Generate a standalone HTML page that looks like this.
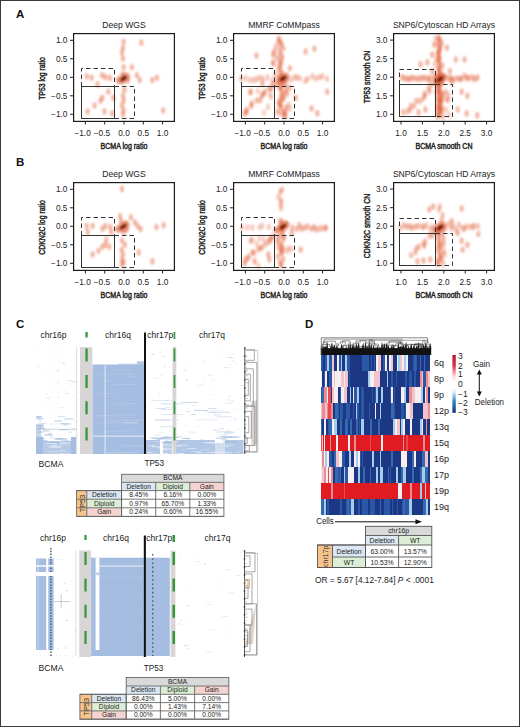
<!DOCTYPE html>
<html><head><meta charset="utf-8"><style>
html,body{margin:0;padding:0;background:#fff;width:520px;height:727px;overflow:hidden}
svg{display:block}
text{font-family:"Liberation Sans",sans-serif}
</style></head><body>
<svg width="520" height="727" viewBox="0 0 520 727">
<defs>
<filter id="blur" x="-50%" y="-50%" width="200%" height="200%"><feGaussianBlur stdDeviation="1.25"/></filter>
<filter id="blur2" x="-50%" y="-50%" width="200%" height="200%"><feGaussianBlur stdDeviation="0.9"/></filter>
</defs>
<rect x="0" y="0" width="520" height="727" fill="#fff"/>
<g filter="url(#blur)">
<ellipse cx="123.6" cy="41.8" rx="2.1" ry="3.3" fill="#e3643f" fill-opacity="0.47"/>
<ellipse cx="123.0" cy="47.7" rx="2.1" ry="3.3" fill="#e3643f" fill-opacity="0.47"/>
<ellipse cx="122.0" cy="52.6" rx="2.1" ry="3.3" fill="#e3643f" fill-opacity="0.47"/>
<ellipse cx="123.0" cy="58.5" rx="2.1" ry="3.3" fill="#e3643f" fill-opacity="0.47"/>
<ellipse cx="123.6" cy="67.3" rx="2.1" ry="3.3" fill="#e3643f" fill-opacity="0.47"/>
<ellipse cx="123.0" cy="74.2" rx="2.1" ry="3.3" fill="#e3643f" fill-opacity="0.47"/>
<ellipse cx="124.4" cy="89.9" rx="2.1" ry="3.3" fill="#e3643f" fill-opacity="0.47"/>
<ellipse cx="123.0" cy="95.8" rx="2.1" ry="3.3" fill="#e3643f" fill-opacity="0.47"/>
<ellipse cx="123.6" cy="100.7" rx="2.1" ry="3.3" fill="#e3643f" fill-opacity="0.47"/>
<ellipse cx="122.0" cy="105.6" rx="2.1" ry="3.3" fill="#e3643f" fill-opacity="0.47"/>
<ellipse cx="123.6" cy="110.5" rx="2.1" ry="3.3" fill="#e3643f" fill-opacity="0.47"/>
<ellipse cx="123.0" cy="114.4" rx="2.1" ry="3.3" fill="#e3643f" fill-opacity="0.47"/>
<ellipse cx="141.3" cy="42.8" rx="2.1" ry="3.3" fill="#e3643f" fill-opacity="0.47"/>
<ellipse cx="131.8" cy="67.3" rx="2.1" ry="3.3" fill="#e3643f" fill-opacity="0.47"/>
<ellipse cx="136.8" cy="75.2" rx="2.1" ry="3.3" fill="#e3643f" fill-opacity="0.47"/>
<ellipse cx="139.7" cy="80.1" rx="2.1" ry="3.3" fill="#e3643f" fill-opacity="0.47"/>
<ellipse cx="152.4" cy="80.1" rx="2.1" ry="3.3" fill="#e3643f" fill-opacity="0.47"/>
<ellipse cx="157.0" cy="77.7" rx="2.1" ry="3.3" fill="#e3643f" fill-opacity="0.47"/>
<ellipse cx="163.2" cy="110.5" rx="2.1" ry="3.3" fill="#e3643f" fill-opacity="0.47"/>
<ellipse cx="86.7" cy="76.5" rx="2.1" ry="3.3" fill="#e3643f" fill-opacity="0.47"/>
<ellipse cx="91.6" cy="77.7" rx="2.1" ry="3.3" fill="#e3643f" fill-opacity="0.47"/>
<ellipse cx="102.0" cy="75.2" rx="2.1" ry="3.3" fill="#e3643f" fill-opacity="0.47"/>
<ellipse cx="105.4" cy="77.1" rx="2.1" ry="3.3" fill="#e3643f" fill-opacity="0.47"/>
<ellipse cx="109.9" cy="78.1" rx="2.1" ry="3.3" fill="#e3643f" fill-opacity="0.47"/>
<ellipse cx="97.5" cy="84.4" rx="2.1" ry="3.3" fill="#e3643f" fill-opacity="0.47"/>
<ellipse cx="108.3" cy="91.8" rx="2.1" ry="3.3" fill="#e3643f" fill-opacity="0.47"/>
<ellipse cx="102.4" cy="97.7" rx="2.1" ry="3.3" fill="#e3643f" fill-opacity="0.47"/>
<ellipse cx="100.5" cy="100.7" rx="2.1" ry="3.3" fill="#e3643f" fill-opacity="0.47"/>
<ellipse cx="94.6" cy="105.6" rx="2.1" ry="3.3" fill="#e3643f" fill-opacity="0.47"/>
<ellipse cx="87.7" cy="111.5" rx="2.1" ry="3.3" fill="#e3643f" fill-opacity="0.47"/>
<ellipse cx="104.4" cy="111.5" rx="2.1" ry="3.3" fill="#e3643f" fill-opacity="0.47"/>
<ellipse cx="112.2" cy="113.4" rx="2.1" ry="3.3" fill="#e3643f" fill-opacity="0.47"/>
<ellipse cx="113.2" cy="97.7" rx="2.1" ry="3.3" fill="#e3643f" fill-opacity="0.47"/>
<ellipse cx="118.1" cy="80.1" rx="2.1" ry="3.3" fill="#e3643f" fill-opacity="0.47"/>
<ellipse cx="127.9" cy="80.1" rx="2.1" ry="3.3" fill="#e3643f" fill-opacity="0.47"/>
</g>
<g filter="url(#blur2)"><ellipse cx="123.6" cy="78.5" rx="7.5" ry="4.8" fill="#e06038" fill-opacity="0.6" transform="rotate(-40 123.6 78.5)"/><ellipse cx="123.6" cy="78.5" rx="4" ry="1.8" fill="#5a0c02" fill-opacity="0.95" transform="rotate(-40 123.6 78.5)"/></g>
<rect x="73.6" y="33.6" width="100.8" height="87.8" fill="none" stroke="#1a1a1a" stroke-width="1.2"/>
<rect x="81.5" y="86.5" width="33.0" height="32.0" stroke="#333" stroke-width="1" fill="none"/>
<path d="M81.5 86.5V68.5H114.5V86.5" stroke="#333" stroke-width="1" fill="none" stroke-dasharray="4.5 3"/>
<path d="M114.5 86.5H134.5V118.5H114.5" stroke="#333" stroke-width="1" fill="none" stroke-dasharray="4.5 3"/>
<line x1="85.4" y1="121.5" x2="85.4" y2="124.5" stroke="#222" stroke-width="1"/>
<text x="82.6" y="135.8" font-size="8.3" text-anchor="middle" fill="#222">−1.0</text>
<line x1="104.7" y1="121.5" x2="104.7" y2="124.5" stroke="#222" stroke-width="1"/>
<text x="101.9" y="135.8" font-size="8.3" text-anchor="middle" fill="#222">−0.5</text>
<line x1="124.0" y1="121.5" x2="124.0" y2="124.5" stroke="#222" stroke-width="1"/>
<text x="124.0" y="135.8" font-size="8.3" text-anchor="middle" fill="#222">0.0</text>
<line x1="143.3" y1="121.5" x2="143.3" y2="124.5" stroke="#222" stroke-width="1"/>
<text x="143.3" y="135.8" font-size="8.3" text-anchor="middle" fill="#222">0.5</text>
<line x1="162.6" y1="121.5" x2="162.6" y2="124.5" stroke="#222" stroke-width="1"/>
<text x="162.6" y="135.8" font-size="8.3" text-anchor="middle" fill="#222">1.0</text>
<line x1="70" y1="40.3" x2="73" y2="40.3" stroke="#222" stroke-width="1"/>
<text x="67.5" y="43.3" font-size="8.3" text-anchor="end" fill="#222">1.0</text>
<line x1="70" y1="58.8" x2="73" y2="58.8" stroke="#222" stroke-width="1"/>
<text x="67.5" y="61.8" font-size="8.3" text-anchor="end" fill="#222">0.5</text>
<line x1="70" y1="77.3" x2="73" y2="77.3" stroke="#222" stroke-width="1"/>
<text x="67.5" y="80.3" font-size="8.3" text-anchor="end" fill="#222">0.0</text>
<line x1="70" y1="95.8" x2="73" y2="95.8" stroke="#222" stroke-width="1"/>
<text x="67.5" y="98.8" font-size="8.3" text-anchor="end" fill="#222">−0.5</text>
<line x1="70" y1="114.3" x2="73" y2="114.3" stroke="#222" stroke-width="1"/>
<text x="67.5" y="117.3" font-size="8.3" text-anchor="end" fill="#222">−1.0</text>
<text x="124" y="28" font-size="8.6" text-anchor="middle" fill="#222">Deep WGS</text>
<text transform="translate(124.0 148.5) scale(0.8 1)" font-size="8.8" text-anchor="middle" fill="#222" stroke="#222" stroke-width="0.45">BCMA log ratio</text>
<text transform="translate(44.6 78.5) rotate(-90) scale(0.78 1)" font-size="8.8" text-anchor="middle" fill="#222" stroke="#222" stroke-width="0.45">TP53 log ratio</text>
<g filter="url(#blur)">
<ellipse cx="278.7" cy="39.0" rx="2.1" ry="3.3" fill="#e3643f" fill-opacity="0.36"/>
<ellipse cx="278.8" cy="41.6" rx="2.1" ry="3.3" fill="#e3643f" fill-opacity="0.36"/>
<ellipse cx="280.8" cy="42.6" rx="2.1" ry="3.3" fill="#e3643f" fill-opacity="0.36"/>
<ellipse cx="276.6" cy="45.6" rx="2.1" ry="3.3" fill="#e3643f" fill-opacity="0.36"/>
<ellipse cx="283.7" cy="48.5" rx="2.1" ry="3.3" fill="#e3643f" fill-opacity="0.36"/>
<ellipse cx="280.1" cy="49.7" rx="2.1" ry="3.3" fill="#e3643f" fill-opacity="0.36"/>
<ellipse cx="279.6" cy="52.7" rx="2.1" ry="3.3" fill="#e3643f" fill-opacity="0.36"/>
<ellipse cx="281.3" cy="55.1" rx="2.1" ry="3.3" fill="#e3643f" fill-opacity="0.36"/>
<ellipse cx="282.4" cy="57.0" rx="2.1" ry="3.3" fill="#e3643f" fill-opacity="0.36"/>
<ellipse cx="281.2" cy="60.2" rx="2.1" ry="3.3" fill="#e3643f" fill-opacity="0.36"/>
<ellipse cx="281.2" cy="62.4" rx="2.1" ry="3.3" fill="#e3643f" fill-opacity="0.36"/>
<ellipse cx="279.9" cy="63.8" rx="2.1" ry="3.3" fill="#e3643f" fill-opacity="0.36"/>
<ellipse cx="280.3" cy="65.9" rx="2.1" ry="3.3" fill="#e3643f" fill-opacity="0.36"/>
<ellipse cx="280.4" cy="69.5" rx="2.1" ry="3.3" fill="#e3643f" fill-opacity="0.36"/>
<ellipse cx="281.4" cy="72.0" rx="2.1" ry="3.3" fill="#e3643f" fill-opacity="0.36"/>
<ellipse cx="282.4" cy="74.2" rx="2.1" ry="3.3" fill="#e3643f" fill-opacity="0.36"/>
<ellipse cx="279.8" cy="76.0" rx="2.1" ry="3.3" fill="#e3643f" fill-opacity="0.36"/>
<ellipse cx="285.9" cy="78.6" rx="2.1" ry="3.3" fill="#e3643f" fill-opacity="0.36"/>
<ellipse cx="282.4" cy="80.9" rx="2.1" ry="3.3" fill="#e3643f" fill-opacity="0.36"/>
<ellipse cx="285.5" cy="83.7" rx="2.1" ry="3.3" fill="#e3643f" fill-opacity="0.36"/>
<ellipse cx="282.4" cy="85.1" rx="2.1" ry="3.3" fill="#e3643f" fill-opacity="0.36"/>
<ellipse cx="280.0" cy="87.2" rx="2.1" ry="3.3" fill="#e3643f" fill-opacity="0.36"/>
<ellipse cx="281.5" cy="89.7" rx="2.1" ry="3.3" fill="#e3643f" fill-opacity="0.36"/>
<ellipse cx="281.6" cy="92.5" rx="2.1" ry="3.3" fill="#e3643f" fill-opacity="0.36"/>
<ellipse cx="284.0" cy="94.5" rx="2.1" ry="3.3" fill="#e3643f" fill-opacity="0.36"/>
<ellipse cx="281.1" cy="96.8" rx="2.1" ry="3.3" fill="#e3643f" fill-opacity="0.36"/>
<ellipse cx="282.0" cy="99.1" rx="2.1" ry="3.3" fill="#e3643f" fill-opacity="0.36"/>
<ellipse cx="279.0" cy="101.7" rx="2.1" ry="3.3" fill="#e3643f" fill-opacity="0.36"/>
<ellipse cx="280.9" cy="104.7" rx="2.1" ry="3.3" fill="#e3643f" fill-opacity="0.36"/>
<ellipse cx="280.4" cy="105.7" rx="2.1" ry="3.3" fill="#e3643f" fill-opacity="0.36"/>
<ellipse cx="281.1" cy="108.0" rx="2.1" ry="3.3" fill="#e3643f" fill-opacity="0.36"/>
<ellipse cx="277.3" cy="111.4" rx="2.1" ry="3.3" fill="#e3643f" fill-opacity="0.36"/>
<ellipse cx="279.3" cy="112.7" rx="2.1" ry="3.3" fill="#e3643f" fill-opacity="0.36"/>
<ellipse cx="283.0" cy="115.1" rx="2.1" ry="3.3" fill="#e3643f" fill-opacity="0.36"/>
<ellipse cx="279.2" cy="39.3" rx="2.1" ry="3.3" fill="#e3643f" fill-opacity="0.33"/>
<ellipse cx="281.6" cy="43.7" rx="2.1" ry="3.3" fill="#e3643f" fill-opacity="0.33"/>
<ellipse cx="281.4" cy="46.2" rx="2.1" ry="3.3" fill="#e3643f" fill-opacity="0.33"/>
<ellipse cx="275.1" cy="49.6" rx="2.1" ry="3.3" fill="#e3643f" fill-opacity="0.33"/>
<ellipse cx="273.8" cy="52.4" rx="2.1" ry="3.3" fill="#e3643f" fill-opacity="0.33"/>
<ellipse cx="276.6" cy="57.1" rx="2.1" ry="3.3" fill="#e3643f" fill-opacity="0.33"/>
<ellipse cx="278.3" cy="59.0" rx="2.1" ry="3.3" fill="#e3643f" fill-opacity="0.33"/>
<ellipse cx="273.4" cy="64.1" rx="2.1" ry="3.3" fill="#e3643f" fill-opacity="0.33"/>
<ellipse cx="278.6" cy="66.8" rx="2.1" ry="3.3" fill="#e3643f" fill-opacity="0.33"/>
<ellipse cx="278.1" cy="70.7" rx="2.1" ry="3.3" fill="#e3643f" fill-opacity="0.33"/>
<ellipse cx="284.0" cy="85.1" rx="2.1" ry="3.3" fill="#e3643f" fill-opacity="0.33"/>
<ellipse cx="290.1" cy="88.0" rx="2.1" ry="3.3" fill="#e3643f" fill-opacity="0.33"/>
<ellipse cx="285.9" cy="90.8" rx="2.1" ry="3.3" fill="#e3643f" fill-opacity="0.33"/>
<ellipse cx="287.5" cy="94.3" rx="2.1" ry="3.3" fill="#e3643f" fill-opacity="0.33"/>
<ellipse cx="283.9" cy="97.7" rx="2.1" ry="3.3" fill="#e3643f" fill-opacity="0.33"/>
<ellipse cx="280.2" cy="100.8" rx="2.1" ry="3.3" fill="#e3643f" fill-opacity="0.33"/>
<ellipse cx="288.8" cy="104.8" rx="2.1" ry="3.3" fill="#e3643f" fill-opacity="0.33"/>
<ellipse cx="286.2" cy="107.8" rx="2.1" ry="3.3" fill="#e3643f" fill-opacity="0.33"/>
<ellipse cx="283.3" cy="111.6" rx="2.1" ry="3.3" fill="#e3643f" fill-opacity="0.33"/>
<ellipse cx="284.3" cy="114.9" rx="2.1" ry="3.3" fill="#e3643f" fill-opacity="0.33"/>
<ellipse cx="241.0" cy="78.8" rx="2.1" ry="3.3" fill="#e3643f" fill-opacity="0.36"/>
<ellipse cx="245.6" cy="78.3" rx="2.1" ry="3.3" fill="#e3643f" fill-opacity="0.36"/>
<ellipse cx="250.1" cy="80.0" rx="2.1" ry="3.3" fill="#e3643f" fill-opacity="0.36"/>
<ellipse cx="254.0" cy="80.1" rx="2.1" ry="3.3" fill="#e3643f" fill-opacity="0.36"/>
<ellipse cx="256.9" cy="78.7" rx="2.1" ry="3.3" fill="#e3643f" fill-opacity="0.36"/>
<ellipse cx="260.2" cy="77.9" rx="2.1" ry="3.3" fill="#e3643f" fill-opacity="0.36"/>
<ellipse cx="263.2" cy="79.2" rx="2.1" ry="3.3" fill="#e3643f" fill-opacity="0.36"/>
<ellipse cx="267.6" cy="77.6" rx="2.1" ry="3.3" fill="#e3643f" fill-opacity="0.36"/>
<ellipse cx="272.5" cy="80.8" rx="2.1" ry="3.3" fill="#e3643f" fill-opacity="0.36"/>
<ellipse cx="274.9" cy="75.5" rx="2.1" ry="3.3" fill="#e3643f" fill-opacity="0.36"/>
<ellipse cx="278.7" cy="78.3" rx="2.1" ry="3.3" fill="#e3643f" fill-opacity="0.36"/>
<ellipse cx="281.9" cy="77.0" rx="2.1" ry="3.3" fill="#e3643f" fill-opacity="0.36"/>
<ellipse cx="285.9" cy="79.3" rx="2.1" ry="3.3" fill="#e3643f" fill-opacity="0.36"/>
<ellipse cx="290.8" cy="79.6" rx="2.1" ry="3.3" fill="#e3643f" fill-opacity="0.36"/>
<ellipse cx="294.5" cy="77.4" rx="2.1" ry="3.3" fill="#e3643f" fill-opacity="0.36"/>
<ellipse cx="296.8" cy="77.4" rx="2.1" ry="3.3" fill="#e3643f" fill-opacity="0.36"/>
<ellipse cx="299.9" cy="78.2" rx="2.1" ry="3.3" fill="#e3643f" fill-opacity="0.36"/>
<ellipse cx="305.3" cy="80.9" rx="2.1" ry="3.3" fill="#e3643f" fill-opacity="0.36"/>
<ellipse cx="307.8" cy="79.0" rx="2.1" ry="3.3" fill="#e3643f" fill-opacity="0.36"/>
<ellipse cx="312.3" cy="76.2" rx="2.1" ry="3.3" fill="#e3643f" fill-opacity="0.36"/>
<ellipse cx="315.9" cy="78.6" rx="2.1" ry="3.3" fill="#e3643f" fill-opacity="0.36"/>
<ellipse cx="319.6" cy="77.2" rx="2.1" ry="3.3" fill="#e3643f" fill-opacity="0.36"/>
<ellipse cx="322.4" cy="76.2" rx="2.1" ry="3.3" fill="#e3643f" fill-opacity="0.36"/>
<ellipse cx="327.0" cy="78.7" rx="2.1" ry="3.3" fill="#e3643f" fill-opacity="0.36"/>
<ellipse cx="246.8" cy="112.1" rx="2.1" ry="3.3" fill="#e3643f" fill-opacity="0.45"/>
<ellipse cx="246.5" cy="109.8" rx="2.1" ry="3.3" fill="#e3643f" fill-opacity="0.45"/>
<ellipse cx="251.2" cy="105.9" rx="2.1" ry="3.3" fill="#e3643f" fill-opacity="0.45"/>
<ellipse cx="251.8" cy="103.4" rx="2.1" ry="3.3" fill="#e3643f" fill-opacity="0.45"/>
<ellipse cx="256.9" cy="100.6" rx="2.1" ry="3.3" fill="#e3643f" fill-opacity="0.45"/>
<ellipse cx="260.4" cy="99.9" rx="2.1" ry="3.3" fill="#e3643f" fill-opacity="0.45"/>
<ellipse cx="262.0" cy="95.5" rx="2.1" ry="3.3" fill="#e3643f" fill-opacity="0.45"/>
<ellipse cx="263.4" cy="93.9" rx="2.1" ry="3.3" fill="#e3643f" fill-opacity="0.45"/>
<ellipse cx="265.0" cy="92.1" rx="2.1" ry="3.3" fill="#e3643f" fill-opacity="0.45"/>
<ellipse cx="269.2" cy="88.4" rx="2.1" ry="3.3" fill="#e3643f" fill-opacity="0.45"/>
<ellipse cx="271.4" cy="88.7" rx="2.1" ry="3.3" fill="#e3643f" fill-opacity="0.45"/>
<ellipse cx="272.9" cy="84.4" rx="2.1" ry="3.3" fill="#e3643f" fill-opacity="0.45"/>
<ellipse cx="276.5" cy="83.7" rx="2.1" ry="3.3" fill="#e3643f" fill-opacity="0.45"/>
<ellipse cx="279.2" cy="81.7" rx="2.1" ry="3.3" fill="#e3643f" fill-opacity="0.45"/>
<ellipse cx="256.5" cy="55.6" rx="2.1" ry="3.3" fill="#e3643f" fill-opacity="0.47"/>
<ellipse cx="273.2" cy="54.6" rx="2.1" ry="3.3" fill="#e3643f" fill-opacity="0.47"/>
<ellipse cx="305.6" cy="51.6" rx="2.1" ry="3.3" fill="#e3643f" fill-opacity="0.47"/>
<ellipse cx="314.4" cy="48.7" rx="2.1" ry="3.3" fill="#e3643f" fill-opacity="0.47"/>
<ellipse cx="327.2" cy="91.8" rx="2.1" ry="3.3" fill="#e3643f" fill-opacity="0.47"/>
<ellipse cx="311.5" cy="108.5" rx="2.1" ry="3.3" fill="#e3643f" fill-opacity="0.47"/>
<ellipse cx="317.3" cy="113.4" rx="2.1" ry="3.3" fill="#e3643f" fill-opacity="0.47"/>
<ellipse cx="244.8" cy="113.4" rx="2.1" ry="3.3" fill="#e3643f" fill-opacity="0.47"/>
<ellipse cx="289.9" cy="68.3" rx="2.1" ry="3.3" fill="#e3643f" fill-opacity="0.47"/>
<ellipse cx="273.2" cy="62.4" rx="2.1" ry="3.3" fill="#e3643f" fill-opacity="0.47"/>
<ellipse cx="295.8" cy="97.7" rx="2.1" ry="3.3" fill="#e3643f" fill-opacity="0.47"/>
<ellipse cx="262.4" cy="84.0" rx="2.1" ry="3.3" fill="#e3643f" fill-opacity="0.47"/>
<ellipse cx="250.7" cy="91.8" rx="2.1" ry="3.3" fill="#e3643f" fill-opacity="0.47"/>
<ellipse cx="280.4" cy="87.9" rx="2.1" ry="3.3" fill="#e3643f" fill-opacity="0.3"/>
<ellipse cx="285.5" cy="112.0" rx="2.1" ry="3.3" fill="#e3643f" fill-opacity="0.3"/>
<ellipse cx="290.1" cy="108.8" rx="2.1" ry="3.3" fill="#e3643f" fill-opacity="0.3"/>
<ellipse cx="283.3" cy="99.3" rx="2.1" ry="3.3" fill="#e3643f" fill-opacity="0.3"/>
<ellipse cx="284.9" cy="114.4" rx="2.1" ry="3.3" fill="#e3643f" fill-opacity="0.3"/>
<ellipse cx="281.6" cy="94.8" rx="2.1" ry="3.3" fill="#e3643f" fill-opacity="0.3"/>
<ellipse cx="286.0" cy="116.3" rx="2.1" ry="3.3" fill="#e3643f" fill-opacity="0.3"/>
<ellipse cx="279.9" cy="86.9" rx="2.1" ry="3.3" fill="#e3643f" fill-opacity="0.3"/>
<ellipse cx="278.8" cy="103.6" rx="2.1" ry="3.3" fill="#e3643f" fill-opacity="0.3"/>
<ellipse cx="286.0" cy="91.7" rx="2.1" ry="3.3" fill="#e3643f" fill-opacity="0.3"/>
<ellipse cx="279.9" cy="104.6" rx="2.1" ry="3.3" fill="#e3643f" fill-opacity="0.3"/>
<ellipse cx="286.6" cy="107.6" rx="2.1" ry="3.3" fill="#e3643f" fill-opacity="0.3"/>
<ellipse cx="287.9" cy="87.9" rx="2.1" ry="3.3" fill="#e3643f" fill-opacity="0.3"/>
<ellipse cx="284.3" cy="112.2" rx="2.1" ry="3.3" fill="#e3643f" fill-opacity="0.3"/>
<ellipse cx="271.1" cy="97.3" rx="2.1" ry="3.3" fill="#e3643f" fill-opacity="0.3"/>
<ellipse cx="268.1" cy="106.9" rx="2.1" ry="3.3" fill="#e3643f" fill-opacity="0.3"/>
<ellipse cx="270.2" cy="94.7" rx="2.1" ry="3.3" fill="#e3643f" fill-opacity="0.3"/>
<ellipse cx="263.9" cy="112.7" rx="2.1" ry="3.3" fill="#e3643f" fill-opacity="0.3"/>
<ellipse cx="257.9" cy="90.9" rx="2.1" ry="3.3" fill="#e3643f" fill-opacity="0.3"/>
<ellipse cx="250.1" cy="92.5" rx="2.1" ry="3.3" fill="#e3643f" fill-opacity="0.3"/>
</g>
<g filter="url(#blur2)"><ellipse cx="283.0" cy="78.5" rx="7.5" ry="4.8" fill="#e06038" fill-opacity="0.6" transform="rotate(-40 283.0 78.5)"/><ellipse cx="283.0" cy="78.5" rx="4" ry="1.8" fill="#5a0c02" fill-opacity="0.95" transform="rotate(-40 283.0 78.5)"/></g>
<rect x="233.6" y="33.6" width="100.8" height="87.8" fill="none" stroke="#1a1a1a" stroke-width="1.2"/>
<rect x="241.5" y="86.5" width="33.0" height="32.0" stroke="#333" stroke-width="1" fill="none"/>
<path d="M241.5 86.5V68.5H274.5V86.5" stroke="#333" stroke-width="1" fill="none" stroke-dasharray="4.5 3"/>
<path d="M274.5 86.5H294.5V118.5H274.5" stroke="#333" stroke-width="1" fill="none" stroke-dasharray="4.5 3"/>
<line x1="245.4" y1="121.5" x2="245.4" y2="124.5" stroke="#222" stroke-width="1"/>
<text x="242.6" y="135.8" font-size="8.3" text-anchor="middle" fill="#222">−1.0</text>
<line x1="264.7" y1="121.5" x2="264.7" y2="124.5" stroke="#222" stroke-width="1"/>
<text x="261.9" y="135.8" font-size="8.3" text-anchor="middle" fill="#222">−0.5</text>
<line x1="284.0" y1="121.5" x2="284.0" y2="124.5" stroke="#222" stroke-width="1"/>
<text x="284.0" y="135.8" font-size="8.3" text-anchor="middle" fill="#222">0.0</text>
<line x1="303.3" y1="121.5" x2="303.3" y2="124.5" stroke="#222" stroke-width="1"/>
<text x="303.3" y="135.8" font-size="8.3" text-anchor="middle" fill="#222">0.5</text>
<line x1="322.6" y1="121.5" x2="322.6" y2="124.5" stroke="#222" stroke-width="1"/>
<text x="322.6" y="135.8" font-size="8.3" text-anchor="middle" fill="#222">1.0</text>
<line x1="230" y1="40.3" x2="233" y2="40.3" stroke="#222" stroke-width="1"/>
<text x="227.5" y="43.3" font-size="8.3" text-anchor="end" fill="#222">1.0</text>
<line x1="230" y1="58.8" x2="233" y2="58.8" stroke="#222" stroke-width="1"/>
<text x="227.5" y="61.8" font-size="8.3" text-anchor="end" fill="#222">0.5</text>
<line x1="230" y1="77.3" x2="233" y2="77.3" stroke="#222" stroke-width="1"/>
<text x="227.5" y="80.3" font-size="8.3" text-anchor="end" fill="#222">0.0</text>
<line x1="230" y1="95.8" x2="233" y2="95.8" stroke="#222" stroke-width="1"/>
<text x="227.5" y="98.8" font-size="8.3" text-anchor="end" fill="#222">−0.5</text>
<line x1="230" y1="114.3" x2="233" y2="114.3" stroke="#222" stroke-width="1"/>
<text x="227.5" y="117.3" font-size="8.3" text-anchor="end" fill="#222">−1.0</text>
<text x="284" y="28" font-size="8.6" text-anchor="middle" fill="#222">MMRF CoMMpass</text>
<text transform="translate(284.0 148.5) scale(0.8 1)" font-size="8.8" text-anchor="middle" fill="#222" stroke="#222" stroke-width="0.45">BCMA log ratio</text>
<text transform="translate(204.6 78.5) rotate(-90) scale(0.78 1)" font-size="8.8" text-anchor="middle" fill="#222" stroke="#222" stroke-width="0.45">TP53 log ratio</text>
<g filter="url(#blur)">
<ellipse cx="438.2" cy="37.3" rx="2.1" ry="3.3" fill="#e3643f" fill-opacity="0.45"/>
<ellipse cx="439.5" cy="39.3" rx="2.1" ry="3.3" fill="#e3643f" fill-opacity="0.45"/>
<ellipse cx="439.5" cy="40.6" rx="2.1" ry="3.3" fill="#e3643f" fill-opacity="0.45"/>
<ellipse cx="441.8" cy="43.2" rx="2.1" ry="3.3" fill="#e3643f" fill-opacity="0.45"/>
<ellipse cx="439.1" cy="44.9" rx="2.1" ry="3.3" fill="#e3643f" fill-opacity="0.45"/>
<ellipse cx="440.5" cy="47.8" rx="2.1" ry="3.3" fill="#e3643f" fill-opacity="0.45"/>
<ellipse cx="439.1" cy="49.6" rx="2.1" ry="3.3" fill="#e3643f" fill-opacity="0.45"/>
<ellipse cx="439.5" cy="51.0" rx="2.1" ry="3.3" fill="#e3643f" fill-opacity="0.45"/>
<ellipse cx="438.3" cy="53.6" rx="2.1" ry="3.3" fill="#e3643f" fill-opacity="0.45"/>
<ellipse cx="439.0" cy="56.1" rx="2.1" ry="3.3" fill="#e3643f" fill-opacity="0.45"/>
<ellipse cx="439.8" cy="58.0" rx="2.1" ry="3.3" fill="#e3643f" fill-opacity="0.45"/>
<ellipse cx="438.2" cy="59.8" rx="2.1" ry="3.3" fill="#e3643f" fill-opacity="0.45"/>
<ellipse cx="438.8" cy="61.8" rx="2.1" ry="3.3" fill="#e3643f" fill-opacity="0.45"/>
<ellipse cx="439.8" cy="63.8" rx="2.1" ry="3.3" fill="#e3643f" fill-opacity="0.45"/>
<ellipse cx="442.3" cy="65.9" rx="2.1" ry="3.3" fill="#e3643f" fill-opacity="0.45"/>
<ellipse cx="438.5" cy="67.6" rx="2.1" ry="3.3" fill="#e3643f" fill-opacity="0.45"/>
<ellipse cx="439.3" cy="69.4" rx="2.1" ry="3.3" fill="#e3643f" fill-opacity="0.45"/>
<ellipse cx="439.3" cy="72.0" rx="2.1" ry="3.3" fill="#e3643f" fill-opacity="0.45"/>
<ellipse cx="438.8" cy="74.1" rx="2.1" ry="3.3" fill="#e3643f" fill-opacity="0.45"/>
<ellipse cx="438.9" cy="76.5" rx="2.1" ry="3.3" fill="#e3643f" fill-opacity="0.45"/>
<ellipse cx="438.4" cy="77.7" rx="2.1" ry="3.3" fill="#e3643f" fill-opacity="0.45"/>
<ellipse cx="440.2" cy="79.8" rx="2.1" ry="3.3" fill="#e3643f" fill-opacity="0.45"/>
<ellipse cx="440.4" cy="82.7" rx="2.1" ry="3.3" fill="#e3643f" fill-opacity="0.45"/>
<ellipse cx="439.1" cy="84.7" rx="2.1" ry="3.3" fill="#e3643f" fill-opacity="0.45"/>
<ellipse cx="438.5" cy="86.8" rx="2.1" ry="3.3" fill="#e3643f" fill-opacity="0.45"/>
<ellipse cx="438.8" cy="88.3" rx="2.1" ry="3.3" fill="#e3643f" fill-opacity="0.45"/>
<ellipse cx="438.4" cy="90.9" rx="2.1" ry="3.3" fill="#e3643f" fill-opacity="0.45"/>
<ellipse cx="439.8" cy="92.3" rx="2.1" ry="3.3" fill="#e3643f" fill-opacity="0.45"/>
<ellipse cx="439.0" cy="93.9" rx="2.1" ry="3.3" fill="#e3643f" fill-opacity="0.45"/>
<ellipse cx="440.6" cy="96.6" rx="2.1" ry="3.3" fill="#e3643f" fill-opacity="0.45"/>
<ellipse cx="438.4" cy="98.8" rx="2.1" ry="3.3" fill="#e3643f" fill-opacity="0.45"/>
<ellipse cx="439.6" cy="100.9" rx="2.1" ry="3.3" fill="#e3643f" fill-opacity="0.45"/>
<ellipse cx="440.7" cy="102.3" rx="2.1" ry="3.3" fill="#e3643f" fill-opacity="0.45"/>
<ellipse cx="439.4" cy="105.2" rx="2.1" ry="3.3" fill="#e3643f" fill-opacity="0.45"/>
<ellipse cx="439.5" cy="106.4" rx="2.1" ry="3.3" fill="#e3643f" fill-opacity="0.45"/>
<ellipse cx="438.4" cy="108.3" rx="2.1" ry="3.3" fill="#e3643f" fill-opacity="0.45"/>
<ellipse cx="440.3" cy="110.9" rx="2.1" ry="3.3" fill="#e3643f" fill-opacity="0.45"/>
<ellipse cx="439.2" cy="112.8" rx="2.1" ry="3.3" fill="#e3643f" fill-opacity="0.45"/>
<ellipse cx="438.3" cy="115.1" rx="2.1" ry="3.3" fill="#e3643f" fill-opacity="0.45"/>
<ellipse cx="438.0" cy="116.4" rx="2.1" ry="3.3" fill="#e3643f" fill-opacity="0.45"/>
<ellipse cx="441.3" cy="73.2" rx="2.1" ry="3.3" fill="#e3643f" fill-opacity="0.4"/>
<ellipse cx="440.4" cy="75.7" rx="2.1" ry="3.3" fill="#e3643f" fill-opacity="0.4"/>
<ellipse cx="440.9" cy="78.8" rx="2.1" ry="3.3" fill="#e3643f" fill-opacity="0.4"/>
<ellipse cx="442.4" cy="81.5" rx="2.1" ry="3.3" fill="#e3643f" fill-opacity="0.4"/>
<ellipse cx="441.2" cy="83.8" rx="2.1" ry="3.3" fill="#e3643f" fill-opacity="0.4"/>
<ellipse cx="439.9" cy="87.1" rx="2.1" ry="3.3" fill="#e3643f" fill-opacity="0.4"/>
<ellipse cx="439.2" cy="91.1" rx="2.1" ry="3.3" fill="#e3643f" fill-opacity="0.4"/>
<ellipse cx="441.9" cy="93.3" rx="2.1" ry="3.3" fill="#e3643f" fill-opacity="0.4"/>
<ellipse cx="442.9" cy="96.0" rx="2.1" ry="3.3" fill="#e3643f" fill-opacity="0.4"/>
<ellipse cx="441.4" cy="99.2" rx="2.1" ry="3.3" fill="#e3643f" fill-opacity="0.4"/>
<ellipse cx="440.9" cy="101.9" rx="2.1" ry="3.3" fill="#e3643f" fill-opacity="0.4"/>
<ellipse cx="439.9" cy="105.5" rx="2.1" ry="3.3" fill="#e3643f" fill-opacity="0.4"/>
<ellipse cx="440.5" cy="108.3" rx="2.1" ry="3.3" fill="#e3643f" fill-opacity="0.4"/>
<ellipse cx="441.9" cy="110.0" rx="2.1" ry="3.3" fill="#e3643f" fill-opacity="0.4"/>
<ellipse cx="440.7" cy="112.7" rx="2.1" ry="3.3" fill="#e3643f" fill-opacity="0.4"/>
<ellipse cx="443.0" cy="116.9" rx="2.1" ry="3.3" fill="#e3643f" fill-opacity="0.4"/>
<ellipse cx="401.9" cy="77.4" rx="2.1" ry="3.3" fill="#e3643f" fill-opacity="0.45"/>
<ellipse cx="404.7" cy="78.4" rx="2.1" ry="3.3" fill="#e3643f" fill-opacity="0.45"/>
<ellipse cx="407.5" cy="78.8" rx="2.1" ry="3.3" fill="#e3643f" fill-opacity="0.45"/>
<ellipse cx="409.6" cy="79.0" rx="2.1" ry="3.3" fill="#e3643f" fill-opacity="0.45"/>
<ellipse cx="412.1" cy="77.8" rx="2.1" ry="3.3" fill="#e3643f" fill-opacity="0.45"/>
<ellipse cx="414.8" cy="78.6" rx="2.1" ry="3.3" fill="#e3643f" fill-opacity="0.45"/>
<ellipse cx="417.8" cy="78.8" rx="2.1" ry="3.3" fill="#e3643f" fill-opacity="0.45"/>
<ellipse cx="420.4" cy="78.4" rx="2.1" ry="3.3" fill="#e3643f" fill-opacity="0.45"/>
<ellipse cx="423.0" cy="78.0" rx="2.1" ry="3.3" fill="#e3643f" fill-opacity="0.45"/>
<ellipse cx="425.5" cy="77.9" rx="2.1" ry="3.3" fill="#e3643f" fill-opacity="0.45"/>
<ellipse cx="428.5" cy="79.6" rx="2.1" ry="3.3" fill="#e3643f" fill-opacity="0.45"/>
<ellipse cx="429.7" cy="78.1" rx="2.1" ry="3.3" fill="#e3643f" fill-opacity="0.45"/>
<ellipse cx="433.6" cy="78.4" rx="2.1" ry="3.3" fill="#e3643f" fill-opacity="0.45"/>
<ellipse cx="436.3" cy="79.5" rx="2.1" ry="3.3" fill="#e3643f" fill-opacity="0.45"/>
<ellipse cx="438.6" cy="78.7" rx="2.1" ry="3.3" fill="#e3643f" fill-opacity="0.45"/>
<ellipse cx="441.5" cy="78.7" rx="2.1" ry="3.3" fill="#e3643f" fill-opacity="0.45"/>
<ellipse cx="442.9" cy="77.3" rx="2.1" ry="3.3" fill="#e3643f" fill-opacity="0.45"/>
<ellipse cx="445.6" cy="77.5" rx="2.1" ry="3.3" fill="#e3643f" fill-opacity="0.45"/>
<ellipse cx="448.9" cy="78.6" rx="2.1" ry="3.3" fill="#e3643f" fill-opacity="0.45"/>
<ellipse cx="451.1" cy="78.2" rx="2.1" ry="3.3" fill="#e3643f" fill-opacity="0.45"/>
<ellipse cx="453.3" cy="79.3" rx="2.1" ry="3.3" fill="#e3643f" fill-opacity="0.45"/>
<ellipse cx="456.9" cy="78.6" rx="2.1" ry="3.3" fill="#e3643f" fill-opacity="0.45"/>
<ellipse cx="459.8" cy="78.8" rx="2.1" ry="3.3" fill="#e3643f" fill-opacity="0.45"/>
<ellipse cx="461.5" cy="78.9" rx="2.1" ry="3.3" fill="#e3643f" fill-opacity="0.45"/>
<ellipse cx="464.6" cy="75.8" rx="2.1" ry="3.3" fill="#e3643f" fill-opacity="0.45"/>
<ellipse cx="466.8" cy="78.3" rx="2.1" ry="3.3" fill="#e3643f" fill-opacity="0.45"/>
<ellipse cx="468.9" cy="77.9" rx="2.1" ry="3.3" fill="#e3643f" fill-opacity="0.45"/>
<ellipse cx="472.5" cy="77.6" rx="2.1" ry="3.3" fill="#e3643f" fill-opacity="0.45"/>
<ellipse cx="474.9" cy="79.2" rx="2.1" ry="3.3" fill="#e3643f" fill-opacity="0.45"/>
<ellipse cx="477.7" cy="77.4" rx="2.1" ry="3.3" fill="#e3643f" fill-opacity="0.45"/>
<ellipse cx="403.2" cy="112.3" rx="2.1" ry="3.3" fill="#e3643f" fill-opacity="0.42"/>
<ellipse cx="407.4" cy="111.3" rx="2.1" ry="3.3" fill="#e3643f" fill-opacity="0.42"/>
<ellipse cx="410.2" cy="109.7" rx="2.1" ry="3.3" fill="#e3643f" fill-opacity="0.42"/>
<ellipse cx="410.8" cy="105.9" rx="2.1" ry="3.3" fill="#e3643f" fill-opacity="0.42"/>
<ellipse cx="414.2" cy="106.0" rx="2.1" ry="3.3" fill="#e3643f" fill-opacity="0.42"/>
<ellipse cx="416.2" cy="100.8" rx="2.1" ry="3.3" fill="#e3643f" fill-opacity="0.42"/>
<ellipse cx="419.8" cy="101.1" rx="2.1" ry="3.3" fill="#e3643f" fill-opacity="0.42"/>
<ellipse cx="423.1" cy="98.6" rx="2.1" ry="3.3" fill="#e3643f" fill-opacity="0.42"/>
<ellipse cx="424.9" cy="95.8" rx="2.1" ry="3.3" fill="#e3643f" fill-opacity="0.42"/>
<ellipse cx="424.7" cy="93.6" rx="2.1" ry="3.3" fill="#e3643f" fill-opacity="0.42"/>
<ellipse cx="429.5" cy="91.2" rx="2.1" ry="3.3" fill="#e3643f" fill-opacity="0.42"/>
<ellipse cx="428.8" cy="88.3" rx="2.1" ry="3.3" fill="#e3643f" fill-opacity="0.42"/>
<ellipse cx="431.3" cy="84.4" rx="2.1" ry="3.3" fill="#e3643f" fill-opacity="0.42"/>
<ellipse cx="435.6" cy="83.5" rx="2.1" ry="3.3" fill="#e3643f" fill-opacity="0.42"/>
<ellipse cx="420.5" cy="64.4" rx="2.1" ry="3.3" fill="#e3643f" fill-opacity="0.47"/>
<ellipse cx="427.3" cy="62.4" rx="2.1" ry="3.3" fill="#e3643f" fill-opacity="0.47"/>
<ellipse cx="432.2" cy="71.3" rx="2.1" ry="3.3" fill="#e3643f" fill-opacity="0.47"/>
<ellipse cx="455.8" cy="59.5" rx="2.1" ry="3.3" fill="#e3643f" fill-opacity="0.47"/>
<ellipse cx="464.6" cy="59.5" rx="2.1" ry="3.3" fill="#e3643f" fill-opacity="0.47"/>
<ellipse cx="449.9" cy="71.3" rx="2.1" ry="3.3" fill="#e3643f" fill-opacity="0.47"/>
<ellipse cx="461.7" cy="91.8" rx="2.1" ry="3.3" fill="#e3643f" fill-opacity="0.47"/>
<ellipse cx="467.5" cy="95.8" rx="2.1" ry="3.3" fill="#e3643f" fill-opacity="0.47"/>
<ellipse cx="457.7" cy="109.5" rx="2.1" ry="3.3" fill="#e3643f" fill-opacity="0.47"/>
<ellipse cx="466.6" cy="113.4" rx="2.1" ry="3.3" fill="#e3643f" fill-opacity="0.47"/>
<ellipse cx="477.3" cy="115.4" rx="2.1" ry="3.3" fill="#e3643f" fill-opacity="0.47"/>
<ellipse cx="446.9" cy="47.7" rx="2.1" ry="3.3" fill="#e3643f" fill-opacity="0.47"/>
<ellipse cx="434.2" cy="44.8" rx="2.1" ry="3.3" fill="#e3643f" fill-opacity="0.47"/>
<ellipse cx="432.2" cy="54.6" rx="2.1" ry="3.3" fill="#e3643f" fill-opacity="0.47"/>
<ellipse cx="451.8" cy="82.0" rx="2.1" ry="3.3" fill="#e3643f" fill-opacity="0.47"/>
<ellipse cx="447.9" cy="99.7" rx="2.1" ry="3.3" fill="#e3643f" fill-opacity="0.47"/>
<ellipse cx="418.5" cy="112.4" rx="2.1" ry="3.3" fill="#e3643f" fill-opacity="0.47"/>
<ellipse cx="425.4" cy="109.5" rx="2.1" ry="3.3" fill="#e3643f" fill-opacity="0.47"/>
<ellipse cx="435.3" cy="39.2" rx="2.1" ry="3.3" fill="#e3643f" fill-opacity="0.33"/>
<ellipse cx="437.3" cy="44.8" rx="2.1" ry="3.3" fill="#e3643f" fill-opacity="0.33"/>
<ellipse cx="437.7" cy="52.6" rx="2.1" ry="3.3" fill="#e3643f" fill-opacity="0.33"/>
<ellipse cx="436.4" cy="58.4" rx="2.1" ry="3.3" fill="#e3643f" fill-opacity="0.33"/>
<ellipse cx="434.7" cy="63.7" rx="2.1" ry="3.3" fill="#e3643f" fill-opacity="0.33"/>
<ellipse cx="438.7" cy="69.0" rx="2.1" ry="3.3" fill="#e3643f" fill-opacity="0.33"/>
<ellipse cx="435.4" cy="75.8" rx="2.1" ry="3.3" fill="#e3643f" fill-opacity="0.33"/>
<ellipse cx="436.9" cy="78.3" rx="2.1" ry="3.3" fill="#e3643f" fill-opacity="0.33"/>
<ellipse cx="436.8" cy="84.4" rx="2.1" ry="3.3" fill="#e3643f" fill-opacity="0.33"/>
<ellipse cx="435.8" cy="91.6" rx="2.1" ry="3.3" fill="#e3643f" fill-opacity="0.33"/>
<ellipse cx="437.3" cy="97.4" rx="2.1" ry="3.3" fill="#e3643f" fill-opacity="0.33"/>
<ellipse cx="437.4" cy="102.4" rx="2.1" ry="3.3" fill="#e3643f" fill-opacity="0.33"/>
<ellipse cx="437.0" cy="107.4" rx="2.1" ry="3.3" fill="#e3643f" fill-opacity="0.33"/>
<ellipse cx="437.5" cy="113.0" rx="2.1" ry="3.3" fill="#e3643f" fill-opacity="0.33"/>
<ellipse cx="446.2" cy="99.5" rx="2.1" ry="3.3" fill="#e3643f" fill-opacity="0.3"/>
<ellipse cx="449.4" cy="115.4" rx="2.1" ry="3.3" fill="#e3643f" fill-opacity="0.3"/>
<ellipse cx="439.0" cy="108.9" rx="2.1" ry="3.3" fill="#e3643f" fill-opacity="0.3"/>
<ellipse cx="446.6" cy="92.5" rx="2.1" ry="3.3" fill="#e3643f" fill-opacity="0.3"/>
<ellipse cx="439.5" cy="99.0" rx="2.1" ry="3.3" fill="#e3643f" fill-opacity="0.3"/>
<ellipse cx="442.3" cy="108.1" rx="2.1" ry="3.3" fill="#e3643f" fill-opacity="0.3"/>
<ellipse cx="448.9" cy="95.5" rx="2.1" ry="3.3" fill="#e3643f" fill-opacity="0.3"/>
<ellipse cx="441.5" cy="99.6" rx="2.1" ry="3.3" fill="#e3643f" fill-opacity="0.3"/>
<ellipse cx="446.3" cy="109.9" rx="2.1" ry="3.3" fill="#e3643f" fill-opacity="0.3"/>
<ellipse cx="444.9" cy="92.5" rx="2.1" ry="3.3" fill="#e3643f" fill-opacity="0.3"/>
</g>
<g filter="url(#blur2)"><ellipse cx="440.1" cy="79.1" rx="7.5" ry="4.8" fill="#e06038" fill-opacity="0.6" transform="rotate(-40 440.1 79.1)"/><ellipse cx="440.1" cy="79.1" rx="4" ry="1.8" fill="#5a0c02" fill-opacity="0.95" transform="rotate(-40 440.1 79.1)"/></g>
<rect x="393.6" y="33.6" width="100.8" height="87.8" fill="none" stroke="#1a1a1a" stroke-width="1.2"/>
<rect x="399.5" y="84.5" width="36.0" height="32.0" stroke="#333" stroke-width="1" fill="none"/>
<path d="M399.5 84.5V69.5H435.5V84.5" stroke="#333" stroke-width="1" fill="none" stroke-dasharray="4.5 3"/>
<path d="M435.5 84.5H452.5V116.5H435.5" stroke="#333" stroke-width="1" fill="none" stroke-dasharray="4.5 3"/>
<line x1="401.0" y1="121.5" x2="401.0" y2="124.5" stroke="#222" stroke-width="1"/>
<text x="401.0" y="135.8" font-size="8.3" text-anchor="middle" fill="#222">1.0</text>
<line x1="422.4" y1="121.5" x2="422.4" y2="124.5" stroke="#222" stroke-width="1"/>
<text x="422.4" y="135.8" font-size="8.3" text-anchor="middle" fill="#222">1.5</text>
<line x1="443.8" y1="121.5" x2="443.8" y2="124.5" stroke="#222" stroke-width="1"/>
<text x="443.8" y="135.8" font-size="8.3" text-anchor="middle" fill="#222">2.0</text>
<line x1="465.2" y1="121.5" x2="465.2" y2="124.5" stroke="#222" stroke-width="1"/>
<text x="465.2" y="135.8" font-size="8.3" text-anchor="middle" fill="#222">2.5</text>
<line x1="486.6" y1="121.5" x2="486.6" y2="124.5" stroke="#222" stroke-width="1"/>
<text x="486.6" y="135.8" font-size="8.3" text-anchor="middle" fill="#222">3.0</text>
<line x1="390" y1="40.1" x2="393" y2="40.1" stroke="#222" stroke-width="1"/>
<text x="387.5" y="43.1" font-size="8.3" text-anchor="end" fill="#222">3.0</text>
<line x1="390" y1="58.6" x2="393" y2="58.6" stroke="#222" stroke-width="1"/>
<text x="387.5" y="61.6" font-size="8.3" text-anchor="end" fill="#222">2.5</text>
<line x1="390" y1="77.2" x2="393" y2="77.2" stroke="#222" stroke-width="1"/>
<text x="387.5" y="80.2" font-size="8.3" text-anchor="end" fill="#222">2.0</text>
<line x1="390" y1="95.8" x2="393" y2="95.8" stroke="#222" stroke-width="1"/>
<text x="387.5" y="98.8" font-size="8.3" text-anchor="end" fill="#222">1.5</text>
<line x1="390" y1="114.3" x2="393" y2="114.3" stroke="#222" stroke-width="1"/>
<text x="387.5" y="117.3" font-size="8.3" text-anchor="end" fill="#222">1.0</text>
<text x="444" y="28" font-size="8.6" text-anchor="middle" fill="#222">SNP6/Cytoscan HD Arrays</text>
<text transform="translate(444.0 148.5) scale(0.8 1)" font-size="8.8" text-anchor="middle" fill="#222" stroke="#222" stroke-width="0.45">BCMA smooth CN</text>
<text transform="translate(370.4 77.0) rotate(-90) scale(0.78 1)" font-size="8.8" text-anchor="middle" fill="#222" stroke="#222" stroke-width="0.45">TP53 smooth CN</text>
<g filter="url(#blur)">
<ellipse cx="122.0" cy="188.9" rx="2.1" ry="3.3" fill="#e3643f" fill-opacity="0.47"/>
<ellipse cx="120.1" cy="216.3" rx="2.1" ry="3.3" fill="#e3643f" fill-opacity="0.47"/>
<ellipse cx="130.9" cy="217.3" rx="2.1" ry="3.3" fill="#e3643f" fill-opacity="0.47"/>
<ellipse cx="134.8" cy="222.2" rx="2.1" ry="3.3" fill="#e3643f" fill-opacity="0.47"/>
<ellipse cx="137.7" cy="226.1" rx="2.1" ry="3.3" fill="#e3643f" fill-opacity="0.47"/>
<ellipse cx="140.7" cy="229.1" rx="2.1" ry="3.3" fill="#e3643f" fill-opacity="0.47"/>
<ellipse cx="156.4" cy="227.1" rx="2.1" ry="3.3" fill="#e3643f" fill-opacity="0.47"/>
<ellipse cx="163.6" cy="225.2" rx="2.1" ry="3.3" fill="#e3643f" fill-opacity="0.47"/>
<ellipse cx="126.0" cy="224.2" rx="2.1" ry="3.3" fill="#e3643f" fill-opacity="0.47"/>
<ellipse cx="117.1" cy="229.1" rx="2.1" ry="3.3" fill="#e3643f" fill-opacity="0.47"/>
<ellipse cx="126.9" cy="229.1" rx="2.1" ry="3.3" fill="#e3643f" fill-opacity="0.47"/>
<ellipse cx="86.7" cy="226.1" rx="2.1" ry="3.3" fill="#e3643f" fill-opacity="0.47"/>
<ellipse cx="92.6" cy="226.1" rx="2.1" ry="3.3" fill="#e3643f" fill-opacity="0.47"/>
<ellipse cx="102.4" cy="228.7" rx="2.1" ry="3.3" fill="#e3643f" fill-opacity="0.47"/>
<ellipse cx="105.4" cy="226.1" rx="2.1" ry="3.3" fill="#e3643f" fill-opacity="0.47"/>
<ellipse cx="110.3" cy="227.1" rx="2.1" ry="3.3" fill="#e3643f" fill-opacity="0.47"/>
<ellipse cx="111.3" cy="232.0" rx="2.1" ry="3.3" fill="#e3643f" fill-opacity="0.47"/>
<ellipse cx="87.7" cy="232.0" rx="2.1" ry="3.3" fill="#e3643f" fill-opacity="0.47"/>
<ellipse cx="106.3" cy="239.9" rx="2.1" ry="3.3" fill="#e3643f" fill-opacity="0.47"/>
<ellipse cx="105.4" cy="244.8" rx="2.1" ry="3.3" fill="#e3643f" fill-opacity="0.47"/>
<ellipse cx="102.4" cy="246.7" rx="2.1" ry="3.3" fill="#e3643f" fill-opacity="0.47"/>
<ellipse cx="98.5" cy="250.7" rx="2.1" ry="3.3" fill="#e3643f" fill-opacity="0.47"/>
<ellipse cx="92.6" cy="254.6" rx="2.1" ry="3.3" fill="#e3643f" fill-opacity="0.47"/>
<ellipse cx="109.3" cy="246.7" rx="2.1" ry="3.3" fill="#e3643f" fill-opacity="0.47"/>
<ellipse cx="122.0" cy="240.8" rx="2.1" ry="3.3" fill="#e3643f" fill-opacity="0.47"/>
<ellipse cx="125.0" cy="244.8" rx="2.1" ry="3.3" fill="#e3643f" fill-opacity="0.47"/>
<ellipse cx="121.6" cy="249.7" rx="2.1" ry="3.3" fill="#e3643f" fill-opacity="0.47"/>
<ellipse cx="123.0" cy="254.6" rx="2.1" ry="3.3" fill="#e3643f" fill-opacity="0.47"/>
<ellipse cx="122.0" cy="259.5" rx="2.1" ry="3.3" fill="#e3643f" fill-opacity="0.47"/>
<ellipse cx="123.6" cy="262.4" rx="2.1" ry="3.3" fill="#e3643f" fill-opacity="0.47"/>
<ellipse cx="138.7" cy="252.6" rx="2.1" ry="3.3" fill="#e3643f" fill-opacity="0.47"/>
<ellipse cx="152.4" cy="261.4" rx="2.1" ry="3.3" fill="#e3643f" fill-opacity="0.47"/>
<ellipse cx="121.1" cy="221.2" rx="2.1" ry="3.3" fill="#e3643f" fill-opacity="0.47"/>
<ellipse cx="124.0" cy="232.0" rx="2.1" ry="3.3" fill="#e3643f" fill-opacity="0.47"/>
<ellipse cx="122.0" cy="264.4" rx="2.1" ry="3.3" fill="#e3643f" fill-opacity="0.47"/>
</g>
<g filter="url(#blur2)"><ellipse cx="123.0" cy="226.7" rx="7.5" ry="4.8" fill="#e06038" fill-opacity="0.6" transform="rotate(-40 123.0 226.7)"/><ellipse cx="123.0" cy="226.7" rx="4" ry="1.8" fill="#5a0c02" fill-opacity="0.95" transform="rotate(-40 123.0 226.7)"/></g>
<rect x="73.6" y="182.6" width="100.8" height="87.8" fill="none" stroke="#1a1a1a" stroke-width="1.2"/>
<rect x="81.5" y="235.5" width="33.0" height="32.0" stroke="#333" stroke-width="1" fill="none"/>
<path d="M81.5 235.5V217.5H114.5V235.5" stroke="#333" stroke-width="1" fill="none" stroke-dasharray="4.5 3"/>
<path d="M114.5 235.5H134.5V267.5H114.5" stroke="#333" stroke-width="1" fill="none" stroke-dasharray="4.5 3"/>
<line x1="85.4" y1="270.5" x2="85.4" y2="273.5" stroke="#222" stroke-width="1"/>
<text x="82.6" y="284.8" font-size="8.3" text-anchor="middle" fill="#222">−1.0</text>
<line x1="104.7" y1="270.5" x2="104.7" y2="273.5" stroke="#222" stroke-width="1"/>
<text x="101.9" y="284.8" font-size="8.3" text-anchor="middle" fill="#222">−0.5</text>
<line x1="124.0" y1="270.5" x2="124.0" y2="273.5" stroke="#222" stroke-width="1"/>
<text x="124.0" y="284.8" font-size="8.3" text-anchor="middle" fill="#222">0.0</text>
<line x1="143.3" y1="270.5" x2="143.3" y2="273.5" stroke="#222" stroke-width="1"/>
<text x="143.3" y="284.8" font-size="8.3" text-anchor="middle" fill="#222">0.5</text>
<line x1="162.6" y1="270.5" x2="162.6" y2="273.5" stroke="#222" stroke-width="1"/>
<text x="162.6" y="284.8" font-size="8.3" text-anchor="middle" fill="#222">1.0</text>
<line x1="70" y1="189.3" x2="73" y2="189.3" stroke="#222" stroke-width="1"/>
<text x="67.5" y="192.3" font-size="8.3" text-anchor="end" fill="#222">1.0</text>
<line x1="70" y1="207.8" x2="73" y2="207.8" stroke="#222" stroke-width="1"/>
<text x="67.5" y="210.8" font-size="8.3" text-anchor="end" fill="#222">0.5</text>
<line x1="70" y1="226.3" x2="73" y2="226.3" stroke="#222" stroke-width="1"/>
<text x="67.5" y="229.3" font-size="8.3" text-anchor="end" fill="#222">0.0</text>
<line x1="70" y1="244.8" x2="73" y2="244.8" stroke="#222" stroke-width="1"/>
<text x="67.5" y="247.8" font-size="8.3" text-anchor="end" fill="#222">−0.5</text>
<line x1="70" y1="263.3" x2="73" y2="263.3" stroke="#222" stroke-width="1"/>
<text x="67.5" y="266.3" font-size="8.3" text-anchor="end" fill="#222">−1.0</text>
<text x="124" y="177" font-size="8.6" text-anchor="middle" fill="#222">Deep WGS</text>
<text transform="translate(124.0 297.5) scale(0.8 1)" font-size="8.8" text-anchor="middle" fill="#222" stroke="#222" stroke-width="0.45">BCMA log ratio</text>
<text transform="translate(44.6 227.5) rotate(-90) scale(0.78 1)" font-size="8.8" text-anchor="middle" fill="#222" stroke="#222" stroke-width="0.45">CDKN2C log ratio</text>
<g filter="url(#blur)">
<ellipse cx="282.1" cy="189.7" rx="2.1" ry="3.3" fill="#e3643f" fill-opacity="0.4"/>
<ellipse cx="280.2" cy="191.8" rx="2.1" ry="3.3" fill="#e3643f" fill-opacity="0.4"/>
<ellipse cx="278.6" cy="197.2" rx="2.1" ry="3.3" fill="#e3643f" fill-opacity="0.4"/>
<ellipse cx="281.5" cy="200.7" rx="2.1" ry="3.3" fill="#e3643f" fill-opacity="0.4"/>
<ellipse cx="280.5" cy="203.9" rx="2.1" ry="3.3" fill="#e3643f" fill-opacity="0.4"/>
<ellipse cx="281.2" cy="207.9" rx="2.1" ry="3.3" fill="#e3643f" fill-opacity="0.4"/>
<ellipse cx="280.1" cy="220.7" rx="2.1" ry="3.3" fill="#e3643f" fill-opacity="0.45"/>
<ellipse cx="282.0" cy="222.1" rx="2.1" ry="3.3" fill="#e3643f" fill-opacity="0.45"/>
<ellipse cx="281.0" cy="224.8" rx="2.1" ry="3.3" fill="#e3643f" fill-opacity="0.45"/>
<ellipse cx="282.2" cy="227.6" rx="2.1" ry="3.3" fill="#e3643f" fill-opacity="0.45"/>
<ellipse cx="281.2" cy="229.8" rx="2.1" ry="3.3" fill="#e3643f" fill-opacity="0.45"/>
<ellipse cx="282.6" cy="233.8" rx="2.1" ry="3.3" fill="#e3643f" fill-opacity="0.45"/>
<ellipse cx="278.9" cy="236.0" rx="2.1" ry="3.3" fill="#e3643f" fill-opacity="0.45"/>
<ellipse cx="283.4" cy="238.6" rx="2.1" ry="3.3" fill="#e3643f" fill-opacity="0.45"/>
<ellipse cx="277.8" cy="240.4" rx="2.1" ry="3.3" fill="#e3643f" fill-opacity="0.45"/>
<ellipse cx="281.6" cy="243.9" rx="2.1" ry="3.3" fill="#e3643f" fill-opacity="0.45"/>
<ellipse cx="280.5" cy="246.6" rx="2.1" ry="3.3" fill="#e3643f" fill-opacity="0.45"/>
<ellipse cx="283.0" cy="248.3" rx="2.1" ry="3.3" fill="#e3643f" fill-opacity="0.45"/>
<ellipse cx="281.2" cy="251.0" rx="2.1" ry="3.3" fill="#e3643f" fill-opacity="0.45"/>
<ellipse cx="281.4" cy="253.4" rx="2.1" ry="3.3" fill="#e3643f" fill-opacity="0.45"/>
<ellipse cx="278.0" cy="256.5" rx="2.1" ry="3.3" fill="#e3643f" fill-opacity="0.45"/>
<ellipse cx="283.2" cy="259.0" rx="2.1" ry="3.3" fill="#e3643f" fill-opacity="0.45"/>
<ellipse cx="280.0" cy="262.3" rx="2.1" ry="3.3" fill="#e3643f" fill-opacity="0.45"/>
<ellipse cx="281.3" cy="264.9" rx="2.1" ry="3.3" fill="#e3643f" fill-opacity="0.45"/>
<ellipse cx="292.2" cy="227.6" rx="2.1" ry="3.3" fill="#e3643f" fill-opacity="0.45"/>
<ellipse cx="296.7" cy="229.0" rx="2.1" ry="3.3" fill="#e3643f" fill-opacity="0.45"/>
<ellipse cx="299.3" cy="225.1" rx="2.1" ry="3.3" fill="#e3643f" fill-opacity="0.45"/>
<ellipse cx="301.2" cy="228.6" rx="2.1" ry="3.3" fill="#e3643f" fill-opacity="0.45"/>
<ellipse cx="304.4" cy="227.7" rx="2.1" ry="3.3" fill="#e3643f" fill-opacity="0.45"/>
<ellipse cx="307.5" cy="226.5" rx="2.1" ry="3.3" fill="#e3643f" fill-opacity="0.45"/>
<ellipse cx="311.5" cy="228.7" rx="2.1" ry="3.3" fill="#e3643f" fill-opacity="0.45"/>
<ellipse cx="314.2" cy="227.4" rx="2.1" ry="3.3" fill="#e3643f" fill-opacity="0.45"/>
<ellipse cx="316.9" cy="229.4" rx="2.1" ry="3.3" fill="#e3643f" fill-opacity="0.45"/>
<ellipse cx="320.7" cy="228.4" rx="2.1" ry="3.3" fill="#e3643f" fill-opacity="0.45"/>
<ellipse cx="324.6" cy="228.2" rx="2.1" ry="3.3" fill="#e3643f" fill-opacity="0.45"/>
<ellipse cx="326.1" cy="227.8" rx="2.1" ry="3.3" fill="#e3643f" fill-opacity="0.45"/>
<ellipse cx="242.1" cy="228.0" rx="2.1" ry="3.3" fill="#e3643f" fill-opacity="0.32"/>
<ellipse cx="247.4" cy="227.4" rx="2.1" ry="3.3" fill="#e3643f" fill-opacity="0.32"/>
<ellipse cx="252.3" cy="227.4" rx="2.1" ry="3.3" fill="#e3643f" fill-opacity="0.32"/>
<ellipse cx="259.6" cy="227.2" rx="2.1" ry="3.3" fill="#e3643f" fill-opacity="0.32"/>
<ellipse cx="262.3" cy="225.9" rx="2.1" ry="3.3" fill="#e3643f" fill-opacity="0.32"/>
<ellipse cx="268.7" cy="227.1" rx="2.1" ry="3.3" fill="#e3643f" fill-opacity="0.32"/>
<ellipse cx="244.7" cy="263.2" rx="2.1" ry="3.3" fill="#e3643f" fill-opacity="0.45"/>
<ellipse cx="246.9" cy="259.0" rx="2.1" ry="3.3" fill="#e3643f" fill-opacity="0.45"/>
<ellipse cx="249.0" cy="256.7" rx="2.1" ry="3.3" fill="#e3643f" fill-opacity="0.45"/>
<ellipse cx="252.3" cy="252.5" rx="2.1" ry="3.3" fill="#e3643f" fill-opacity="0.45"/>
<ellipse cx="254.2" cy="252.7" rx="2.1" ry="3.3" fill="#e3643f" fill-opacity="0.45"/>
<ellipse cx="258.6" cy="248.9" rx="2.1" ry="3.3" fill="#e3643f" fill-opacity="0.45"/>
<ellipse cx="262.3" cy="247.2" rx="2.1" ry="3.3" fill="#e3643f" fill-opacity="0.45"/>
<ellipse cx="265.6" cy="243.8" rx="2.1" ry="3.3" fill="#e3643f" fill-opacity="0.45"/>
<ellipse cx="269.0" cy="241.8" rx="2.1" ry="3.3" fill="#e3643f" fill-opacity="0.45"/>
<ellipse cx="269.8" cy="239.4" rx="2.1" ry="3.3" fill="#e3643f" fill-opacity="0.45"/>
<ellipse cx="272.4" cy="236.7" rx="2.1" ry="3.3" fill="#e3643f" fill-opacity="0.45"/>
<ellipse cx="275.5" cy="230.4" rx="2.1" ry="3.3" fill="#e3643f" fill-opacity="0.45"/>
<ellipse cx="300.7" cy="249.7" rx="2.1" ry="3.3" fill="#e3643f" fill-opacity="0.47"/>
<ellipse cx="268.3" cy="254.6" rx="2.1" ry="3.3" fill="#e3643f" fill-opacity="0.47"/>
<ellipse cx="269.3" cy="259.5" rx="2.1" ry="3.3" fill="#e3643f" fill-opacity="0.47"/>
<ellipse cx="286.0" cy="224.2" rx="2.1" ry="3.3" fill="#e3643f" fill-opacity="0.47"/>
<ellipse cx="277.1" cy="230.1" rx="2.1" ry="3.3" fill="#e3643f" fill-opacity="0.47"/>
<ellipse cx="250.7" cy="240.8" rx="2.1" ry="3.3" fill="#e3643f" fill-opacity="0.47"/>
<ellipse cx="291.8" cy="233.0" rx="2.1" ry="3.3" fill="#e3643f" fill-opacity="0.47"/>
<ellipse cx="254.4" cy="261.9" rx="2.1" ry="3.3" fill="#e3643f" fill-opacity="0.3"/>
<ellipse cx="259.5" cy="238.4" rx="2.1" ry="3.3" fill="#e3643f" fill-opacity="0.3"/>
<ellipse cx="256.7" cy="243.9" rx="2.1" ry="3.3" fill="#e3643f" fill-opacity="0.3"/>
<ellipse cx="263.7" cy="239.1" rx="2.1" ry="3.3" fill="#e3643f" fill-opacity="0.3"/>
<ellipse cx="252.5" cy="239.7" rx="2.1" ry="3.3" fill="#e3643f" fill-opacity="0.3"/>
<ellipse cx="258.4" cy="265.9" rx="2.1" ry="3.3" fill="#e3643f" fill-opacity="0.3"/>
<ellipse cx="260.2" cy="248.3" rx="2.1" ry="3.3" fill="#e3643f" fill-opacity="0.3"/>
<ellipse cx="271.3" cy="239.6" rx="2.1" ry="3.3" fill="#e3643f" fill-opacity="0.3"/>
<ellipse cx="254.9" cy="260.8" rx="2.1" ry="3.3" fill="#e3643f" fill-opacity="0.3"/>
<ellipse cx="244.9" cy="259.5" rx="2.1" ry="3.3" fill="#e3643f" fill-opacity="0.3"/>
<ellipse cx="282.4" cy="235.5" rx="2.1" ry="3.3" fill="#e3643f" fill-opacity="0.3"/>
<ellipse cx="280.8" cy="249.3" rx="2.1" ry="3.3" fill="#e3643f" fill-opacity="0.3"/>
<ellipse cx="282.8" cy="251.2" rx="2.1" ry="3.3" fill="#e3643f" fill-opacity="0.3"/>
<ellipse cx="277.9" cy="241.8" rx="2.1" ry="3.3" fill="#e3643f" fill-opacity="0.3"/>
<ellipse cx="291.5" cy="248.9" rx="2.1" ry="3.3" fill="#e3643f" fill-opacity="0.3"/>
<ellipse cx="284.1" cy="237.6" rx="2.1" ry="3.3" fill="#e3643f" fill-opacity="0.3"/>
<ellipse cx="281.2" cy="264.9" rx="2.1" ry="3.3" fill="#e3643f" fill-opacity="0.3"/>
<ellipse cx="287.2" cy="250.9" rx="2.1" ry="3.3" fill="#e3643f" fill-opacity="0.3"/>
<ellipse cx="277.9" cy="247.3" rx="2.1" ry="3.3" fill="#e3643f" fill-opacity="0.3"/>
<ellipse cx="288.6" cy="248.6" rx="2.1" ry="3.3" fill="#e3643f" fill-opacity="0.3"/>
</g>
<g filter="url(#blur2)"><ellipse cx="283.0" cy="226.7" rx="7.5" ry="4.8" fill="#e06038" fill-opacity="0.6" transform="rotate(-40 283.0 226.7)"/><ellipse cx="283.0" cy="226.7" rx="4" ry="1.8" fill="#5a0c02" fill-opacity="0.95" transform="rotate(-40 283.0 226.7)"/></g>
<rect x="233.6" y="182.6" width="100.8" height="87.8" fill="none" stroke="#1a1a1a" stroke-width="1.2"/>
<rect x="241.5" y="235.5" width="33.0" height="32.0" stroke="#333" stroke-width="1" fill="none"/>
<path d="M241.5 235.5V217.5H274.5V235.5" stroke="#333" stroke-width="1" fill="none" stroke-dasharray="4.5 3"/>
<path d="M274.5 235.5H294.5V267.5H274.5" stroke="#333" stroke-width="1" fill="none" stroke-dasharray="4.5 3"/>
<line x1="245.4" y1="270.5" x2="245.4" y2="273.5" stroke="#222" stroke-width="1"/>
<text x="242.6" y="284.8" font-size="8.3" text-anchor="middle" fill="#222">−1.0</text>
<line x1="264.7" y1="270.5" x2="264.7" y2="273.5" stroke="#222" stroke-width="1"/>
<text x="261.9" y="284.8" font-size="8.3" text-anchor="middle" fill="#222">−0.5</text>
<line x1="284.0" y1="270.5" x2="284.0" y2="273.5" stroke="#222" stroke-width="1"/>
<text x="284.0" y="284.8" font-size="8.3" text-anchor="middle" fill="#222">0.0</text>
<line x1="303.3" y1="270.5" x2="303.3" y2="273.5" stroke="#222" stroke-width="1"/>
<text x="303.3" y="284.8" font-size="8.3" text-anchor="middle" fill="#222">0.5</text>
<line x1="322.6" y1="270.5" x2="322.6" y2="273.5" stroke="#222" stroke-width="1"/>
<text x="322.6" y="284.8" font-size="8.3" text-anchor="middle" fill="#222">1.0</text>
<line x1="230" y1="189.3" x2="233" y2="189.3" stroke="#222" stroke-width="1"/>
<text x="227.5" y="192.3" font-size="8.3" text-anchor="end" fill="#222">1.0</text>
<line x1="230" y1="207.8" x2="233" y2="207.8" stroke="#222" stroke-width="1"/>
<text x="227.5" y="210.8" font-size="8.3" text-anchor="end" fill="#222">0.5</text>
<line x1="230" y1="226.3" x2="233" y2="226.3" stroke="#222" stroke-width="1"/>
<text x="227.5" y="229.3" font-size="8.3" text-anchor="end" fill="#222">0.0</text>
<line x1="230" y1="244.8" x2="233" y2="244.8" stroke="#222" stroke-width="1"/>
<text x="227.5" y="247.8" font-size="8.3" text-anchor="end" fill="#222">−0.5</text>
<line x1="230" y1="263.3" x2="233" y2="263.3" stroke="#222" stroke-width="1"/>
<text x="227.5" y="266.3" font-size="8.3" text-anchor="end" fill="#222">−1.0</text>
<text x="284" y="177" font-size="8.6" text-anchor="middle" fill="#222">MMRF CoMMpass</text>
<text transform="translate(284.0 297.5) scale(0.8 1)" font-size="8.8" text-anchor="middle" fill="#222" stroke="#222" stroke-width="0.45">BCMA log ratio</text>
<text transform="translate(204.6 227.5) rotate(-90) scale(0.78 1)" font-size="8.8" text-anchor="middle" fill="#222" stroke="#222" stroke-width="0.45">CDKN2C log ratio</text>
<g filter="url(#blur)">
<ellipse cx="400.6" cy="227.9" rx="2.1" ry="3.3" fill="#e3643f" fill-opacity="0.38"/>
<ellipse cx="404.0" cy="225.3" rx="2.1" ry="3.3" fill="#e3643f" fill-opacity="0.38"/>
<ellipse cx="406.3" cy="226.8" rx="2.1" ry="3.3" fill="#e3643f" fill-opacity="0.38"/>
<ellipse cx="409.1" cy="226.1" rx="2.1" ry="3.3" fill="#e3643f" fill-opacity="0.38"/>
<ellipse cx="411.1" cy="227.5" rx="2.1" ry="3.3" fill="#e3643f" fill-opacity="0.38"/>
<ellipse cx="413.4" cy="227.5" rx="2.1" ry="3.3" fill="#e3643f" fill-opacity="0.38"/>
<ellipse cx="416.2" cy="226.6" rx="2.1" ry="3.3" fill="#e3643f" fill-opacity="0.38"/>
<ellipse cx="418.5" cy="226.1" rx="2.1" ry="3.3" fill="#e3643f" fill-opacity="0.38"/>
<ellipse cx="422.3" cy="226.8" rx="2.1" ry="3.3" fill="#e3643f" fill-opacity="0.38"/>
<ellipse cx="423.8" cy="227.0" rx="2.1" ry="3.3" fill="#e3643f" fill-opacity="0.38"/>
<ellipse cx="426.6" cy="225.4" rx="2.1" ry="3.3" fill="#e3643f" fill-opacity="0.38"/>
<ellipse cx="430.5" cy="229.2" rx="2.1" ry="3.3" fill="#e3643f" fill-opacity="0.38"/>
<ellipse cx="432.6" cy="227.3" rx="2.1" ry="3.3" fill="#e3643f" fill-opacity="0.38"/>
<ellipse cx="434.9" cy="228.6" rx="2.1" ry="3.3" fill="#e3643f" fill-opacity="0.38"/>
<ellipse cx="437.5" cy="228.9" rx="2.1" ry="3.3" fill="#e3643f" fill-opacity="0.38"/>
<ellipse cx="440.9" cy="227.3" rx="2.1" ry="3.3" fill="#e3643f" fill-opacity="0.38"/>
<ellipse cx="443.4" cy="228.5" rx="2.1" ry="3.3" fill="#e3643f" fill-opacity="0.38"/>
<ellipse cx="445.2" cy="228.1" rx="2.1" ry="3.3" fill="#e3643f" fill-opacity="0.38"/>
<ellipse cx="448.7" cy="224.1" rx="2.1" ry="3.3" fill="#e3643f" fill-opacity="0.38"/>
<ellipse cx="451.4" cy="228.2" rx="2.1" ry="3.3" fill="#e3643f" fill-opacity="0.38"/>
<ellipse cx="453.0" cy="225.9" rx="2.1" ry="3.3" fill="#e3643f" fill-opacity="0.38"/>
<ellipse cx="456.2" cy="229.9" rx="2.1" ry="3.3" fill="#e3643f" fill-opacity="0.38"/>
<ellipse cx="458.8" cy="224.9" rx="2.1" ry="3.3" fill="#e3643f" fill-opacity="0.38"/>
<ellipse cx="462.3" cy="228.0" rx="2.1" ry="3.3" fill="#e3643f" fill-opacity="0.38"/>
<ellipse cx="464.3" cy="228.9" rx="2.1" ry="3.3" fill="#e3643f" fill-opacity="0.38"/>
<ellipse cx="466.2" cy="226.8" rx="2.1" ry="3.3" fill="#e3643f" fill-opacity="0.38"/>
<ellipse cx="470.0" cy="226.7" rx="2.1" ry="3.3" fill="#e3643f" fill-opacity="0.38"/>
<ellipse cx="472.9" cy="227.3" rx="2.1" ry="3.3" fill="#e3643f" fill-opacity="0.38"/>
<ellipse cx="474.1" cy="225.7" rx="2.1" ry="3.3" fill="#e3643f" fill-opacity="0.38"/>
<ellipse cx="478.1" cy="226.4" rx="2.1" ry="3.3" fill="#e3643f" fill-opacity="0.38"/>
<ellipse cx="438.6" cy="231.4" rx="2.1" ry="3.3" fill="#e3643f" fill-opacity="0.4"/>
<ellipse cx="439.5" cy="233.5" rx="2.1" ry="3.3" fill="#e3643f" fill-opacity="0.4"/>
<ellipse cx="438.2" cy="236.4" rx="2.1" ry="3.3" fill="#e3643f" fill-opacity="0.4"/>
<ellipse cx="438.7" cy="238.0" rx="2.1" ry="3.3" fill="#e3643f" fill-opacity="0.4"/>
<ellipse cx="438.7" cy="241.2" rx="2.1" ry="3.3" fill="#e3643f" fill-opacity="0.4"/>
<ellipse cx="439.7" cy="243.2" rx="2.1" ry="3.3" fill="#e3643f" fill-opacity="0.4"/>
<ellipse cx="439.9" cy="244.8" rx="2.1" ry="3.3" fill="#e3643f" fill-opacity="0.4"/>
<ellipse cx="438.0" cy="246.7" rx="2.1" ry="3.3" fill="#e3643f" fill-opacity="0.4"/>
<ellipse cx="439.7" cy="248.7" rx="2.1" ry="3.3" fill="#e3643f" fill-opacity="0.4"/>
<ellipse cx="438.1" cy="251.1" rx="2.1" ry="3.3" fill="#e3643f" fill-opacity="0.4"/>
<ellipse cx="440.4" cy="254.3" rx="2.1" ry="3.3" fill="#e3643f" fill-opacity="0.4"/>
<ellipse cx="440.0" cy="255.6" rx="2.1" ry="3.3" fill="#e3643f" fill-opacity="0.4"/>
<ellipse cx="439.3" cy="258.4" rx="2.1" ry="3.3" fill="#e3643f" fill-opacity="0.4"/>
<ellipse cx="438.3" cy="260.9" rx="2.1" ry="3.3" fill="#e3643f" fill-opacity="0.4"/>
<ellipse cx="437.8" cy="262.4" rx="2.1" ry="3.3" fill="#e3643f" fill-opacity="0.4"/>
<ellipse cx="437.9" cy="264.2" rx="2.1" ry="3.3" fill="#e3643f" fill-opacity="0.4"/>
<ellipse cx="442.3" cy="233.4" rx="2.1" ry="3.3" fill="#e3643f" fill-opacity="0.35"/>
<ellipse cx="443.5" cy="237.1" rx="2.1" ry="3.3" fill="#e3643f" fill-opacity="0.35"/>
<ellipse cx="443.5" cy="240.3" rx="2.1" ry="3.3" fill="#e3643f" fill-opacity="0.35"/>
<ellipse cx="443.8" cy="243.8" rx="2.1" ry="3.3" fill="#e3643f" fill-opacity="0.35"/>
<ellipse cx="442.1" cy="247.1" rx="2.1" ry="3.3" fill="#e3643f" fill-opacity="0.35"/>
<ellipse cx="443.8" cy="251.6" rx="2.1" ry="3.3" fill="#e3643f" fill-opacity="0.35"/>
<ellipse cx="444.5" cy="254.4" rx="2.1" ry="3.3" fill="#e3643f" fill-opacity="0.35"/>
<ellipse cx="441.6" cy="257.7" rx="2.1" ry="3.3" fill="#e3643f" fill-opacity="0.35"/>
<ellipse cx="441.9" cy="260.4" rx="2.1" ry="3.3" fill="#e3643f" fill-opacity="0.35"/>
<ellipse cx="443.2" cy="264.2" rx="2.1" ry="3.3" fill="#e3643f" fill-opacity="0.35"/>
<ellipse cx="440.0" cy="206.2" rx="2.1" ry="3.3" fill="#e3643f" fill-opacity="0.35"/>
<ellipse cx="438.9" cy="209.6" rx="2.1" ry="3.3" fill="#e3643f" fill-opacity="0.35"/>
<ellipse cx="442.6" cy="214.8" rx="2.1" ry="3.3" fill="#e3643f" fill-opacity="0.35"/>
<ellipse cx="442.0" cy="219.1" rx="2.1" ry="3.3" fill="#e3643f" fill-opacity="0.35"/>
<ellipse cx="440.7" cy="223.4" rx="2.1" ry="3.3" fill="#e3643f" fill-opacity="0.35"/>
<ellipse cx="411.1" cy="255.2" rx="2.1" ry="3.3" fill="#e3643f" fill-opacity="0.42"/>
<ellipse cx="415.5" cy="252.3" rx="2.1" ry="3.3" fill="#e3643f" fill-opacity="0.42"/>
<ellipse cx="416.4" cy="248.5" rx="2.1" ry="3.3" fill="#e3643f" fill-opacity="0.42"/>
<ellipse cx="418.9" cy="246.6" rx="2.1" ry="3.3" fill="#e3643f" fill-opacity="0.42"/>
<ellipse cx="424.3" cy="245.7" rx="2.1" ry="3.3" fill="#e3643f" fill-opacity="0.42"/>
<ellipse cx="423.6" cy="243.8" rx="2.1" ry="3.3" fill="#e3643f" fill-opacity="0.42"/>
<ellipse cx="425.2" cy="241.2" rx="2.1" ry="3.3" fill="#e3643f" fill-opacity="0.42"/>
<ellipse cx="429.7" cy="235.8" rx="2.1" ry="3.3" fill="#e3643f" fill-opacity="0.42"/>
<ellipse cx="432.2" cy="235.2" rx="2.1" ry="3.3" fill="#e3643f" fill-opacity="0.42"/>
<ellipse cx="435.2" cy="232.1" rx="2.1" ry="3.3" fill="#e3643f" fill-opacity="0.42"/>
<ellipse cx="429.3" cy="209.5" rx="2.1" ry="3.3" fill="#e3643f" fill-opacity="0.47"/>
<ellipse cx="433.2" cy="206.5" rx="2.1" ry="3.3" fill="#e3643f" fill-opacity="0.47"/>
<ellipse cx="461.7" cy="208.5" rx="2.1" ry="3.3" fill="#e3643f" fill-opacity="0.47"/>
<ellipse cx="461.7" cy="240.8" rx="2.1" ry="3.3" fill="#e3643f" fill-opacity="0.47"/>
<ellipse cx="467.5" cy="244.8" rx="2.1" ry="3.3" fill="#e3643f" fill-opacity="0.47"/>
<ellipse cx="462.6" cy="249.7" rx="2.1" ry="3.3" fill="#e3643f" fill-opacity="0.47"/>
<ellipse cx="417.5" cy="261.4" rx="2.1" ry="3.3" fill="#e3643f" fill-opacity="0.47"/>
<ellipse cx="423.4" cy="260.5" rx="2.1" ry="3.3" fill="#e3643f" fill-opacity="0.47"/>
<ellipse cx="430.3" cy="259.5" rx="2.1" ry="3.3" fill="#e3643f" fill-opacity="0.47"/>
<ellipse cx="478.3" cy="234.0" rx="2.1" ry="3.3" fill="#e3643f" fill-opacity="0.47"/>
<ellipse cx="451.8" cy="221.2" rx="2.1" ry="3.3" fill="#e3643f" fill-opacity="0.47"/>
<ellipse cx="457.7" cy="233.0" rx="2.1" ry="3.3" fill="#e3643f" fill-opacity="0.47"/>
</g>
<g filter="url(#blur2)"><ellipse cx="440.1" cy="227.5" rx="7.5" ry="4.8" fill="#e06038" fill-opacity="0.6" transform="rotate(-40 440.1 227.5)"/><ellipse cx="440.1" cy="227.5" rx="4" ry="1.8" fill="#5a0c02" fill-opacity="0.95" transform="rotate(-40 440.1 227.5)"/></g>
<rect x="393.6" y="182.6" width="100.8" height="87.8" fill="none" stroke="#1a1a1a" stroke-width="1.2"/>
<rect x="399.5" y="233.5" width="36.0" height="32.0" stroke="#333" stroke-width="1" fill="none"/>
<path d="M399.5 233.5V218.5H435.5V233.5" stroke="#333" stroke-width="1" fill="none" stroke-dasharray="4.5 3"/>
<path d="M435.5 233.5H452.5V265.5H435.5" stroke="#333" stroke-width="1" fill="none" stroke-dasharray="4.5 3"/>
<line x1="401.0" y1="270.5" x2="401.0" y2="273.5" stroke="#222" stroke-width="1"/>
<text x="401.0" y="284.8" font-size="8.3" text-anchor="middle" fill="#222">1.0</text>
<line x1="422.4" y1="270.5" x2="422.4" y2="273.5" stroke="#222" stroke-width="1"/>
<text x="422.4" y="284.8" font-size="8.3" text-anchor="middle" fill="#222">1.5</text>
<line x1="443.8" y1="270.5" x2="443.8" y2="273.5" stroke="#222" stroke-width="1"/>
<text x="443.8" y="284.8" font-size="8.3" text-anchor="middle" fill="#222">2.0</text>
<line x1="465.2" y1="270.5" x2="465.2" y2="273.5" stroke="#222" stroke-width="1"/>
<text x="465.2" y="284.8" font-size="8.3" text-anchor="middle" fill="#222">2.5</text>
<line x1="486.6" y1="270.5" x2="486.6" y2="273.5" stroke="#222" stroke-width="1"/>
<text x="486.6" y="284.8" font-size="8.3" text-anchor="middle" fill="#222">3.0</text>
<line x1="390" y1="189.1" x2="393" y2="189.1" stroke="#222" stroke-width="1"/>
<text x="387.5" y="192.1" font-size="8.3" text-anchor="end" fill="#222">3.0</text>
<line x1="390" y1="207.7" x2="393" y2="207.7" stroke="#222" stroke-width="1"/>
<text x="387.5" y="210.7" font-size="8.3" text-anchor="end" fill="#222">2.5</text>
<line x1="390" y1="226.2" x2="393" y2="226.2" stroke="#222" stroke-width="1"/>
<text x="387.5" y="229.2" font-size="8.3" text-anchor="end" fill="#222">2.0</text>
<line x1="390" y1="244.8" x2="393" y2="244.8" stroke="#222" stroke-width="1"/>
<text x="387.5" y="247.8" font-size="8.3" text-anchor="end" fill="#222">1.5</text>
<line x1="390" y1="263.3" x2="393" y2="263.3" stroke="#222" stroke-width="1"/>
<text x="387.5" y="266.3" font-size="8.3" text-anchor="end" fill="#222">1.0</text>
<text x="444" y="177" font-size="8.6" text-anchor="middle" fill="#222">SNP6/Cytoscan HD Arrays</text>
<text transform="translate(444.0 297.5) scale(0.8 1)" font-size="8.8" text-anchor="middle" fill="#222" stroke="#222" stroke-width="0.45">BCMA smooth CN</text>
<text transform="translate(370.4 226.0) rotate(-90) scale(0.78 1)" font-size="8.8" text-anchor="middle" fill="#222" stroke="#222" stroke-width="0.45">CDKN2C smooth CN</text>
<text x="16" y="17.6" font-size="11.5" font-weight="bold" fill="#111">A</text>
<text x="16" y="166.4" font-size="11.5" font-weight="bold" fill="#111">B</text>
<text x="16" y="327.8" font-size="11.5" font-weight="bold" fill="#111">C</text>
<text x="305" y="328" font-size="11.5" font-weight="bold" fill="#111">D</text>
<text x="40.5" y="338.3" font-size="8.5" text-anchor="start" fill="#222" >chr16p</text>
<text x="105" y="338.3" font-size="8.5" text-anchor="start" fill="#222" >chr16q</text>
<text x="147.3" y="338.3" font-size="8.5" text-anchor="start" fill="#222" >chr17p</text>
<text x="199" y="338.3" font-size="8.5" text-anchor="start" fill="#222" >chr17q</text>
<line x1="51" y1="347" x2="51" y2="454" stroke="#d6deec" stroke-width="0.5" stroke-dasharray="1 2.5"/>
<line x1="58.7" y1="347" x2="58.7" y2="454" stroke="#d6deec" stroke-width="0.5" stroke-dasharray="1 2.5"/>
<line x1="76.6" y1="347" x2="76.6" y2="454" stroke="#d0d0d0" stroke-width="0.7"/>
<rect x="45.5" y="393.5" width="2" height="0.7" fill="#c0c3cc" fill-opacity="0.76"/><rect x="55.0" y="396.5" width="5" height="0.7" fill="#c0c3cc" fill-opacity="0.31"/><rect x="69.5" y="370.7" width="1.2" height="0.7" fill="#c0c3cc" fill-opacity="0.40"/><rect x="64.7" y="393.3" width="5" height="0.7" fill="#c0c3cc" fill-opacity="0.54"/><rect x="61.6" y="362.0" width="1.2" height="0.7" fill="#c0c3cc" fill-opacity="0.73"/><rect x="56.9" y="409.3" width="0.8" height="0.7" fill="#c0c3cc" fill-opacity="0.38"/><rect x="74.3" y="353.4" width="0.8" height="0.7" fill="#c0c3cc" fill-opacity="0.71"/><rect x="46.8" y="397.6" width="3" height="0.7" fill="#c0c3cc" fill-opacity="0.66"/><rect x="72.8" y="381.6" width="5" height="0.7" fill="#c0c3cc" fill-opacity="0.52"/><rect x="73.4" y="420.3" width="0.8" height="0.7" fill="#c0c3cc" fill-opacity="0.32"/><rect x="55.8" y="370.6" width="3" height="0.7" fill="#c0c3cc" fill-opacity="0.69"/><rect x="70.2" y="383.7" width="3" height="0.7" fill="#c0c3cc" fill-opacity="0.59"/><rect x="57.4" y="382.6" width="1.2" height="0.7" fill="#c0c3cc" fill-opacity="0.75"/><rect x="63.3" y="424.3" width="2" height="0.7" fill="#c0c3cc" fill-opacity="0.80"/><rect x="62.9" y="363.0" width="2" height="0.7" fill="#c0c3cc" fill-opacity="0.78"/><rect x="72.2" y="395.5" width="1.2" height="0.7" fill="#c0c3cc" fill-opacity="0.62"/><rect x="75.5" y="371.4" width="0.8" height="0.7" fill="#c0c3cc" fill-opacity="0.33"/><rect x="70.2" y="429.2" width="0.8" height="0.7" fill="#c0c3cc" fill-opacity="0.47"/><rect x="38.7" y="421.8" width="0.8" height="0.7" fill="#c0c3cc" fill-opacity="0.45"/><rect x="66.8" y="419.8" width="0.8" height="0.7" fill="#c0c3cc" fill-opacity="0.60"/><rect x="66.5" y="380.2" width="5" height="0.7" fill="#c0c3cc" fill-opacity="0.47"/><rect x="71.2" y="428.5" width="5" height="0.7" fill="#c0c3cc" fill-opacity="0.42"/><rect x="37.4" y="350.6" width="0.8" height="0.7" fill="#c0c3cc" fill-opacity="0.60"/><rect x="37.3" y="365.8" width="3" height="0.7" fill="#c0c3cc" fill-opacity="0.45"/><rect x="46.5" y="405.2" width="2" height="0.7" fill="#c0c3cc" fill-opacity="0.46"/><rect x="74.3" y="421.7" width="3" height="0.7" fill="#c0c3cc" fill-opacity="0.49"/><rect x="70.8" y="380.9" width="5" height="0.7" fill="#c0c3cc" fill-opacity="0.64"/><rect x="40.1" y="427.8" width="5" height="0.7" fill="#c0c3cc" fill-opacity="0.44"/><rect x="61.4" y="407.2" width="2" height="0.7" fill="#c0c3cc" fill-opacity="0.52"/><rect x="46.3" y="374.2" width="2" height="0.7" fill="#c0c3cc" fill-opacity="0.31"/>
<rect x="186.9" y="399.3" width="0.8" height="0.7" fill="#b8c6de" fill-opacity="0.49"/><rect x="203.6" y="361.3" width="2" height="0.7" fill="#b8c6de" fill-opacity="0.53"/><rect x="212.2" y="380.0" width="2" height="0.7" fill="#b8c6de" fill-opacity="0.67"/><rect x="149.1" y="355.1" width="0.8" height="0.7" fill="#b8c6de" fill-opacity="0.78"/><rect x="171.1" y="388.8" width="5" height="0.7" fill="#b8c6de" fill-opacity="0.60"/><rect x="164.0" y="365.7" width="2" height="0.7" fill="#b8c6de" fill-opacity="0.72"/><rect x="172.4" y="416.9" width="0.8" height="0.7" fill="#b8c6de" fill-opacity="0.69"/><rect x="149.6" y="398.4" width="1.2" height="0.7" fill="#b8c6de" fill-opacity="0.46"/><rect x="168.4" y="418.3" width="1.2" height="0.7" fill="#b8c6de" fill-opacity="0.46"/><rect x="212.1" y="405.2" width="0.8" height="0.7" fill="#b8c6de" fill-opacity="0.35"/><rect x="177.9" y="378.4" width="1.2" height="0.7" fill="#b8c6de" fill-opacity="0.52"/><rect x="229.1" y="364.4" width="2" height="0.7" fill="#b8c6de" fill-opacity="0.67"/><rect x="167.9" y="398.3" width="2" height="0.7" fill="#b8c6de" fill-opacity="0.41"/><rect x="158.6" y="395.0" width="1.2" height="0.7" fill="#b8c6de" fill-opacity="0.46"/><rect x="227.3" y="398.9" width="2" height="0.7" fill="#b8c6de" fill-opacity="0.47"/><rect x="226.5" y="357.3" width="5" height="0.7" fill="#b8c6de" fill-opacity="0.47"/><rect x="159.5" y="374.8" width="2" height="0.7" fill="#b8c6de" fill-opacity="0.53"/><rect x="207.9" y="374.7" width="5" height="0.7" fill="#b8c6de" fill-opacity="0.50"/><rect x="235.4" y="363.3" width="0.8" height="0.7" fill="#b8c6de" fill-opacity="0.54"/><rect x="226.9" y="402.9" width="5" height="0.7" fill="#b8c6de" fill-opacity="0.52"/><rect x="238.2" y="428.8" width="1.2" height="0.7" fill="#b8c6de" fill-opacity="0.32"/><rect x="190.8" y="414.0" width="5" height="0.7" fill="#b8c6de" fill-opacity="0.78"/><rect x="199.2" y="425.6" width="0.8" height="0.7" fill="#b8c6de" fill-opacity="0.73"/><rect x="240.2" y="360.2" width="1.2" height="0.7" fill="#b8c6de" fill-opacity="0.32"/><rect x="233.7" y="409.0" width="1.2" height="0.7" fill="#b8c6de" fill-opacity="0.75"/><rect x="233.4" y="399.0" width="0.8" height="0.7" fill="#b8c6de" fill-opacity="0.54"/><rect x="158.6" y="392.8" width="1.2" height="0.7" fill="#b8c6de" fill-opacity="0.63"/><rect x="197.4" y="385.2" width="5" height="0.7" fill="#b8c6de" fill-opacity="0.36"/><rect x="159.0" y="432.6" width="5" height="0.7" fill="#b8c6de" fill-opacity="0.54"/><rect x="222.1" y="379.9" width="1.2" height="0.7" fill="#b8c6de" fill-opacity="0.36"/><rect x="232.2" y="360.1" width="1.2" height="0.7" fill="#b8c6de" fill-opacity="0.70"/><rect x="235.5" y="418.5" width="0.8" height="0.7" fill="#b8c6de" fill-opacity="0.54"/><rect x="201.8" y="384.0" width="2" height="0.7" fill="#b8c6de" fill-opacity="0.42"/><rect x="206.3" y="394.2" width="0.8" height="0.7" fill="#b8c6de" fill-opacity="0.54"/><rect x="221.5" y="350.2" width="0.8" height="0.7" fill="#b8c6de" fill-opacity="0.69"/><rect x="151.4" y="354.2" width="3" height="0.7" fill="#b8c6de" fill-opacity="0.79"/><rect x="229.0" y="357.3" width="5" height="0.7" fill="#b8c6de" fill-opacity="0.54"/><rect x="162.1" y="356.1" width="3" height="0.7" fill="#b8c6de" fill-opacity="0.62"/><rect x="203.3" y="380.7" width="1.2" height="0.7" fill="#b8c6de" fill-opacity="0.79"/><rect x="188.2" y="360.8" width="0.8" height="0.7" fill="#b8c6de" fill-opacity="0.66"/><rect x="183.5" y="356.8" width="1.2" height="0.7" fill="#b8c6de" fill-opacity="0.32"/><rect x="191.2" y="405.3" width="5" height="0.7" fill="#b8c6de" fill-opacity="0.49"/><rect x="223.9" y="402.9" width="3" height="0.7" fill="#b8c6de" fill-opacity="0.33"/><rect x="207.2" y="414.6" width="2" height="0.7" fill="#b8c6de" fill-opacity="0.51"/><rect x="213.6" y="389.2" width="1.2" height="0.7" fill="#b8c6de" fill-opacity="0.41"/><rect x="172.9" y="400.1" width="3" height="0.7" fill="#b8c6de" fill-opacity="0.41"/><rect x="159.5" y="352.4" width="2" height="0.7" fill="#b8c6de" fill-opacity="0.49"/><rect x="233.2" y="417.2" width="2" height="0.7" fill="#b8c6de" fill-opacity="0.36"/><rect x="213.3" y="429.8" width="5" height="0.7" fill="#b8c6de" fill-opacity="0.70"/><rect x="211.1" y="412.4" width="5" height="0.7" fill="#b8c6de" fill-opacity="0.57"/><rect x="224.9" y="410.9" width="3" height="0.7" fill="#b8c6de" fill-opacity="0.37"/><rect x="221.3" y="353.8" width="0.8" height="0.7" fill="#b8c6de" fill-opacity="0.58"/><rect x="210.3" y="381.9" width="0.8" height="0.7" fill="#b8c6de" fill-opacity="0.47"/><rect x="228.8" y="352.2" width="0.8" height="0.7" fill="#b8c6de" fill-opacity="0.64"/><rect x="227.3" y="431.0" width="5" height="0.7" fill="#b8c6de" fill-opacity="0.45"/><rect x="155.5" y="434.7" width="5" height="0.7" fill="#b8c6de" fill-opacity="0.56"/><rect x="215.7" y="359.1" width="0.8" height="0.7" fill="#b8c6de" fill-opacity="0.77"/><rect x="152.9" y="377.6" width="5" height="0.7" fill="#b8c6de" fill-opacity="0.39"/><rect x="154.4" y="434.9" width="1.2" height="0.7" fill="#b8c6de" fill-opacity="0.53"/><rect x="214.2" y="430.1" width="2" height="0.7" fill="#b8c6de" fill-opacity="0.48"/><rect x="185.1" y="379.8" width="3" height="0.7" fill="#b8c6de" fill-opacity="0.78"/><rect x="183.0" y="370.0" width="3" height="0.7" fill="#b8c6de" fill-opacity="0.72"/><rect x="239.8" y="385.3" width="5" height="0.7" fill="#b8c6de" fill-opacity="0.68"/><rect x="211.7" y="394.0" width="3" height="0.7" fill="#b8c6de" fill-opacity="0.38"/><rect x="185.5" y="425.4" width="1.2" height="0.7" fill="#b8c6de" fill-opacity="0.35"/><rect x="218.8" y="427.9" width="5" height="0.7" fill="#b8c6de" fill-opacity="0.78"/><rect x="203.3" y="422.9" width="1.2" height="0.7" fill="#b8c6de" fill-opacity="0.43"/><rect x="166.1" y="399.8" width="2" height="0.7" fill="#b8c6de" fill-opacity="0.77"/><rect x="228.7" y="395.7" width="2" height="0.7" fill="#b8c6de" fill-opacity="0.64"/><rect x="229.1" y="400.6" width="5" height="0.7" fill="#b8c6de" fill-opacity="0.59"/><rect x="172.6" y="368.5" width="0.8" height="0.7" fill="#b8c6de" fill-opacity="0.43"/><rect x="224.2" y="367.1" width="5" height="0.7" fill="#b8c6de" fill-opacity="0.48"/><rect x="177.9" y="415.8" width="1.2" height="0.7" fill="#b8c6de" fill-opacity="0.51"/><rect x="214.0" y="409.6" width="1.2" height="0.7" fill="#b8c6de" fill-opacity="0.53"/><rect x="227.1" y="419.8" width="5" height="0.7" fill="#b8c6de" fill-opacity="0.31"/><rect x="242.3" y="356.2" width="3" height="0.7" fill="#b8c6de" fill-opacity="0.69"/><rect x="231.7" y="353.9" width="1.2" height="0.7" fill="#b8c6de" fill-opacity="0.75"/><rect x="209.2" y="416.1" width="0.8" height="0.7" fill="#b8c6de" fill-opacity="0.78"/><rect x="229.0" y="370.6" width="1.2" height="0.7" fill="#b8c6de" fill-opacity="0.69"/><rect x="160.2" y="402.9" width="0.8" height="0.7" fill="#b8c6de" fill-opacity="0.75"/>
<rect x="67.1" y="423.5" width="4.0" height="1.0" fill="#a5bde0" fill-opacity="0.74"/><rect x="39.5" y="436.0" width="2.7" height="0.9" fill="#a5bde0" fill-opacity="0.51"/><rect x="58.5" y="416.2" width="6.6" height="0.9" fill="#a5bde0" fill-opacity="0.56"/><rect x="43.2" y="430.0" width="5.9" height="1.5" fill="#a5bde0" fill-opacity="0.53"/><rect x="40.0" y="422.6" width="6.4" height="1.2" fill="#a5bde0" fill-opacity="0.37"/><rect x="64.1" y="418.3" width="9.1" height="1.4" fill="#a5bde0" fill-opacity="0.52"/><rect x="60.1" y="423.1" width="8.2" height="1.2" fill="#a5bde0" fill-opacity="0.69"/><rect x="44.4" y="434.1" width="8.4" height="1.5" fill="#a5bde0" fill-opacity="0.70"/><rect x="39.8" y="427.9" width="6.3" height="0.9" fill="#a5bde0" fill-opacity="0.73"/><rect x="54.4" y="420.4" width="7.4" height="1.2" fill="#a5bde0" fill-opacity="0.68"/><rect x="68.5" y="431.7" width="3.4" height="0.7" fill="#a5bde0" fill-opacity="0.86"/><rect x="48.2" y="433.3" width="3.1" height="1.1" fill="#a5bde0" fill-opacity="0.63"/><rect x="51.0" y="423.5" width="7.2" height="0.8" fill="#a5bde0" fill-opacity="0.34"/><rect x="60.3" y="429.0" width="7.7" height="1.3" fill="#a5bde0" fill-opacity="0.52"/><rect x="49.8" y="436.9" width="4.1" height="0.6" fill="#a5bde0" fill-opacity="0.60"/><rect x="63.7" y="424.5" width="4.0" height="0.9" fill="#a5bde0" fill-opacity="0.54"/>
<rect x="36.00" y="441.00" width="40.00" height="13.00" fill="#a5bde0" fill-opacity="0.8"/>
<rect x="60.8" y="439.8" width="7.9" height="1.4" fill="#a5bde0" fill-opacity="0.47"/><rect x="39.4" y="437.9" width="5.4" height="1.3" fill="#a5bde0" fill-opacity="0.84"/><rect x="42.7" y="440.3" width="4.7" height="1.3" fill="#a5bde0" fill-opacity="0.89"/><rect x="53.9" y="438.2" width="9.7" height="1.0" fill="#a5bde0" fill-opacity="0.52"/><rect x="54.3" y="438.6" width="7.7" height="0.8" fill="#a5bde0" fill-opacity="0.87"/><rect x="65.5" y="444.1" width="3.3" height="1.5" fill="#a5bde0" fill-opacity="0.63"/><rect x="54.7" y="442.1" width="8.0" height="1.5" fill="#a5bde0" fill-opacity="0.81"/><rect x="65.5" y="440.9" width="5.7" height="1.1" fill="#a5bde0" fill-opacity="0.84"/><rect x="64.5" y="442.3" width="3.0" height="1.0" fill="#a5bde0" fill-opacity="0.71"/><rect x="42.4" y="441.2" width="7.1" height="0.6" fill="#a5bde0" fill-opacity="0.70"/><rect x="49.9" y="441.5" width="8.8" height="1.5" fill="#a5bde0" fill-opacity="0.94"/><rect x="64.4" y="442.0" width="4.2" height="0.6" fill="#a5bde0" fill-opacity="0.62"/><rect x="38.7" y="441.3" width="5.1" height="1.4" fill="#a5bde0" fill-opacity="0.59"/><rect x="56.3" y="438.1" width="10.8" height="1.4" fill="#a5bde0" fill-opacity="0.76"/>
<rect x="36.00" y="437.00" width="7.00" height="17.00" fill="#a5bde0" />
<rect x="71.00" y="437.00" width="5.00" height="17.00" fill="#a5bde0" />
<rect x="36.3" y="431.5" width="7.6" height="0.9" fill="#a5bde0" fill-opacity="0.90"/><rect x="36.4" y="425.2" width="7.6" height="1.2" fill="#a5bde0" fill-opacity="0.74"/><rect x="36.2" y="417.6" width="2.7" height="0.8" fill="#a5bde0" fill-opacity="0.58"/><rect x="38.1" y="427.3" width="5.0" height="0.9" fill="#a5bde0" fill-opacity="0.82"/><rect x="37.9" y="431.9" width="3.8" height="0.9" fill="#a5bde0" fill-opacity="0.59"/><rect x="36.4" y="423.7" width="7.4" height="0.9" fill="#a5bde0" fill-opacity="0.76"/><rect x="36.5" y="416.1" width="5.6" height="0.8" fill="#a5bde0" fill-opacity="0.89"/><rect x="38.4" y="420.1" width="2.9" height="0.8" fill="#a5bde0" fill-opacity="0.59"/><rect x="36.6" y="416.6" width="4.4" height="0.7" fill="#a5bde0" fill-opacity="0.58"/><rect x="36.2" y="416.5" width="4.9" height="1.0" fill="#a5bde0" fill-opacity="0.70"/><rect x="36.1" y="424.5" width="6.2" height="0.9" fill="#a5bde0" fill-opacity="0.51"/><rect x="36.0" y="418.0" width="7.8" height="1.0" fill="#a5bde0" fill-opacity="0.58"/><rect x="36.8" y="418.6" width="5.7" height="0.6" fill="#a5bde0" fill-opacity="0.86"/><rect x="39.4" y="425.8" width="3.7" height="1.3" fill="#a5bde0" fill-opacity="0.65"/>
<rect x="36.00" y="425.00" width="5.00" height="12.00" fill="#a5bde0" fill-opacity="0.6"/>
<rect x="48.8" y="451.6" width="6.0" height="0.7" fill="#ffffff" fill-opacity="0.64"/><rect x="59.3" y="453.6" width="4.1" height="0.6" fill="#ffffff" fill-opacity="0.50"/><rect x="45.2" y="443.2" width="3.4" height="0.4" fill="#ffffff" fill-opacity="0.52"/><rect x="58.4" y="443.6" width="10.9" height="0.8" fill="#ffffff" fill-opacity="0.69"/><rect x="57.1" y="453.2" width="12.6" height="0.4" fill="#ffffff" fill-opacity="0.62"/><rect x="59.8" y="442.1" width="10.3" height="0.5" fill="#ffffff" fill-opacity="0.84"/><rect x="52.2" y="445.3" width="4.4" height="0.7" fill="#ffffff" fill-opacity="0.87"/><rect x="59.9" y="450.5" width="5.1" height="0.7" fill="#ffffff" fill-opacity="0.72"/><rect x="48.0" y="446.4" width="14.1" height="0.5" fill="#ffffff" fill-opacity="0.81"/><rect x="48.2" y="443.2" width="8.8" height="0.7" fill="#ffffff" fill-opacity="0.74"/><rect x="49.4" y="447.3" width="11.5" height="0.5" fill="#ffffff" fill-opacity="0.78"/><rect x="54.5" y="450.9" width="3.3" height="0.7" fill="#ffffff" fill-opacity="0.54"/>
<line x1="36" y1="429.3" x2="76" y2="429.3" stroke="#9fb0cf" stroke-width="0.6"/>
<rect x="80.00" y="347.00" width="12.30" height="107.00" fill="#d9d5d6" />
<rect x="92.50" y="364.50" width="51.50" height="89.50" fill="#a5bde0" />
<rect x="137.00" y="361.30" width="7.00" height="4.00" fill="#a5bde0" fill-opacity="0.8"/>
<rect x="118.00" y="363.50" width="19.00" height="1.80" fill="#a5bde0" fill-opacity="0.5"/>
<rect x="104.60" y="365.30" width="1.00" height="88.70" fill="#ffffff" fill-opacity="0.7"/>
<rect x="92.50" y="435.60" width="51.50" height="1.00" fill="#ffffff" fill-opacity="0.7"/>
<rect x="124.7" y="422.5" width="13.3" height="0.8" fill="#ffffff" fill-opacity="0.32"/><rect x="120.1" y="430.5" width="20.7" height="0.5" fill="#ffffff" fill-opacity="0.19"/><rect x="110.1" y="450.1" width="7.5" height="0.4" fill="#ffffff" fill-opacity="0.24"/><rect x="95.9" y="423.1" width="8.9" height="0.5" fill="#ffffff" fill-opacity="0.11"/><rect x="119.0" y="417.5" width="10.3" height="0.4" fill="#ffffff" fill-opacity="0.16"/><rect x="95.3" y="415.5" width="38.9" height="0.6" fill="#ffffff" fill-opacity="0.30"/><rect x="112.5" y="413.1" width="26.2" height="0.5" fill="#ffffff" fill-opacity="0.14"/><rect x="128.6" y="375.9" width="7.8" height="0.4" fill="#ffffff" fill-opacity="0.34"/><rect x="127.8" y="373.5" width="12.0" height="0.6" fill="#ffffff" fill-opacity="0.16"/><rect x="103.3" y="422.5" width="34.0" height="0.7" fill="#ffffff" fill-opacity="0.32"/><rect x="113.2" y="405.2" width="17.1" height="0.4" fill="#ffffff" fill-opacity="0.31"/><rect x="113.4" y="384.1" width="25.8" height="0.6" fill="#ffffff" fill-opacity="0.22"/><rect x="94.1" y="396.5" width="30.5" height="0.6" fill="#ffffff" fill-opacity="0.12"/><rect x="112.5" y="403.2" width="24.3" height="0.7" fill="#ffffff" fill-opacity="0.25"/><rect x="106.2" y="453.6" width="12.5" height="0.5" fill="#ffffff" fill-opacity="0.21"/><rect x="102.0" y="380.5" width="7.9" height="0.8" fill="#ffffff" fill-opacity="0.28"/><rect x="108.2" y="419.9" width="35.6" height="0.8" fill="#ffffff" fill-opacity="0.23"/><rect x="122.7" y="445.5" width="19.7" height="0.8" fill="#ffffff" fill-opacity="0.22"/><rect x="100.4" y="453.8" width="32.1" height="0.8" fill="#ffffff" fill-opacity="0.17"/><rect x="95.0" y="374.4" width="37.7" height="0.7" fill="#ffffff" fill-opacity="0.17"/><rect x="110.6" y="369.6" width="23.2" height="0.7" fill="#ffffff" fill-opacity="0.17"/><rect x="103.3" y="431.3" width="20.1" height="0.7" fill="#ffffff" fill-opacity="0.17"/><rect x="105.3" y="402.2" width="8.6" height="0.4" fill="#ffffff" fill-opacity="0.14"/><rect x="106.4" y="451.9" width="31.7" height="0.8" fill="#ffffff" fill-opacity="0.32"/><rect x="97.9" y="393.5" width="18.0" height="0.6" fill="#ffffff" fill-opacity="0.23"/>
<rect x="146.00" y="440.00" width="14.00" height="14.00" fill="#a5bde0" fill-opacity="0.85"/>
<rect x="163.00" y="441.00" width="9.00" height="13.00" fill="#a5bde0" fill-opacity="0.75"/>
<rect x="176.00" y="440.00" width="39.00" height="14.00" fill="#a5bde0" fill-opacity="0.85"/>
<rect x="215.00" y="443.00" width="10.00" height="11.00" fill="#a5bde0" fill-opacity="0.5"/>
<rect x="225.00" y="440.00" width="18.50" height="14.00" fill="#a5bde0" fill-opacity="0.85"/>
<rect x="178.2" y="441.1" width="7.4" height="0.9" fill="#a5bde0" fill-opacity="0.68"/><rect x="215.5" y="437.8" width="10.9" height="0.8" fill="#a5bde0" fill-opacity="0.88"/><rect x="158.5" y="439.2" width="2.1" height="1.1" fill="#a5bde0" fill-opacity="0.50"/><rect x="165.3" y="440.6" width="2.5" height="1.0" fill="#a5bde0" fill-opacity="0.99"/><rect x="231.3" y="436.2" width="9.9" height="0.8" fill="#a5bde0" fill-opacity="0.41"/><rect x="176.7" y="436.3" width="6.3" height="1.1" fill="#a5bde0" fill-opacity="0.46"/><rect x="168.7" y="440.8" width="5.1" height="1.0" fill="#a5bde0" fill-opacity="0.56"/><rect x="186.6" y="439.8" width="2.4" height="1.2" fill="#a5bde0" fill-opacity="0.95"/><rect x="167.5" y="436.8" width="10.1" height="1.3" fill="#a5bde0" fill-opacity="0.87"/><rect x="220.7" y="439.3" width="7.1" height="0.9" fill="#a5bde0" fill-opacity="0.50"/><rect x="207.0" y="441.4" width="2.2" height="1.4" fill="#a5bde0" fill-opacity="0.68"/><rect x="228.0" y="440.9" width="8.7" height="1.1" fill="#a5bde0" fill-opacity="0.65"/><rect x="161.3" y="437.1" width="7.2" height="1.2" fill="#a5bde0" fill-opacity="1.00"/><rect x="182.5" y="438.1" width="7.5" height="1.0" fill="#a5bde0" fill-opacity="0.88"/><rect x="232.8" y="436.9" width="6.5" height="0.9" fill="#a5bde0" fill-opacity="0.71"/><rect x="223.3" y="441.0" width="6.1" height="1.4" fill="#a5bde0" fill-opacity="0.77"/><rect x="200.4" y="439.3" width="2.3" height="1.0" fill="#a5bde0" fill-opacity="0.57"/><rect x="226.1" y="436.6" width="9.1" height="1.2" fill="#a5bde0" fill-opacity="0.62"/><rect x="226.5" y="441.8" width="7.1" height="1.2" fill="#a5bde0" fill-opacity="0.52"/><rect x="161.5" y="438.3" width="11.2" height="1.3" fill="#a5bde0" fill-opacity="0.59"/><rect x="233.7" y="441.7" width="4.7" height="0.9" fill="#a5bde0" fill-opacity="0.64"/><rect x="158.1" y="437.5" width="4.8" height="1.5" fill="#a5bde0" fill-opacity="0.45"/><rect x="164.5" y="436.5" width="4.3" height="1.1" fill="#a5bde0" fill-opacity="0.85"/><rect x="200.7" y="440.9" width="10.4" height="0.6" fill="#a5bde0" fill-opacity="0.57"/><rect x="151.9" y="437.6" width="11.6" height="1.0" fill="#a5bde0" fill-opacity="0.56"/><rect x="150.2" y="437.4" width="7.5" height="1.5" fill="#a5bde0" fill-opacity="0.49"/><rect x="161.3" y="442.0" width="11.1" height="1.2" fill="#a5bde0" fill-opacity="0.79"/><rect x="151.1" y="440.6" width="3.4" height="0.8" fill="#a5bde0" fill-opacity="0.51"/><rect x="221.9" y="436.3" width="10.2" height="1.5" fill="#a5bde0" fill-opacity="0.72"/><rect x="155.8" y="438.3" width="5.8" height="1.5" fill="#a5bde0" fill-opacity="0.57"/>
<rect x="159.4" y="442.6" width="4.6" height="0.5" fill="#ffffff" fill-opacity="0.87"/><rect x="163.9" y="453.2" width="3.9" height="0.8" fill="#ffffff" fill-opacity="0.89"/><rect x="178.3" y="453.4" width="6.0" height="0.6" fill="#ffffff" fill-opacity="0.78"/><rect x="147.9" y="445.5" width="6.8" height="0.7" fill="#ffffff" fill-opacity="0.81"/><rect x="186.5" y="448.0" width="9.8" height="0.6" fill="#ffffff" fill-opacity="0.71"/><rect x="162.8" y="448.7" width="13.0" height="0.8" fill="#ffffff" fill-opacity="0.84"/><rect x="234.5" y="451.9" width="5.2" height="0.5" fill="#ffffff" fill-opacity="0.61"/><rect x="150.9" y="453.7" width="5.4" height="0.6" fill="#ffffff" fill-opacity="0.85"/><rect x="147.3" y="452.3" width="4.4" height="0.7" fill="#ffffff" fill-opacity="0.90"/><rect x="191.1" y="451.0" width="11.2" height="0.4" fill="#ffffff" fill-opacity="0.72"/><rect x="159.0" y="448.8" width="8.3" height="0.5" fill="#ffffff" fill-opacity="0.70"/><rect x="174.5" y="445.7" width="7.5" height="0.6" fill="#ffffff" fill-opacity="0.89"/><rect x="217.4" y="451.9" width="14.2" height="0.5" fill="#ffffff" fill-opacity="0.89"/><rect x="157.2" y="447.5" width="6.2" height="0.7" fill="#ffffff" fill-opacity="0.64"/><rect x="170.4" y="453.6" width="10.7" height="0.6" fill="#ffffff" fill-opacity="0.69"/><rect x="222.7" y="453.8" width="9.4" height="0.6" fill="#ffffff" fill-opacity="0.68"/><rect x="152.0" y="446.5" width="10.4" height="0.7" fill="#ffffff" fill-opacity="0.81"/><rect x="225.7" y="446.0" width="3.7" height="0.8" fill="#ffffff" fill-opacity="0.65"/><rect x="196.2" y="452.5" width="5.6" height="0.6" fill="#ffffff" fill-opacity="0.85"/><rect x="176.9" y="444.9" width="11.5" height="0.6" fill="#ffffff" fill-opacity="0.66"/><rect x="204.3" y="452.4" width="7.5" height="0.6" fill="#ffffff" fill-opacity="0.56"/><rect x="179.9" y="449.0" width="5.6" height="0.5" fill="#ffffff" fill-opacity="0.53"/><rect x="171.5" y="441.4" width="6.8" height="0.6" fill="#ffffff" fill-opacity="0.87"/><rect x="210.6" y="451.8" width="9.4" height="0.7" fill="#ffffff" fill-opacity="0.87"/><rect x="206.5" y="442.6" width="8.3" height="0.8" fill="#ffffff" fill-opacity="0.65"/><rect x="224.6" y="444.7" width="8.7" height="0.5" fill="#ffffff" fill-opacity="0.83"/><rect x="153.4" y="441.4" width="10.2" height="0.5" fill="#ffffff" fill-opacity="0.50"/><rect x="161.4" y="444.6" width="13.0" height="0.6" fill="#ffffff" fill-opacity="0.70"/><rect x="201.8" y="449.6" width="8.2" height="0.6" fill="#ffffff" fill-opacity="0.54"/><rect x="202.9" y="442.1" width="14.7" height="0.6" fill="#ffffff" fill-opacity="0.80"/>
<rect x="150.8" y="400.4" width="24.8" height="0.7" fill="#a5bde0" fill-opacity="0.51"/><rect x="207.4" y="412.3" width="22.7" height="0.7" fill="#a5bde0" fill-opacity="0.59"/><rect x="161.1" y="414.5" width="22.5" height="0.5" fill="#a5bde0" fill-opacity="0.62"/><rect x="233.3" y="419.4" width="3.6" height="0.7" fill="#a5bde0" fill-opacity="0.34"/><rect x="187.7" y="431.7" width="8.1" height="0.7" fill="#a5bde0" fill-opacity="0.44"/><rect x="193.9" y="419.6" width="24.6" height="0.6" fill="#a5bde0" fill-opacity="0.45"/><rect x="155.9" y="419.7" width="22.8" height="0.7" fill="#a5bde0" fill-opacity="0.48"/><rect x="216.1" y="431.7" width="19.9" height="0.8" fill="#a5bde0" fill-opacity="0.40"/><rect x="186.1" y="411.5" width="4.3" height="0.6" fill="#a5bde0" fill-opacity="0.74"/><rect x="219.4" y="434.7" width="7.8" height="0.5" fill="#a5bde0" fill-opacity="0.76"/><rect x="164.1" y="406.9" width="11.7" height="0.5" fill="#a5bde0" fill-opacity="0.55"/><rect x="218.8" y="430.8" width="11.5" height="0.5" fill="#a5bde0" fill-opacity="0.50"/><rect x="161.2" y="409.3" width="11.6" height="0.6" fill="#a5bde0" fill-opacity="0.65"/><rect x="155.6" y="408.2" width="10.5" height="0.7" fill="#a5bde0" fill-opacity="0.58"/><rect x="208.0" y="408.0" width="8.4" height="0.8" fill="#a5bde0" fill-opacity="0.60"/><rect x="213.7" y="414.6" width="6.9" height="0.7" fill="#a5bde0" fill-opacity="0.60"/><rect x="181.5" y="402.1" width="16.8" height="0.8" fill="#a5bde0" fill-opacity="0.73"/><rect x="194.2" y="409.9" width="13.8" height="0.9" fill="#a5bde0" fill-opacity="0.64"/><rect x="218.9" y="436.5" width="7.9" height="0.6" fill="#a5bde0" fill-opacity="0.80"/><rect x="160.9" y="426.5" width="13.6" height="0.6" fill="#a5bde0" fill-opacity="0.67"/><rect x="154.7" y="419.5" width="15.8" height="0.8" fill="#a5bde0" fill-opacity="0.54"/><rect x="216.9" y="416.5" width="14.9" height="0.7" fill="#a5bde0" fill-opacity="0.59"/><rect x="161.4" y="403.5" width="21.1" height="0.8" fill="#a5bde0" fill-opacity="0.58"/><rect x="223.9" y="432.7" width="9.7" height="0.7" fill="#a5bde0" fill-opacity="0.79"/><rect x="202.6" y="410.8" width="21.4" height="0.5" fill="#a5bde0" fill-opacity="0.64"/>
<rect x="172.50" y="347.00" width="3.80" height="107.00" fill="#d9d5d6" />
<rect x="144.00" y="332.50" width="2.00" height="121.50" fill="#111" />
<rect x="85.40" y="332.00" width="2.30" height="5.50" fill="#34983a" /><rect x="85.40" y="348.50" width="2.30" height="13.00" fill="#34983a" /><rect x="85.40" y="375.00" width="2.30" height="13.00" fill="#34983a" /><rect x="85.40" y="401.30" width="2.30" height="13.00" fill="#34983a" /><rect x="85.40" y="427.50" width="2.30" height="13.00" fill="#34983a" />
<rect x="173.60" y="332.00" width="1.70" height="7.00" fill="#34983a" /><rect x="173.60" y="348.50" width="1.70" height="13.00" fill="#34983a" /><rect x="173.60" y="375.00" width="1.70" height="13.00" fill="#34983a" /><rect x="173.60" y="401.30" width="1.70" height="13.00" fill="#34983a" /><rect x="173.60" y="427.50" width="1.70" height="13.00" fill="#34983a" />
<line x1="244.8" y1="347.5" x2="244.8" y2="454" stroke="#444" stroke-width="0.9"/><line x1="244.8" y1="347.5" x2="244.8" y2="454" stroke="#222" stroke-width="1.6" stroke-dasharray="1 7"/><path d="M245.3 350.5H257.8V452H245.3" fill="none" stroke="#b5b5b5" stroke-width="0.7"/><rect x="251.3" y="400.8" width="5.5" height="44.7" fill="#b9aea6" fill-opacity="0.55"/><path d="M245.3 349.6H254.3V360.3H245.3" fill="none" stroke="#7a7a7a" stroke-width="0.65"/><path d="M245.3 362.4H256.8V451.9H245.3" fill="none" stroke="#7a7a7a" stroke-width="0.65"/><path d="M245.3 368.8H253.3V406.1H245.3" fill="none" stroke="#7a7a7a" stroke-width="0.65"/><path d="M245.3 374.1H250.3V400.8H245.3" fill="none" stroke="#7a7a7a" stroke-width="0.65"/><path d="M245.3 379.4H248.3V395.4H245.3" fill="none" stroke="#7a7a7a" stroke-width="0.65"/><path d="M245.3 406.1H254.8V445.5H245.3" fill="none" stroke="#7a7a7a" stroke-width="0.65"/><path d="M245.3 411.4H251.3V438.0H245.3" fill="none" stroke="#7a7a7a" stroke-width="0.65"/><path d="M245.3 416.7H248.8V432.7H245.3" fill="none" stroke="#7a7a7a" stroke-width="0.65"/><path d="M245.3 438.0H247.3V443.4H245.3" fill="none" stroke="#7a7a7a" stroke-width="0.65"/><path d="M245.3 445.5H249.3V450.8H245.3" fill="none" stroke="#7a7a7a" stroke-width="0.65"/><line x1="245.3" y1="424.3" x2="247.0" y2="424.3" stroke="#999" stroke-width="0.5"/><line x1="245.3" y1="398.6" x2="247.8" y2="398.6" stroke="#999" stroke-width="0.5"/><line x1="245.3" y1="375.7" x2="248.2" y2="375.7" stroke="#999" stroke-width="0.5"/><line x1="245.3" y1="407.0" x2="247.1" y2="407.0" stroke="#999" stroke-width="0.5"/><line x1="245.3" y1="361.7" x2="247.7" y2="361.7" stroke="#999" stroke-width="0.5"/><line x1="245.3" y1="382.7" x2="248.3" y2="382.7" stroke="#999" stroke-width="0.5"/><line x1="245.3" y1="368.0" x2="247.2" y2="368.0" stroke="#999" stroke-width="0.5"/><line x1="245.3" y1="370.3" x2="247.2" y2="370.3" stroke="#999" stroke-width="0.5"/><line x1="245.3" y1="408.4" x2="246.2" y2="408.4" stroke="#999" stroke-width="0.5"/><line x1="245.3" y1="356.2" x2="247.5" y2="356.2" stroke="#999" stroke-width="0.5"/><line x1="245.3" y1="370.9" x2="247.6" y2="370.9" stroke="#999" stroke-width="0.5"/><line x1="245.3" y1="367.4" x2="246.2" y2="367.4" stroke="#999" stroke-width="0.5"/><line x1="245.3" y1="404.5" x2="249.0" y2="404.5" stroke="#999" stroke-width="0.5"/><line x1="245.3" y1="437.6" x2="247.6" y2="437.6" stroke="#999" stroke-width="0.5"/><line x1="245.3" y1="390.5" x2="246.0" y2="390.5" stroke="#999" stroke-width="0.5"/><line x1="245.3" y1="378.4" x2="246.9" y2="378.4" stroke="#999" stroke-width="0.5"/><line x1="245.3" y1="445.0" x2="246.2" y2="445.0" stroke="#999" stroke-width="0.5"/><line x1="245.3" y1="445.6" x2="247.5" y2="445.6" stroke="#999" stroke-width="0.5"/><line x1="245.3" y1="394.1" x2="246.7" y2="394.1" stroke="#999" stroke-width="0.5"/><line x1="245.3" y1="447.1" x2="246.5" y2="447.1" stroke="#999" stroke-width="0.5"/><line x1="245.3" y1="407.9" x2="247.6" y2="407.9" stroke="#999" stroke-width="0.5"/><line x1="245.3" y1="370.7" x2="246.6" y2="370.7" stroke="#999" stroke-width="0.5"/>
<text x="38.6" y="467" font-size="8.6" text-anchor="start" fill="#222" >BCMA</text>
<text x="144.4" y="466.4" font-size="8.2" text-anchor="start" fill="#222" >TP53</text>
<rect x="121.60" y="474.30" width="102.30" height="8.10" fill="#d9d9d9" /><text transform="translate(172.80 480.40) scale(0.9 1)" font-size="7.4" text-anchor="middle" fill="#222">BCMA</text><rect x="121.60" y="482.40" width="34.10" height="8.20" fill="#dbe7f3" /><text transform="translate(138.70 488.60) scale(0.9 1)" font-size="7.4" text-anchor="middle" fill="#222">Deletion</text><rect x="155.70" y="482.40" width="34.10" height="8.20" fill="#dcefd6" /><text transform="translate(172.80 488.60) scale(0.9 1)" font-size="7.4" text-anchor="middle" fill="#222">Diploid</text><rect x="189.80" y="482.40" width="34.10" height="8.20" fill="#f5d3d0" /><text transform="translate(206.80 488.60) scale(0.9 1)" font-size="7.4" text-anchor="middle" fill="#222">Gain</text><rect x="76.60" y="490.60" width="10.20" height="25.80" fill="#f6c48a" /><text transform="translate(84.5 503.5) rotate(-90)" font-size="7.4" text-anchor="middle" fill="#333">TP53</text><rect x="86.80" y="490.60" width="34.80" height="8.60" fill="#dbe7f3" /><text transform="translate(104.20 497.20) scale(0.9 1)" font-size="7.4" text-anchor="middle" fill="#222">Deletion</text><text transform="translate(138.70 497.20) scale(0.9 1)" font-size="7.4" text-anchor="middle" fill="#222">8.45%</text><text transform="translate(172.80 497.20) scale(0.9 1)" font-size="7.4" text-anchor="middle" fill="#222">6.16%</text><text transform="translate(206.80 497.20) scale(0.9 1)" font-size="7.4" text-anchor="middle" fill="#222">0.00%</text><rect x="86.80" y="499.20" width="34.80" height="8.60" fill="#dcefd6" /><text transform="translate(104.20 505.80) scale(0.9 1)" font-size="7.4" text-anchor="middle" fill="#222">Diploid</text><text transform="translate(138.70 505.80) scale(0.9 1)" font-size="7.4" text-anchor="middle" fill="#222">0.97%</text><text transform="translate(172.80 505.80) scale(0.9 1)" font-size="7.4" text-anchor="middle" fill="#222">65.70%</text><text transform="translate(206.80 505.80) scale(0.9 1)" font-size="7.4" text-anchor="middle" fill="#222">1.33%</text><rect x="86.80" y="507.80" width="34.80" height="8.60" fill="#f5d3d0" /><text transform="translate(104.20 514.40) scale(0.9 1)" font-size="7.4" text-anchor="middle" fill="#222">Gain</text><text transform="translate(138.70 514.40) scale(0.9 1)" font-size="7.4" text-anchor="middle" fill="#222">0.24%</text><text transform="translate(172.80 514.40) scale(0.9 1)" font-size="7.4" text-anchor="middle" fill="#222">0.60%</text><text transform="translate(206.80 514.40) scale(0.9 1)" font-size="7.4" text-anchor="middle" fill="#222">16.55%</text><rect x="121.6" y="474.3" width="102.3" height="42.1" stroke="#666" stroke-width="0.9" fill="none"/><line x1="121.6" y1="482.40000000000003" x2="223.9" y2="482.40000000000003" stroke="#666" stroke-width="0.9" fill="none"/><line x1="76.6" y1="490.6" x2="223.9" y2="490.6" stroke="#666" stroke-width="0.9" fill="none"/><line x1="76.6" y1="499.2" x2="223.9" y2="499.2" stroke="#666" stroke-width="0.9" fill="none"/><line x1="76.6" y1="507.8" x2="223.9" y2="507.8" stroke="#666" stroke-width="0.9" fill="none"/><line x1="76.6" y1="516.4" x2="223.9" y2="516.4" stroke="#666" stroke-width="0.9" fill="none"/><line x1="155.7" y1="482.40000000000003" x2="155.7" y2="516.4" stroke="#666" stroke-width="0.9" fill="none"/><line x1="189.8" y1="482.40000000000003" x2="189.8" y2="516.4" stroke="#666" stroke-width="0.9" fill="none"/><rect x="76.6" y="490.6" width="45.0" height="25.8" stroke="#666" stroke-width="0.9" fill="none"/><line x1="86.8" y1="490.6" x2="86.8" y2="516.4" stroke="#666" stroke-width="0.9" fill="none"/>
<text x="40" y="541.4" font-size="8.5" text-anchor="start" fill="#222" >chr16p</text>
<text x="103" y="541.4" font-size="8.5" text-anchor="start" fill="#222" >chr16q</text>
<text x="146.2" y="541.4" font-size="8.5" text-anchor="start" fill="#222" >chr17p</text>
<text x="204.5" y="541.4" font-size="8.5" text-anchor="start" fill="#222" >chr17q</text>
<line x1="75.9" y1="550.5" x2="75.9" y2="656" stroke="#d0d0d0" stroke-width="0.7"/>
<rect x="36.00" y="558.50" width="10.20" height="91.50" fill="#a5bde0" />
<rect x="37.60" y="558.50" width="0.80" height="91.50" fill="#ffffff" fill-opacity="0.5"/>
<rect x="48.20" y="558.50" width="5.40" height="91.50" fill="#a5bde0" />
<line x1="50.9" y1="548" x2="50.9" y2="656" stroke="#53617f" stroke-width="1.5" stroke-dasharray="1.5 1.3"/>
<rect x="36.00" y="565.20" width="18.00" height="1.40" fill="#ffffff" />
<rect x="36.00" y="572.00" width="18.00" height="4.00" fill="#ffffff" />
<line x1="54.2" y1="601.5" x2="70.4" y2="601.5" stroke="#b0b6c4" stroke-width="0.7"/>
<line x1="61.2" y1="594.8" x2="61.2" y2="608" stroke="#b0b6c4" stroke-width="0.7"/>
<line x1="36" y1="655.8" x2="76" y2="655.8" stroke="#b8c4dc" stroke-width="0.6" stroke-dasharray="1 3"/>
<rect x="74.7" y="630.1" width="2" height="0.7" fill="#b8c6de" fill-opacity="0.75"/><rect x="57.0" y="621.8" width="0.8" height="0.7" fill="#b8c6de" fill-opacity="0.41"/><rect x="64.1" y="647.6" width="2" height="0.7" fill="#b8c6de" fill-opacity="0.71"/><rect x="57.8" y="559.0" width="3" height="0.7" fill="#b8c6de" fill-opacity="0.43"/><rect x="65.2" y="590.4" width="3" height="0.7" fill="#b8c6de" fill-opacity="0.67"/><rect x="65.1" y="620.3" width="3" height="0.7" fill="#b8c6de" fill-opacity="0.79"/><rect x="63.6" y="583.1" width="2" height="0.7" fill="#b8c6de" fill-opacity="0.59"/><rect x="62.8" y="559.4" width="1.2" height="0.7" fill="#b8c6de" fill-opacity="0.52"/><rect x="55.0" y="630.1" width="1.2" height="0.7" fill="#b8c6de" fill-opacity="0.55"/><rect x="74.1" y="635.5" width="2" height="0.7" fill="#b8c6de" fill-opacity="0.43"/><rect x="67.6" y="608.5" width="2" height="0.7" fill="#b8c6de" fill-opacity="0.40"/><rect x="58.2" y="648.1" width="0.8" height="0.7" fill="#b8c6de" fill-opacity="0.54"/>
<rect x="79.20" y="550.50" width="11.80" height="106.50" fill="#d9d5d6" />
<rect x="91.10" y="557.70" width="52.70" height="98.30" fill="#a5bde0" />
<rect x="95.60" y="557.70" width="3.80" height="92.30" fill="#ffffff" />
<rect x="95.60" y="572.50" width="3.80" height="2.70" fill="#a5bde0" fill-opacity="0.7"/>
<rect x="99.40" y="565.60" width="44.40" height="1.00" fill="#ffffff" fill-opacity="0.75"/>
<line x1="101" y1="576.5" x2="142" y2="576.5" stroke="#ffffff" stroke-opacity="0.6" stroke-width="0.8" stroke-dasharray="1 7"/>
<line x1="101" y1="596" x2="142" y2="596" stroke="#ffffff" stroke-opacity="0.6" stroke-width="0.8" stroke-dasharray="1 7"/>
<line x1="101" y1="612" x2="142" y2="612" stroke="#ffffff" stroke-opacity="0.6" stroke-width="0.8" stroke-dasharray="1 7"/>
<line x1="101" y1="630" x2="142" y2="630" stroke="#ffffff" stroke-opacity="0.6" stroke-width="0.8" stroke-dasharray="1 7"/>
<rect x="146.00" y="557.70" width="23.80" height="98.30" fill="#a5bde0" />
<line x1="152.7" y1="554" x2="152.7" y2="656" stroke="#4d5b7a" stroke-width="1.4" stroke-dasharray="1.6 2.6"/>
<rect x="170.60" y="550.50" width="4.80" height="106.50" fill="#d9d5d6" />
<rect x="225.0" y="569.5" width="5" height="0.7" fill="#b8c6de" fill-opacity="0.47"/><rect x="230.0" y="625.9" width="2" height="0.7" fill="#b8c6de" fill-opacity="0.37"/><rect x="217.6" y="640.8" width="1.2" height="0.7" fill="#b8c6de" fill-opacity="0.35"/><rect x="222.4" y="616.0" width="5" height="0.7" fill="#b8c6de" fill-opacity="0.50"/><rect x="206.6" y="651.4" width="5" height="0.7" fill="#b8c6de" fill-opacity="0.52"/><rect x="188.4" y="635.2" width="0.8" height="0.7" fill="#b8c6de" fill-opacity="0.44"/><rect x="222.4" y="571.6" width="0.8" height="0.7" fill="#b8c6de" fill-opacity="0.47"/><rect x="224.2" y="635.9" width="2" height="0.7" fill="#b8c6de" fill-opacity="0.35"/><rect x="229.1" y="592.7" width="5" height="0.7" fill="#b8c6de" fill-opacity="0.52"/><rect x="220.4" y="586.7" width="1.2" height="0.7" fill="#b8c6de" fill-opacity="0.52"/><rect x="192.4" y="555.6" width="1.2" height="0.7" fill="#b8c6de" fill-opacity="0.41"/><rect x="204.0" y="564.3" width="2" height="0.7" fill="#b8c6de" fill-opacity="0.79"/><rect x="184.5" y="619.6" width="1.2" height="0.7" fill="#b8c6de" fill-opacity="0.45"/><rect x="178.6" y="557.6" width="2" height="0.7" fill="#b8c6de" fill-opacity="0.41"/><rect x="206.5" y="604.5" width="5" height="0.7" fill="#b8c6de" fill-opacity="0.49"/><rect x="235.4" y="575.3" width="5" height="0.7" fill="#b8c6de" fill-opacity="0.51"/><rect x="197.0" y="561.1" width="3" height="0.7" fill="#b8c6de" fill-opacity="0.55"/><rect x="183.5" y="644.9" width="5" height="0.7" fill="#b8c6de" fill-opacity="0.77"/><rect x="186.6" y="605.4" width="2" height="0.7" fill="#b8c6de" fill-opacity="0.80"/><rect x="187.9" y="590.5" width="2" height="0.7" fill="#b8c6de" fill-opacity="0.36"/><rect x="209.5" y="601.5" width="1.2" height="0.7" fill="#b8c6de" fill-opacity="0.67"/><rect x="227.1" y="557.0" width="0.8" height="0.7" fill="#b8c6de" fill-opacity="0.54"/><rect x="177.3" y="623.7" width="3" height="0.7" fill="#b8c6de" fill-opacity="0.75"/><rect x="180.1" y="620.5" width="2" height="0.7" fill="#b8c6de" fill-opacity="0.71"/><rect x="208.9" y="630.5" width="1.2" height="0.7" fill="#b8c6de" fill-opacity="0.45"/><rect x="213.6" y="594.4" width="0.8" height="0.7" fill="#b8c6de" fill-opacity="0.36"/><rect x="221.3" y="578.0" width="1.2" height="0.7" fill="#b8c6de" fill-opacity="0.67"/><rect x="211.5" y="629.6" width="5" height="0.7" fill="#b8c6de" fill-opacity="0.37"/><rect x="187.7" y="648.3" width="2" height="0.7" fill="#b8c6de" fill-opacity="0.56"/><rect x="239.5" y="555.6" width="0.8" height="0.7" fill="#b8c6de" fill-opacity="0.48"/>
<rect x="143.80" y="535.50" width="2.10" height="121.50" fill="#111" />
<rect x="84.40" y="535.00" width="2.20" height="5.00" fill="#34983a" /><rect x="84.40" y="552.00" width="2.20" height="13.00" fill="#34983a" /><rect x="84.40" y="578.50" width="2.20" height="13.00" fill="#34983a" /><rect x="84.40" y="604.80" width="2.20" height="13.00" fill="#34983a" /><rect x="84.40" y="631.00" width="2.20" height="13.00" fill="#34983a" />
<rect x="172.50" y="535.00" width="2.50" height="7.00" fill="#34983a" /><rect x="172.50" y="552.00" width="2.50" height="13.00" fill="#34983a" /><rect x="172.50" y="578.50" width="2.50" height="13.00" fill="#34983a" /><rect x="172.50" y="604.80" width="2.50" height="13.00" fill="#34983a" /><rect x="172.50" y="631.00" width="2.50" height="13.00" fill="#34983a" />
<line x1="244.5" y1="550.5" x2="244.5" y2="657" stroke="#444" stroke-width="0.9"/><line x1="244.5" y1="550.5" x2="244.5" y2="657" stroke="#222" stroke-width="1.6" stroke-dasharray="1 7"/><path d="M245.0 553.5H257.5V655H245.0" fill="none" stroke="#b5b5b5" stroke-width="0.7"/><rect x="245.0" y="579.3" width="4.5" height="8.5" fill="none" stroke="#d8a070" stroke-width="0.8"/><path d="M256.0 603.8L245.0 644.2L253.0 644.2Z" fill="#c9b5a5" fill-opacity="0.6"/><path d="M245.0 552.6H255.0V571.8H245.0" fill="none" stroke="#7a7a7a" stroke-width="0.65"/><path d="M245.0 555.8H250.0V566.5H245.0" fill="none" stroke="#7a7a7a" stroke-width="0.65"/><path d="M245.0 573.9H252.0V603.8H245.0" fill="none" stroke="#7a7a7a" stroke-width="0.65"/><path d="M245.0 580.3H248.0V598.4H245.0" fill="none" stroke="#7a7a7a" stroke-width="0.65"/><path d="M245.0 603.8H256.5V654.9H245.0" fill="none" stroke="#7a7a7a" stroke-width="0.65"/><path d="M245.0 609.1H252.0V625.0H245.0" fill="none" stroke="#7a7a7a" stroke-width="0.65"/><path d="M245.0 625.0H250.0V651.7H245.0" fill="none" stroke="#7a7a7a" stroke-width="0.65"/><path d="M245.0 630.4H247.5V646.4H245.0" fill="none" stroke="#7a7a7a" stroke-width="0.65"/><line x1="245.0" y1="603.7" x2="245.8" y2="603.7" stroke="#999" stroke-width="0.5"/><line x1="245.0" y1="620.4" x2="246.7" y2="620.4" stroke="#999" stroke-width="0.5"/><line x1="245.0" y1="632.1" x2="247.0" y2="632.1" stroke="#999" stroke-width="0.5"/><line x1="245.0" y1="588.1" x2="248.8" y2="588.1" stroke="#999" stroke-width="0.5"/><line x1="245.0" y1="586.0" x2="247.2" y2="586.0" stroke="#999" stroke-width="0.5"/><line x1="245.0" y1="617.3" x2="248.3" y2="617.3" stroke="#999" stroke-width="0.5"/><line x1="245.0" y1="628.6" x2="246.2" y2="628.6" stroke="#999" stroke-width="0.5"/><line x1="245.0" y1="563.4" x2="246.4" y2="563.4" stroke="#999" stroke-width="0.5"/><line x1="245.0" y1="601.6" x2="247.0" y2="601.6" stroke="#999" stroke-width="0.5"/><line x1="245.0" y1="629.1" x2="248.0" y2="629.1" stroke="#999" stroke-width="0.5"/><line x1="245.0" y1="613.8" x2="247.8" y2="613.8" stroke="#999" stroke-width="0.5"/><line x1="245.0" y1="653.6" x2="245.7" y2="653.6" stroke="#999" stroke-width="0.5"/><line x1="245.0" y1="593.9" x2="246.8" y2="593.9" stroke="#999" stroke-width="0.5"/><line x1="245.0" y1="585.7" x2="247.8" y2="585.7" stroke="#999" stroke-width="0.5"/><line x1="245.0" y1="645.2" x2="247.1" y2="645.2" stroke="#999" stroke-width="0.5"/><line x1="245.0" y1="596.9" x2="247.0" y2="596.9" stroke="#999" stroke-width="0.5"/><line x1="245.0" y1="611.5" x2="246.8" y2="611.5" stroke="#999" stroke-width="0.5"/><line x1="245.0" y1="635.7" x2="246.8" y2="635.7" stroke="#999" stroke-width="0.5"/><line x1="245.0" y1="635.4" x2="246.9" y2="635.4" stroke="#999" stroke-width="0.5"/><line x1="245.0" y1="644.2" x2="246.9" y2="644.2" stroke="#999" stroke-width="0.5"/><line x1="245.0" y1="606.3" x2="246.0" y2="606.3" stroke="#999" stroke-width="0.5"/><line x1="245.0" y1="641.7" x2="248.2" y2="641.7" stroke="#999" stroke-width="0.5"/>
<text x="38.6" y="671" font-size="8.6" text-anchor="start" fill="#222" >BCMA</text>
<text x="143.8" y="671.3" font-size="8.2" text-anchor="start" fill="#222" >TP53</text>
<rect x="126.20" y="677.50" width="102.60" height="8.50" fill="#d9d9d9" /><text transform="translate(177.50 684.00) scale(0.9 1)" font-size="7.4" text-anchor="middle" fill="#222">BCMA</text><rect x="126.20" y="686.00" width="34.20" height="8.30" fill="#dbe7f3" /><text transform="translate(143.30 692.30) scale(0.9 1)" font-size="7.4" text-anchor="middle" fill="#222">Deletion</text><rect x="160.40" y="686.00" width="34.20" height="8.30" fill="#dcefd6" /><text transform="translate(177.50 692.30) scale(0.9 1)" font-size="7.4" text-anchor="middle" fill="#222">Diploid</text><rect x="194.60" y="686.00" width="34.20" height="8.30" fill="#f5d3d0" /><text transform="translate(211.70 692.30) scale(0.9 1)" font-size="7.4" text-anchor="middle" fill="#222">Gain</text><rect x="79.90" y="694.30" width="11.80" height="24.90" fill="#f6c48a" /><text transform="translate(88.6 706.8) rotate(-90)" font-size="7.4" text-anchor="middle" fill="#333">TP53</text><rect x="91.70" y="694.30" width="34.50" height="8.30" fill="#dbe7f3" /><text transform="translate(109.00 700.60) scale(0.9 1)" font-size="7.4" text-anchor="middle" fill="#222">Deletion</text><text transform="translate(143.30 700.60) scale(0.9 1)" font-size="7.4" text-anchor="middle" fill="#222">86.43%</text><text transform="translate(177.50 700.60) scale(0.9 1)" font-size="7.4" text-anchor="middle" fill="#222">5.00%</text><text transform="translate(211.70 700.60) scale(0.9 1)" font-size="7.4" text-anchor="middle" fill="#222">0.00%</text><rect x="91.70" y="702.60" width="34.50" height="8.30" fill="#dcefd6" /><text transform="translate(109.00 708.90) scale(0.9 1)" font-size="7.4" text-anchor="middle" fill="#222">Diploid</text><text transform="translate(143.30 708.90) scale(0.9 1)" font-size="7.4" text-anchor="middle" fill="#222">0.00%</text><text transform="translate(177.50 708.90) scale(0.9 1)" font-size="7.4" text-anchor="middle" fill="#222">1.43%</text><text transform="translate(211.70 708.90) scale(0.9 1)" font-size="7.4" text-anchor="middle" fill="#222">7.14%</text><rect x="91.70" y="710.90" width="34.50" height="8.30" fill="#f5d3d0" /><text transform="translate(109.00 717.20) scale(0.9 1)" font-size="7.4" text-anchor="middle" fill="#222">Gain</text><text transform="translate(143.30 717.20) scale(0.9 1)" font-size="7.4" text-anchor="middle" fill="#222">0.00%</text><text transform="translate(177.50 717.20) scale(0.9 1)" font-size="7.4" text-anchor="middle" fill="#222">0.00%</text><text transform="translate(211.70 717.20) scale(0.9 1)" font-size="7.4" text-anchor="middle" fill="#222">0.00%</text><rect x="126.2" y="677.5" width="102.6" height="41.7" stroke="#666" stroke-width="0.9" fill="none"/><line x1="126.2" y1="686.0" x2="228.8" y2="686.0" stroke="#666" stroke-width="0.9" fill="none"/><line x1="79.9" y1="694.3" x2="228.8" y2="694.3" stroke="#666" stroke-width="0.9" fill="none"/><line x1="79.9" y1="702.6" x2="228.8" y2="702.6" stroke="#666" stroke-width="0.9" fill="none"/><line x1="79.9" y1="710.9" x2="228.8" y2="710.9" stroke="#666" stroke-width="0.9" fill="none"/><line x1="79.9" y1="719.2" x2="228.8" y2="719.2" stroke="#666" stroke-width="0.9" fill="none"/><line x1="160.4" y1="686.0" x2="160.4" y2="719.2" stroke="#666" stroke-width="0.9" fill="none"/><line x1="194.6" y1="686.0" x2="194.6" y2="719.2" stroke="#666" stroke-width="0.9" fill="none"/><rect x="79.9" y="694.3" width="46.3" height="24.9" stroke="#666" stroke-width="0.9" fill="none"/><line x1="91.7" y1="694.3" x2="91.7" y2="719.1999999999999" stroke="#666" stroke-width="0.9" fill="none"/>
<rect x="320.80" y="348.30" width="110.40" height="6.70" fill="#111" /><path d="M320.8 349.0 L321.0 344.2 L321.7 349.3 L323.1 344.6 L323.8 347.9 L325.3 345.4 L326.1 347.7 L327.3 341.6 L328.2 348.9 L329.0 347.9 L330.0 348.8 L331.6 342.1 L332.0 348.6 L332.8 342.3 L333.4 347.6 L334.7 344.1 L335.6 348.5 L337.2 344.5 L338.0 348.4 L339.1 348.0 L340.1 349.2 L341.8 343.2 L342.3 348.1 L343.2 346.4 L343.9 349.2 L345.1 347.7 L346.0 347.5 L347.1 347.4 L347.8 349.5 L349.0 341.5 L349.8 349.1 L350.9 341.6 L351.5 349.4 L353.2 341.8 L353.8 347.7 L354.7 346.6 L355.2 348.6 L356.5 342.3 L357.3 347.8 L358.9 341.8 L359.6 347.9 L360.7 347.8 L361.6 348.1 L363.4 342.5 L364.1 349.2 L365.6 341.7 L366.6 347.9 L367.7 346.4 L368.3 348.1 L369.2 341.6 L370.0 348.0 L371.5 343.6 L372.2 349.4 L373.6 345.0 L374.5 347.9 L375.5 347.4 L376.4 348.0 L377.4 346.2 L378.3 347.9 L380.3 347.2 L381.0 348.3 L382.0 341.3 L383.0 348.0 L384.6 342.8 L385.5 348.7 L386.6 342.2 L387.5 347.6 L388.5 344.9 L389.5 348.7 L390.6 347.4 L391.1 347.5 L392.2 344.1 L392.7 347.9 L393.9 345.0 L394.4 348.2 L396.3 347.9 L397.1 348.9 L398.6 342.0 L399.0 347.5 L400.9 345.9 L401.9 347.5 L403.4 344.4 L404.3 348.1 L406.3 341.5 L407.0 349.0 L408.9 346.2 L409.7 349.1 L411.6 343.5 L412.4 349.3 L414.2 343.9 L415.1 349.2 L416.6 345.4 L417.2 348.7 L418.8 341.6 L419.5 349.5 L421.4 346.1 L422.0 349.0 L423.5 344.1 L424.4 347.7 L426.1 341.2 L426.9 348.5 L428.0 345.9 L428.7 348.7 L430.6 342.8 L431.0 348.1 L431.2 349.0 Z" fill="#1a1a1a"/><path d="M342.7 348.3V345.8H346.7V348.3" fill="none" stroke="#333" stroke-width="0.5"/><path d="M391.6 348.2V345.7H398.9V348.2" fill="none" stroke="#333" stroke-width="0.5"/><path d="M356.0 343.4V340.9H366.0V343.4" fill="none" stroke="#333" stroke-width="0.5"/><path d="M367.1 348.4V345.9H378.8V348.4" fill="none" stroke="#333" stroke-width="0.5"/><path d="M415.2 346.1V343.6H421.8V346.1" fill="none" stroke="#333" stroke-width="0.5"/><path d="M354.9 345.5V343.0H358.5V345.5" fill="none" stroke="#333" stroke-width="0.5"/><path d="M410.6 347.0V344.5H422.8V347.0" fill="none" stroke="#333" stroke-width="0.5"/><path d="M422.7 343.2V340.7H428.0V343.2" fill="none" stroke="#333" stroke-width="0.5"/><path d="M369.2 343.5V341.0H374.5V343.5" fill="none" stroke="#333" stroke-width="0.5"/><path d="M365.3 345.5V343.0H374.8V345.5" fill="none" stroke="#333" stroke-width="0.5"/><path d="M354.7 348.9V346.4H366.8V348.9" fill="none" stroke="#333" stroke-width="0.5"/><path d="M369.4 342.2V339.7H372.3V342.2" fill="none" stroke="#333" stroke-width="0.5"/><path d="M414.4 347.0V344.5H416.9V347.0" fill="none" stroke="#333" stroke-width="0.5"/><path d="M382.1 347.5V345.0H387.8V347.5" fill="none" stroke="#333" stroke-width="0.5"/><path d="M323.0 345.2V342.7H326.7V345.2" fill="none" stroke="#333" stroke-width="0.5"/><path d="M323.6 343.7V341.2H335.6V343.7" fill="none" stroke="#333" stroke-width="0.5"/><path d="M336.1 346.4V343.9H338.6V346.4" fill="none" stroke="#333" stroke-width="0.5"/><path d="M368.8 346.6V344.1H378.3V346.6" fill="none" stroke="#333" stroke-width="0.5"/><path d="M407.4 346.8V344.3H420.9V346.8" fill="none" stroke="#333" stroke-width="0.5"/><path d="M342.3 343.3V340.8H350.0V343.3" fill="none" stroke="#333" stroke-width="0.5"/><path d="M322.2 347.0V344.5H329.8V347.0" fill="none" stroke="#333" stroke-width="0.5"/><path d="M340.2 344.4V341.9H345.4V344.4" fill="none" stroke="#333" stroke-width="0.5"/><path d="M395.6 346.3V343.8H403.9V346.3" fill="none" stroke="#333" stroke-width="0.5"/><path d="M401.9 347.5V345.0H408.6V347.5" fill="none" stroke="#333" stroke-width="0.5"/><path d="M418.0 348.5V346.0H421.0V348.5" fill="none" stroke="#333" stroke-width="0.5"/><path d="M398.3 345.2V342.7H401.9V345.2" fill="none" stroke="#333" stroke-width="0.5"/><path d="M387.9 344.6V342.1H400.9V344.6" fill="none" stroke="#333" stroke-width="0.5"/><path d="M381.9 347.6V345.1H394.4V347.6" fill="none" stroke="#333" stroke-width="0.5"/><path d="M422.0 346.6V344.1H429.6V346.6" fill="none" stroke="#333" stroke-width="0.5"/><path d="M342.9 347.7V345.2H353.6V347.7" fill="none" stroke="#333" stroke-width="0.5"/><path d="M389.7 343.5V341.0H400.3V343.5" fill="none" stroke="#333" stroke-width="0.5"/><path d="M417.3 348.8V346.3H431.0V348.8" fill="none" stroke="#333" stroke-width="0.5"/><path d="M321.3 355V337.8H427.5V343" fill="none" stroke="#555" stroke-width="0.7"/><path d="M324 342V339.2H402V343" fill="none" stroke="#666" stroke-width="0.6"/><path d="M360 343V340.3H425V344" fill="none" stroke="#666" stroke-width="0.6"/>
<g shape-rendering="crispEdges"><rect x="320.50" y="355" width="0.68" height="16" fill="#f3c3cc"/><rect x="321.18" y="355" width="1.78" height="16" fill="#2a58a6"/><rect x="322.96" y="355" width="1.78" height="16" fill="#1c3784"/><rect x="324.73" y="355" width="1.78" height="16" fill="#2a58a6"/><rect x="326.51" y="355" width="2.37" height="16" fill="#a3cdea"/><rect x="328.88" y="355" width="2.96" height="16" fill="#2a58a6"/><rect x="331.83" y="355" width="1.78" height="16" fill="#f3c3cc"/><rect x="333.61" y="355" width="3.55" height="16" fill="#1c3784"/><rect x="337.16" y="355" width="1.78" height="16" fill="#f5eff3"/><rect x="338.93" y="355" width="1.78" height="16" fill="#2a58a6"/><rect x="340.71" y="355" width="1.78" height="16" fill="#a3cdea"/><rect x="342.49" y="355" width="2.96" height="16" fill="#1c3784"/><rect x="345.44" y="355" width="1.78" height="16" fill="#a3cdea"/><rect x="347.22" y="355" width="2.50" height="16" fill="#2a58a6"/><rect x="349.72" y="355" width="1.50" height="16" fill="#1c3784"/><rect x="351.22" y="355" width="1.00" height="16" fill="#1c3784"/><rect x="352.22" y="355" width="1.00" height="16" fill="#1c3784"/><rect x="353.22" y="355" width="1.50" height="16" fill="#1c3784"/><rect x="354.72" y="355" width="1.50" height="16" fill="#1c3784"/><rect x="356.22" y="355" width="1.00" height="16" fill="#1c3784"/><rect x="357.22" y="355" width="1.00" height="16" fill="#1c3784"/><rect x="358.22" y="355" width="1.00" height="16" fill="#1c3784"/><rect x="359.22" y="355" width="1.50" height="16" fill="#1c3784"/><rect x="360.72" y="355" width="1.00" height="16" fill="#1c3784"/><rect x="361.72" y="355" width="2.50" height="16" fill="#2a58a6"/><rect x="364.22" y="355" width="2.50" height="16" fill="#2a58a6"/><rect x="366.72" y="355" width="2.00" height="16" fill="#2a58a6"/><rect x="368.72" y="355" width="2.00" height="16" fill="#1c3784"/><rect x="370.72" y="355" width="1.00" height="16" fill="#2a58a6"/><rect x="371.72" y="355" width="2.00" height="16" fill="#1c3784"/><rect x="373.72" y="355" width="1.50" height="16" fill="#2a58a6"/><rect x="375.22" y="355" width="0.40" height="16" fill="#1c3784"/><rect x="375.62" y="355" width="2.37" height="16" fill="#f3c3cc"/><rect x="376.00" y="355" width="1.78" height="16" fill="#f5eff3"/><rect x="377.78" y="355" width="2.96" height="16" fill="#f3c3cc"/><rect x="380.73" y="355" width="2.37" height="16" fill="#1c3784"/><rect x="383.10" y="355" width="1.78" height="16" fill="#2a58a6"/><rect x="384.88" y="355" width="2.37" height="16" fill="#f5eff3"/><rect x="387.24" y="355" width="1.78" height="16" fill="#1c3784"/><rect x="389.02" y="355" width="1.78" height="16" fill="#f5eff3"/><rect x="390.79" y="355" width="1.78" height="16" fill="#f3c3cc"/><rect x="392.57" y="355" width="4.14" height="16" fill="#1c3784"/><rect x="396.71" y="355" width="1.78" height="16" fill="#f5eff3"/><rect x="398.49" y="355" width="1.78" height="16" fill="#a3cdea"/><rect x="400.26" y="355" width="1.78" height="16" fill="#f3c3cc"/><rect x="402.04" y="355" width="1.78" height="16" fill="#f5eff3"/><rect x="403.81" y="355" width="2.37" height="16" fill="#a3cdea"/><rect x="406.18" y="355" width="1.78" height="16" fill="#f5eff3"/><rect x="407.95" y="355" width="2.50" height="16" fill="#1c3784"/><rect x="410.45" y="355" width="2.50" height="16" fill="#1c3784"/><rect x="412.95" y="355" width="2.00" height="16" fill="#2a58a6"/><rect x="414.95" y="355" width="0.10" height="16" fill="#1c3784"/><rect x="415.05" y="355" width="1.18" height="16" fill="#3569b2"/><rect x="416.24" y="355" width="1.00" height="16" fill="#2a58a6"/><rect x="417.24" y="355" width="2.50" height="16" fill="#1c3784"/><rect x="419.74" y="355" width="0.05" height="16" fill="#1c3784"/><rect x="419.79" y="355" width="1.18" height="16" fill="#3569b2"/><rect x="420.97" y="355" width="2.50" height="16" fill="#1c3784"/><rect x="423.47" y="355" width="0.46" height="16" fill="#1c3784"/><rect x="423.93" y="355" width="1.18" height="16" fill="#3569b2"/><rect x="425.11" y="355" width="1.00" height="16" fill="#1c3784"/><rect x="426.11" y="355" width="1.00" height="16" fill="#1c3784"/><rect x="427.11" y="355" width="2.00" height="16" fill="#1c3784"/><rect x="429.11" y="355" width="1.33" height="16" fill="#1c3784"/><rect x="320.50" y="371" width="1.28" height="16" fill="#f5eff3"/><rect x="321.78" y="371" width="1.78" height="16" fill="#1c3784"/><rect x="323.55" y="371" width="1.78" height="16" fill="#2a58a6"/><rect x="325.33" y="371" width="1.78" height="16" fill="#f5eff3"/><rect x="327.10" y="371" width="2.37" height="16" fill="#1c3784"/><rect x="329.47" y="371" width="2.37" height="16" fill="#2a58a6"/><rect x="331.83" y="371" width="1.78" height="16" fill="#f5eff3"/><rect x="333.61" y="371" width="1.78" height="16" fill="#f3c3cc"/><rect x="335.38" y="371" width="3.55" height="16" fill="#f5eff3"/><rect x="338.93" y="371" width="1.78" height="16" fill="#f5eff3"/><rect x="340.71" y="371" width="2.96" height="16" fill="#f3c3cc"/><rect x="343.67" y="371" width="1.78" height="16" fill="#f5eff3"/><rect x="345.44" y="371" width="2.96" height="16" fill="#f3c3cc"/><rect x="348.40" y="371" width="1.00" height="16" fill="#1c3784"/><rect x="349.40" y="371" width="1.00" height="16" fill="#2a58a6"/><rect x="350.40" y="371" width="2.00" height="16" fill="#1c3784"/><rect x="352.40" y="371" width="2.00" height="16" fill="#1c3784"/><rect x="354.40" y="371" width="2.00" height="16" fill="#1c3784"/><rect x="356.40" y="371" width="1.50" height="16" fill="#1c3784"/><rect x="357.90" y="371" width="2.00" height="16" fill="#1c3784"/><rect x="359.90" y="371" width="1.00" height="16" fill="#1c3784"/><rect x="360.90" y="371" width="2.50" height="16" fill="#1c3784"/><rect x="363.40" y="371" width="1.50" height="16" fill="#1c3784"/><rect x="364.90" y="371" width="1.00" height="16" fill="#1c3784"/><rect x="365.90" y="371" width="1.00" height="16" fill="#1c3784"/><rect x="366.90" y="371" width="1.03" height="16" fill="#1c3784"/><rect x="367.93" y="371" width="1.78" height="16" fill="#a3cdea"/><rect x="369.70" y="371" width="4.73" height="16" fill="#f5eff3"/><rect x="374.44" y="371" width="1.78" height="16" fill="#f3c3cc"/><rect x="376.21" y="371" width="1.78" height="16" fill="#1c3784"/><rect x="376.00" y="371" width="4.14" height="16" fill="#f3c3cc"/><rect x="380.14" y="371" width="1.50" height="16" fill="#1c3784"/><rect x="381.64" y="371" width="2.00" height="16" fill="#1c3784"/><rect x="383.64" y="371" width="2.50" height="16" fill="#1c3784"/><rect x="386.14" y="371" width="0.51" height="16" fill="#1c3784"/><rect x="386.65" y="371" width="1.78" height="16" fill="#a3cdea"/><rect x="388.43" y="371" width="1.00" height="16" fill="#1c3784"/><rect x="389.43" y="371" width="2.00" height="16" fill="#1c3784"/><rect x="391.43" y="371" width="2.00" height="16" fill="#2a58a6"/><rect x="393.43" y="371" width="2.50" height="16" fill="#1c3784"/><rect x="395.93" y="371" width="1.00" height="16" fill="#2a58a6"/><rect x="396.93" y="371" width="2.50" height="16" fill="#1c3784"/><rect x="399.43" y="371" width="2.50" height="16" fill="#1c3784"/><rect x="401.93" y="371" width="2.50" height="16" fill="#1c3784"/><rect x="404.43" y="371" width="1.00" height="16" fill="#1c3784"/><rect x="405.43" y="371" width="1.50" height="16" fill="#2a58a6"/><rect x="406.93" y="371" width="1.50" height="16" fill="#1c3784"/><rect x="408.43" y="371" width="1.00" height="16" fill="#1c3784"/><rect x="409.43" y="371" width="1.00" height="16" fill="#2a58a6"/><rect x="410.43" y="371" width="1.00" height="16" fill="#2a58a6"/><rect x="411.43" y="371" width="1.00" height="16" fill="#2a58a6"/><rect x="412.43" y="371" width="1.50" height="16" fill="#1c3784"/><rect x="413.93" y="371" width="2.00" height="16" fill="#2a58a6"/><rect x="415.93" y="371" width="2.00" height="16" fill="#1c3784"/><rect x="417.93" y="371" width="1.00" height="16" fill="#1c3784"/><rect x="418.93" y="371" width="0.86" height="16" fill="#1c3784"/><rect x="419.79" y="371" width="1.78" height="16" fill="#eb8c95"/><rect x="421.56" y="371" width="1.78" height="16" fill="#f3c3cc"/><rect x="423.34" y="371" width="2.37" height="16" fill="#2a58a6"/><rect x="425.70" y="371" width="2.37" height="16" fill="#eb8c95"/><rect x="428.07" y="371" width="2.37" height="16" fill="#f3c3cc"/><rect x="320.50" y="387" width="1.28" height="16" fill="#2a58a6"/><rect x="321.78" y="387" width="1.78" height="16" fill="#3569b2"/><rect x="323.55" y="387" width="2.96" height="16" fill="#eb8c95"/><rect x="326.51" y="387" width="1.78" height="16" fill="#f5eff3"/><rect x="328.28" y="387" width="2.37" height="16" fill="#e9484e"/><rect x="330.65" y="387" width="1.18" height="16" fill="#1c3784"/><rect x="331.83" y="387" width="1.78" height="16" fill="#f3c3cc"/><rect x="333.61" y="387" width="4.14" height="16" fill="#f5eff3"/><rect x="337.75" y="387" width="1.78" height="16" fill="#1c3784"/><rect x="339.53" y="387" width="1.78" height="16" fill="#2a58a6"/><rect x="341.30" y="387" width="2.37" height="16" fill="#f5eff3"/><rect x="343.67" y="387" width="2.96" height="16" fill="#f3c3cc"/><rect x="346.63" y="387" width="2.96" height="16" fill="#1c3784"/><rect x="349.59" y="387" width="1.78" height="16" fill="#a3cdea"/><rect x="351.36" y="387" width="1.18" height="16" fill="#1c3784"/><rect x="352.54" y="387" width="1.78" height="16" fill="#f5eff3"/><rect x="354.32" y="387" width="2.37" height="16" fill="#2a58a6"/><rect x="356.69" y="387" width="2.37" height="16" fill="#a3cdea"/><rect x="359.05" y="387" width="2.37" height="16" fill="#1c3784"/><rect x="361.42" y="387" width="2.37" height="16" fill="#2a58a6"/><rect x="363.79" y="387" width="2.50" height="16" fill="#1c3784"/><rect x="366.29" y="387" width="1.50" height="16" fill="#1c3784"/><rect x="367.79" y="387" width="2.50" height="16" fill="#1c3784"/><rect x="370.29" y="387" width="1.50" height="16" fill="#1c3784"/><rect x="371.79" y="387" width="1.00" height="16" fill="#2a58a6"/><rect x="372.79" y="387" width="2.00" height="16" fill="#1c3784"/><rect x="374.79" y="387" width="0.83" height="16" fill="#2a58a6"/><rect x="375.62" y="387" width="2.37" height="16" fill="#3569b2"/><rect x="376.00" y="387" width="2.37" height="16" fill="#a3cdea"/><rect x="378.37" y="387" width="2.37" height="16" fill="#1c3784"/><rect x="380.73" y="387" width="2.37" height="16" fill="#a3cdea"/><rect x="383.10" y="387" width="2.50" height="16" fill="#1c3784"/><rect x="385.60" y="387" width="2.50" height="16" fill="#1c3784"/><rect x="388.10" y="387" width="1.00" height="16" fill="#1c3784"/><rect x="389.10" y="387" width="1.00" height="16" fill="#1c3784"/><rect x="390.10" y="387" width="0.69" height="16" fill="#2a58a6"/><rect x="390.79" y="387" width="1.78" height="16" fill="#f5eff3"/><rect x="392.57" y="387" width="1.00" height="16" fill="#1c3784"/><rect x="393.57" y="387" width="1.00" height="16" fill="#2a58a6"/><rect x="394.57" y="387" width="2.00" height="16" fill="#1c3784"/><rect x="396.57" y="387" width="1.00" height="16" fill="#1c3784"/><rect x="397.57" y="387" width="2.00" height="16" fill="#1c3784"/><rect x="399.57" y="387" width="1.50" height="16" fill="#1c3784"/><rect x="401.07" y="387" width="0.38" height="16" fill="#1c3784"/><rect x="401.44" y="387" width="2.37" height="16" fill="#f5eff3"/><rect x="403.81" y="387" width="1.78" height="16" fill="#a3cdea"/><rect x="405.59" y="387" width="3.55" height="16" fill="#1c3784"/><rect x="409.14" y="387" width="2.37" height="16" fill="#eb8c95"/><rect x="411.50" y="387" width="3.55" height="16" fill="#f3c3cc"/><rect x="415.05" y="387" width="5.92" height="16" fill="#f5eff3"/><rect x="420.97" y="387" width="1.78" height="16" fill="#a3cdea"/><rect x="422.75" y="387" width="1.78" height="16" fill="#1c3784"/><rect x="424.52" y="387" width="1.78" height="16" fill="#f5eff3"/><rect x="426.30" y="387" width="1.78" height="16" fill="#eb8c95"/><rect x="428.07" y="387" width="2.37" height="16" fill="#1c3784"/><rect x="320.50" y="403" width="1.87" height="16" fill="#f3c3cc"/><rect x="322.37" y="403" width="2.37" height="16" fill="#eb8c95"/><rect x="324.73" y="403" width="1.78" height="16" fill="#f3c3cc"/><rect x="326.51" y="403" width="1.78" height="16" fill="#eb8c95"/><rect x="328.28" y="403" width="2.37" height="16" fill="#e9484e"/><rect x="330.65" y="403" width="2.37" height="16" fill="#eb8c95"/><rect x="333.02" y="403" width="2.37" height="16" fill="#1c3784"/><rect x="335.38" y="403" width="2.37" height="16" fill="#3569b2"/><rect x="337.75" y="403" width="1.00" height="16" fill="#2a58a6"/><rect x="338.75" y="403" width="1.00" height="16" fill="#1c3784"/><rect x="339.75" y="403" width="1.50" height="16" fill="#2a58a6"/><rect x="341.25" y="403" width="2.00" height="16" fill="#2a58a6"/><rect x="343.25" y="403" width="2.50" height="16" fill="#1c3784"/><rect x="345.75" y="403" width="2.50" height="16" fill="#2a58a6"/><rect x="348.25" y="403" width="1.50" height="16" fill="#2a58a6"/><rect x="349.75" y="403" width="2.00" height="16" fill="#1c3784"/><rect x="351.75" y="403" width="1.00" height="16" fill="#1c3784"/><rect x="352.75" y="403" width="1.50" height="16" fill="#2a58a6"/><rect x="354.25" y="403" width="1.25" height="16" fill="#1c3784"/><rect x="355.50" y="403" width="1.78" height="16" fill="#a3cdea"/><rect x="357.28" y="403" width="1.00" height="16" fill="#2a58a6"/><rect x="358.28" y="403" width="1.00" height="16" fill="#2a58a6"/><rect x="359.28" y="403" width="2.00" height="16" fill="#1c3784"/><rect x="361.28" y="403" width="1.50" height="16" fill="#2a58a6"/><rect x="362.78" y="403" width="1.50" height="16" fill="#2a58a6"/><rect x="364.28" y="403" width="1.00" height="16" fill="#1c3784"/><rect x="365.28" y="403" width="1.00" height="16" fill="#1c3784"/><rect x="366.28" y="403" width="1.50" height="16" fill="#1c3784"/><rect x="367.78" y="403" width="1.00" height="16" fill="#1c3784"/><rect x="368.78" y="403" width="1.50" height="16" fill="#2a58a6"/><rect x="370.28" y="403" width="1.79" height="16" fill="#1c3784"/><rect x="372.07" y="403" width="2.96" height="16" fill="#1c3784"/><rect x="375.03" y="403" width="1.18" height="16" fill="#f5eff3"/><rect x="376.21" y="403" width="1.78" height="16" fill="#1c3784"/><rect x="376.00" y="403" width="3.55" height="16" fill="#1c3784"/><rect x="379.55" y="403" width="1.78" height="16" fill="#a3cdea"/><rect x="381.33" y="403" width="10.06" height="16" fill="#1c3784"/><rect x="391.38" y="403" width="2.37" height="16" fill="#3569b2"/><rect x="393.75" y="403" width="1.50" height="16" fill="#2a58a6"/><rect x="395.25" y="403" width="1.50" height="16" fill="#1c3784"/><rect x="396.75" y="403" width="2.00" height="16" fill="#1c3784"/><rect x="398.75" y="403" width="2.50" height="16" fill="#1c3784"/><rect x="401.25" y="403" width="2.50" height="16" fill="#2a58a6"/><rect x="403.75" y="403" width="1.00" height="16" fill="#1c3784"/><rect x="404.75" y="403" width="0.83" height="16" fill="#2a58a6"/><rect x="405.59" y="403" width="4.73" height="16" fill="#f5eff3"/><rect x="410.32" y="403" width="2.37" height="16" fill="#f3c3cc"/><rect x="412.69" y="403" width="10.65" height="16" fill="#1c3784"/><rect x="423.34" y="403" width="4.73" height="16" fill="#f3c3cc"/><rect x="428.07" y="403" width="2.37" height="16" fill="#eb8c95"/><rect x="320.50" y="419" width="1.28" height="16" fill="#3569b2"/><rect x="321.78" y="419" width="1.78" height="16" fill="#1c3784"/><rect x="323.55" y="419" width="2.37" height="16" fill="#f5eff3"/><rect x="325.92" y="419" width="2.37" height="16" fill="#1c3784"/><rect x="328.28" y="419" width="1.18" height="16" fill="#2a58a6"/><rect x="329.47" y="419" width="2.37" height="16" fill="#3569b2"/><rect x="331.83" y="419" width="1.78" height="16" fill="#f5eff3"/><rect x="333.61" y="419" width="2.96" height="16" fill="#a3cdea"/><rect x="336.57" y="419" width="3.55" height="16" fill="#1c3784"/><rect x="340.12" y="419" width="2.37" height="16" fill="#3569b2"/><rect x="342.49" y="419" width="2.37" height="16" fill="#1c3784"/><rect x="344.85" y="419" width="2.96" height="16" fill="#3569b2"/><rect x="347.81" y="419" width="1.78" height="16" fill="#1c3784"/><rect x="349.59" y="419" width="2.37" height="16" fill="#3569b2"/><rect x="351.95" y="419" width="3.55" height="16" fill="#1c3784"/><rect x="355.50" y="419" width="2.37" height="16" fill="#3569b2"/><rect x="357.87" y="419" width="1.00" height="16" fill="#1c3784"/><rect x="358.87" y="419" width="1.00" height="16" fill="#2a58a6"/><rect x="359.87" y="419" width="1.50" height="16" fill="#1c3784"/><rect x="361.37" y="419" width="0.05" height="16" fill="#1c3784"/><rect x="361.42" y="419" width="2.96" height="16" fill="#a3cdea"/><rect x="364.38" y="419" width="5.33" height="16" fill="#1c3784"/><rect x="369.70" y="419" width="2.37" height="16" fill="#3569b2"/><rect x="372.07" y="419" width="3.55" height="16" fill="#1c3784"/><rect x="375.62" y="419" width="2.37" height="16" fill="#a3cdea"/><rect x="376.00" y="419" width="2.37" height="16" fill="#1c3784"/><rect x="378.37" y="419" width="1.78" height="16" fill="#3569b2"/><rect x="380.14" y="419" width="1.00" height="16" fill="#1c3784"/><rect x="381.14" y="419" width="1.00" height="16" fill="#1c3784"/><rect x="382.14" y="419" width="1.50" height="16" fill="#1c3784"/><rect x="383.64" y="419" width="1.50" height="16" fill="#1c3784"/><rect x="385.14" y="419" width="2.50" height="16" fill="#1c3784"/><rect x="387.64" y="419" width="2.50" height="16" fill="#1c3784"/><rect x="390.14" y="419" width="1.00" height="16" fill="#1c3784"/><rect x="391.14" y="419" width="1.00" height="16" fill="#1c3784"/><rect x="392.14" y="419" width="0.43" height="16" fill="#1c3784"/><rect x="392.57" y="419" width="2.37" height="16" fill="#a3cdea"/><rect x="394.93" y="419" width="2.37" height="16" fill="#f5eff3"/><rect x="397.30" y="419" width="2.37" height="16" fill="#f3c3cc"/><rect x="399.67" y="419" width="1.78" height="16" fill="#1c3784"/><rect x="401.44" y="419" width="1.78" height="16" fill="#a3cdea"/><rect x="403.22" y="419" width="1.78" height="16" fill="#f5eff3"/><rect x="404.99" y="419" width="5.33" height="16" fill="#1c3784"/><rect x="410.32" y="419" width="1.18" height="16" fill="#f5eff3"/><rect x="411.50" y="419" width="8.28" height="16" fill="#1c3784"/><rect x="419.79" y="419" width="1.78" height="16" fill="#a3cdea"/><rect x="421.56" y="419" width="1.78" height="16" fill="#f5eff3"/><rect x="423.34" y="419" width="2.37" height="16" fill="#1c3784"/><rect x="425.70" y="419" width="1.78" height="16" fill="#eb8c95"/><rect x="427.48" y="419" width="2.96" height="16" fill="#1c3784"/><rect x="320.50" y="435" width="1.28" height="16" fill="#e9484e"/><rect x="321.78" y="435" width="1.18" height="16" fill="#f3c3cc"/><rect x="322.96" y="435" width="1.18" height="16" fill="#e01c22"/><rect x="324.14" y="435" width="1.18" height="16" fill="#f5eff3"/><rect x="325.33" y="435" width="4.73" height="16" fill="#e01c22"/><rect x="330.06" y="435" width="1.18" height="16" fill="#eb8c95"/><rect x="331.24" y="435" width="4.73" height="16" fill="#e01c22"/><rect x="335.98" y="435" width="1.78" height="16" fill="#f5eff3"/><rect x="337.75" y="435" width="10.06" height="16" fill="#e01c22"/><rect x="347.81" y="435" width="1.78" height="16" fill="#f5eff3"/><rect x="349.59" y="435" width="4.73" height="16" fill="#e01c22"/><rect x="354.32" y="435" width="1.78" height="16" fill="#eb8c95"/><rect x="356.09" y="435" width="13.61" height="16" fill="#e01c22"/><rect x="369.70" y="435" width="1.18" height="16" fill="#e9484e"/><rect x="370.89" y="435" width="7.10" height="16" fill="#e01c22"/><rect x="376.00" y="435" width="4.73" height="16" fill="#e01c22"/><rect x="380.73" y="435" width="2.37" height="16" fill="#f5eff3"/><rect x="383.10" y="435" width="19.53" height="16" fill="#e01c22"/><rect x="402.63" y="435" width="1.78" height="16" fill="#eb8c95"/><rect x="404.40" y="435" width="1.78" height="16" fill="#e01c22"/><rect x="406.18" y="435" width="1.78" height="16" fill="#e9484e"/><rect x="407.95" y="435" width="15.38" height="16" fill="#e01c22"/><rect x="423.34" y="435" width="1.78" height="16" fill="#eb8c95"/><rect x="425.11" y="435" width="5.33" height="16" fill="#e01c22"/><rect x="320.50" y="451" width="1.28" height="16" fill="#f5eff3"/><rect x="321.78" y="451" width="1.78" height="16" fill="#eb8c95"/><rect x="323.55" y="451" width="1.78" height="16" fill="#f5eff3"/><rect x="325.33" y="451" width="1.78" height="16" fill="#a3cdea"/><rect x="327.10" y="451" width="2.37" height="16" fill="#f5eff3"/><rect x="329.47" y="451" width="2.37" height="16" fill="#2a58a6"/><rect x="331.83" y="451" width="2.37" height="16" fill="#1c3784"/><rect x="334.20" y="451" width="1.78" height="16" fill="#3569b2"/><rect x="335.98" y="451" width="2.96" height="16" fill="#f3c3cc"/><rect x="338.93" y="451" width="3.55" height="16" fill="#f5eff3"/><rect x="342.49" y="451" width="2.37" height="16" fill="#2a58a6"/><rect x="344.85" y="451" width="4.14" height="16" fill="#1c3784"/><rect x="348.99" y="451" width="2.37" height="16" fill="#a3cdea"/><rect x="351.36" y="451" width="2.37" height="16" fill="#1c3784"/><rect x="353.73" y="451" width="1.78" height="16" fill="#f5eff3"/><rect x="355.50" y="451" width="2.37" height="16" fill="#a3cdea"/><rect x="357.87" y="451" width="1.78" height="16" fill="#f5eff3"/><rect x="359.64" y="451" width="1.78" height="16" fill="#2a58a6"/><rect x="361.42" y="451" width="1.00" height="16" fill="#1c3784"/><rect x="362.42" y="451" width="1.00" height="16" fill="#2a58a6"/><rect x="363.42" y="451" width="2.50" height="16" fill="#1c3784"/><rect x="365.92" y="451" width="1.00" height="16" fill="#1c3784"/><rect x="366.92" y="451" width="2.00" height="16" fill="#1c3784"/><rect x="368.92" y="451" width="2.50" height="16" fill="#1c3784"/><rect x="371.42" y="451" width="0.65" height="16" fill="#1c3784"/><rect x="372.07" y="451" width="2.37" height="16" fill="#a3cdea"/><rect x="374.44" y="451" width="3.55" height="16" fill="#1c3784"/><rect x="376.00" y="451" width="3.55" height="16" fill="#1c3784"/><rect x="379.55" y="451" width="1.78" height="16" fill="#a3cdea"/><rect x="381.33" y="451" width="1.50" height="16" fill="#1c3784"/><rect x="382.83" y="451" width="1.50" height="16" fill="#1c3784"/><rect x="384.33" y="451" width="1.50" height="16" fill="#1c3784"/><rect x="385.83" y="451" width="1.50" height="16" fill="#1c3784"/><rect x="387.33" y="451" width="1.00" height="16" fill="#1c3784"/><rect x="388.33" y="451" width="1.00" height="16" fill="#1c3784"/><rect x="389.33" y="451" width="2.00" height="16" fill="#1c3784"/><rect x="391.33" y="451" width="0.06" height="16" fill="#2a58a6"/><rect x="391.38" y="451" width="1.78" height="16" fill="#3569b2"/><rect x="393.16" y="451" width="7.69" height="16" fill="#1c3784"/><rect x="400.85" y="451" width="5.92" height="16" fill="#f5eff3"/><rect x="406.77" y="451" width="4.73" height="16" fill="#1c3784"/><rect x="411.50" y="451" width="2.37" height="16" fill="#3569b2"/><rect x="413.87" y="451" width="1.78" height="16" fill="#f5eff3"/><rect x="415.64" y="451" width="6.51" height="16" fill="#1c3784"/><rect x="422.15" y="451" width="2.37" height="16" fill="#3569b2"/><rect x="424.52" y="451" width="3.55" height="16" fill="#f3c3cc"/><rect x="428.07" y="451" width="2.37" height="16" fill="#1c3784"/><rect x="320.50" y="467" width="1.28" height="16" fill="#f5eff3"/><rect x="321.78" y="467" width="1.78" height="16" fill="#f3c3cc"/><rect x="323.55" y="467" width="2.37" height="16" fill="#eb8c95"/><rect x="325.92" y="467" width="1.78" height="16" fill="#f5eff3"/><rect x="327.69" y="467" width="1.78" height="16" fill="#e9484e"/><rect x="329.47" y="467" width="1.78" height="16" fill="#f5eff3"/><rect x="331.24" y="467" width="1.78" height="16" fill="#eb8c95"/><rect x="333.02" y="467" width="2.37" height="16" fill="#1c3784"/><rect x="335.38" y="467" width="2.37" height="16" fill="#3569b2"/><rect x="337.75" y="467" width="1.78" height="16" fill="#2a58a6"/><rect x="339.53" y="467" width="1.78" height="16" fill="#3569b2"/><rect x="341.30" y="467" width="2.37" height="16" fill="#1c3784"/><rect x="343.67" y="467" width="1.78" height="16" fill="#a3cdea"/><rect x="345.44" y="467" width="2.96" height="16" fill="#2a58a6"/><rect x="348.40" y="467" width="5.92" height="16" fill="#f5eff3"/><rect x="354.32" y="467" width="3.55" height="16" fill="#1c3784"/><rect x="357.87" y="467" width="2.37" height="16" fill="#a3cdea"/><rect x="360.24" y="467" width="2.37" height="16" fill="#1c3784"/><rect x="362.60" y="467" width="2.37" height="16" fill="#3569b2"/><rect x="364.97" y="467" width="4.73" height="16" fill="#1c3784"/><rect x="369.70" y="467" width="1.78" height="16" fill="#3569b2"/><rect x="371.48" y="467" width="4.14" height="16" fill="#1c3784"/><rect x="375.62" y="467" width="2.37" height="16" fill="#f5eff3"/><rect x="376.00" y="467" width="2.37" height="16" fill="#a3cdea"/><rect x="378.37" y="467" width="1.78" height="16" fill="#1c3784"/><rect x="380.14" y="467" width="2.96" height="16" fill="#a3cdea"/><rect x="383.10" y="467" width="1.00" height="16" fill="#1c3784"/><rect x="384.10" y="467" width="1.50" height="16" fill="#1c3784"/><rect x="385.60" y="467" width="1.00" height="16" fill="#1c3784"/><rect x="386.60" y="467" width="1.23" height="16" fill="#1c3784"/><rect x="387.83" y="467" width="1.18" height="16" fill="#3569b2"/><rect x="389.02" y="467" width="1.00" height="16" fill="#1c3784"/><rect x="390.02" y="467" width="1.00" height="16" fill="#2a58a6"/><rect x="391.02" y="467" width="2.00" height="16" fill="#1c3784"/><rect x="393.02" y="467" width="1.00" height="16" fill="#1c3784"/><rect x="394.02" y="467" width="1.00" height="16" fill="#1c3784"/><rect x="395.02" y="467" width="1.10" height="16" fill="#1c3784"/><rect x="396.12" y="467" width="1.78" height="16" fill="#a3cdea"/><rect x="397.89" y="467" width="2.96" height="16" fill="#1c3784"/><rect x="400.85" y="467" width="1.78" height="16" fill="#3569b2"/><rect x="402.63" y="467" width="2.96" height="16" fill="#a3cdea"/><rect x="405.59" y="467" width="5.92" height="16" fill="#1c3784"/><rect x="411.50" y="467" width="2.37" height="16" fill="#3569b2"/><rect x="413.87" y="467" width="5.92" height="16" fill="#1c3784"/><rect x="419.79" y="467" width="1.78" height="16" fill="#3569b2"/><rect x="421.56" y="467" width="2.96" height="16" fill="#a3cdea"/><rect x="424.52" y="467" width="3.55" height="16" fill="#3569b2"/><rect x="428.07" y="467" width="2.37" height="16" fill="#1c3784"/><rect x="320.50" y="483" width="10.15" height="16" fill="#e01c22"/><rect x="330.65" y="483" width="2.37" height="16" fill="#eb8c95"/><rect x="333.02" y="483" width="10.65" height="16" fill="#e01c22"/><rect x="343.67" y="483" width="1.18" height="16" fill="#e9484e"/><rect x="344.85" y="483" width="33.14" height="16" fill="#e01c22"/><rect x="376.00" y="483" width="22.49" height="16" fill="#e01c22"/><rect x="398.49" y="483" width="3.55" height="16" fill="#f5eff3"/><rect x="402.04" y="483" width="8.28" height="16" fill="#e01c22"/><rect x="410.32" y="483" width="1.18" height="16" fill="#eb8c95"/><rect x="411.50" y="483" width="8.28" height="16" fill="#e01c22"/><rect x="419.79" y="483" width="1.78" height="16" fill="#a3cdea"/><rect x="421.56" y="483" width="2.96" height="16" fill="#e01c22"/><rect x="424.52" y="483" width="1.78" height="16" fill="#f3c3cc"/><rect x="426.30" y="483" width="4.14" height="16" fill="#e01c22"/><rect x="320.50" y="499" width="0.68" height="16" fill="#f5eff3"/><rect x="321.18" y="499" width="2.37" height="16" fill="#3569b2"/><rect x="323.55" y="499" width="2.37" height="16" fill="#a3cdea"/><rect x="325.92" y="499" width="1.00" height="16" fill="#1c3784"/><rect x="326.92" y="499" width="1.50" height="16" fill="#2a58a6"/><rect x="328.42" y="499" width="1.00" height="16" fill="#2a58a6"/><rect x="329.42" y="499" width="1.00" height="16" fill="#1c3784"/><rect x="330.42" y="499" width="2.00" height="16" fill="#1c3784"/><rect x="332.42" y="499" width="2.50" height="16" fill="#1c3784"/><rect x="334.92" y="499" width="1.50" height="16" fill="#1c3784"/><rect x="336.42" y="499" width="2.50" height="16" fill="#1c3784"/><rect x="338.92" y="499" width="1.00" height="16" fill="#1c3784"/><rect x="339.92" y="499" width="1.00" height="16" fill="#2a58a6"/><rect x="340.92" y="499" width="1.00" height="16" fill="#2a58a6"/><rect x="341.92" y="499" width="1.50" height="16" fill="#1c3784"/><rect x="343.42" y="499" width="2.50" height="16" fill="#1c3784"/><rect x="345.92" y="499" width="1.30" height="16" fill="#2a58a6"/><rect x="347.22" y="499" width="1.78" height="16" fill="#3569b2"/><rect x="348.99" y="499" width="2.37" height="16" fill="#2a58a6"/><rect x="351.36" y="499" width="2.96" height="16" fill="#a3cdea"/><rect x="354.32" y="499" width="2.50" height="16" fill="#1c3784"/><rect x="356.82" y="499" width="1.00" height="16" fill="#1c3784"/><rect x="357.82" y="499" width="1.00" height="16" fill="#2a58a6"/><rect x="358.82" y="499" width="1.00" height="16" fill="#2a58a6"/><rect x="359.82" y="499" width="1.00" height="16" fill="#1c3784"/><rect x="360.82" y="499" width="1.00" height="16" fill="#1c3784"/><rect x="361.82" y="499" width="1.00" height="16" fill="#2a58a6"/><rect x="362.82" y="499" width="2.00" height="16" fill="#2a58a6"/><rect x="364.82" y="499" width="1.00" height="16" fill="#2a58a6"/><rect x="365.82" y="499" width="2.50" height="16" fill="#2a58a6"/><rect x="368.32" y="499" width="1.00" height="16" fill="#1c3784"/><rect x="369.32" y="499" width="1.00" height="16" fill="#1c3784"/><rect x="370.32" y="499" width="1.50" height="16" fill="#2a58a6"/><rect x="371.82" y="499" width="1.50" height="16" fill="#2a58a6"/><rect x="373.32" y="499" width="1.50" height="16" fill="#2a58a6"/><rect x="374.82" y="499" width="1.00" height="16" fill="#1c3784"/><rect x="375.82" y="499" width="1.00" height="16" fill="#1c3784"/><rect x="376.82" y="499" width="1.17" height="16" fill="#1c3784"/><rect x="376.00" y="499" width="3.55" height="16" fill="#1c3784"/><rect x="379.55" y="499" width="1.78" height="16" fill="#3569b2"/><rect x="381.33" y="499" width="2.50" height="16" fill="#1c3784"/><rect x="383.83" y="499" width="1.00" height="16" fill="#2a58a6"/><rect x="384.83" y="499" width="1.50" height="16" fill="#2a58a6"/><rect x="386.33" y="499" width="1.00" height="16" fill="#2a58a6"/><rect x="387.33" y="499" width="2.50" height="16" fill="#2a58a6"/><rect x="389.83" y="499" width="2.50" height="16" fill="#1c3784"/><rect x="392.33" y="499" width="1.00" height="16" fill="#2a58a6"/><rect x="393.33" y="499" width="1.50" height="16" fill="#1c3784"/><rect x="394.83" y="499" width="2.00" height="16" fill="#1c3784"/><rect x="396.83" y="499" width="1.00" height="16" fill="#2a58a6"/><rect x="397.83" y="499" width="2.00" height="16" fill="#1c3784"/><rect x="399.83" y="499" width="2.00" height="16" fill="#1c3784"/><rect x="401.83" y="499" width="0.80" height="16" fill="#2a58a6"/><rect x="402.63" y="499" width="2.37" height="16" fill="#3569b2"/><rect x="404.99" y="499" width="4.14" height="16" fill="#2a58a6"/><rect x="409.14" y="499" width="2.37" height="16" fill="#a3cdea"/><rect x="411.50" y="499" width="11.83" height="16" fill="#1c3784"/><rect x="423.34" y="499" width="2.37" height="16" fill="#3569b2"/><rect x="425.70" y="499" width="2.37" height="16" fill="#a3cdea"/><rect x="428.07" y="499" width="2.37" height="16" fill="#1c3784"/></g>
<text x="434" y="366.2" font-size="9" text-anchor="start" fill="#222" >6q</text>
<text x="434" y="382.2" font-size="9" text-anchor="start" fill="#222" >8p</text>
<text x="434" y="398.2" font-size="9" text-anchor="start" fill="#222" >9p</text>
<text x="434" y="414.2" font-size="9" text-anchor="start" fill="#222" >12p</text>
<text x="434" y="430.2" font-size="9" text-anchor="start" fill="#222" >13q</text>
<text x="434" y="446.2" font-size="9" text-anchor="start" fill="#222" >15q</text>
<text x="434" y="462.2" font-size="9" text-anchor="start" fill="#222" >16p</text>
<text x="434" y="478.2" font-size="9" text-anchor="start" fill="#222" >17p</text>
<text x="434" y="494.2" font-size="9" text-anchor="start" fill="#222" >19p</text>
<text x="434" y="510.2" font-size="9" text-anchor="start" fill="#222" >19q</text>
<defs><linearGradient id="lg" x1="0" y1="0" x2="0" y2="1"><stop offset="0" stop-color="#b2182b"/><stop offset="0.18" stop-color="#d6304a"/><stop offset="0.38" stop-color="#fde0ea"/><stop offset="0.47" stop-color="#ffffff"/><stop offset="0.58" stop-color="#ffffff"/><stop offset="0.66" stop-color="#bfe6f3"/><stop offset="0.8" stop-color="#2f8ac4"/><stop offset="1" stop-color="#1a2f7a"/></linearGradient></defs>
<rect x="452.40" y="355.00" width="3.40" height="57.80" fill="url(#lg)" />
<text x="458" y="358.5" font-size="8.5" text-anchor="start" fill="#222" >3</text>
<text x="458" y="368.6" font-size="8.5" text-anchor="start" fill="#222" >2</text>
<text x="458" y="377.4" font-size="8.5" text-anchor="start" fill="#222" >1</text>
<text x="458" y="386.9" font-size="8.5" text-anchor="start" fill="#222" >0</text>
<text x="458" y="397.0" font-size="8.5" text-anchor="start" fill="#222" >−1</text>
<text x="458" y="406.0" font-size="8.5" text-anchor="start" fill="#222" >−2</text>
<text x="458" y="415.2" font-size="8.5" text-anchor="start" fill="#222" >−3</text>
<text transform="translate(472.90 367.00) scale(0.9 1)" font-size="9" text-anchor="start" fill="#222">Gain</text>
<text transform="translate(474.70 405.20) scale(0.89 1)" font-size="9" text-anchor="start" fill="#222">Deletion</text>
<line x1="479.3" y1="372" x2="479.3" y2="394" stroke="#111" stroke-width="1"/>
<path d="M479.3 369.5 L476.8 374.5 L481.8 374.5 Z" fill="#111"/>
<path d="M479.3 396.5 L476.8 391.5 L481.8 391.5 Z" fill="#111"/>
<text transform="translate(316.20 523.60) scale(0.9 1)" font-size="8.8" text-anchor="start" fill="#222">Cells</text>
<line x1="335" y1="521.8" x2="417" y2="521.8" stroke="#111" stroke-width="1"/>
<path d="M422 521.8 L415.5 519.3 L415.5 524.3 Z" fill="#111"/>
<rect x="365.50" y="526.30" width="66.30" height="9.20" fill="#d9d9d9" /><text transform="translate(398.60 533.20) scale(0.9 1)" font-size="7.6" text-anchor="middle" fill="#222">chr16p</text><rect x="365.50" y="535.50" width="33.15" height="9.50" fill="#dbe7f3" /><rect x="398.65" y="535.50" width="33.15" height="9.50" fill="#dcefd6" /><text transform="translate(382.10 542.70) scale(0.9 1)" font-size="7.6" text-anchor="middle" fill="#222">Deletion</text><text transform="translate(415.20 542.70) scale(0.9 1)" font-size="7.6" text-anchor="middle" fill="#222">WT</text><rect x="317.50" y="545.00" width="15.00" height="22.50" fill="#f6c48a" /><text transform="translate(327.6 556.2) rotate(-90)" font-size="7" text-anchor="middle" fill="#333">chr17p</text><rect x="332.50" y="545.00" width="33.00" height="12.00" fill="#dbe7f3" /><rect x="332.50" y="557.00" width="33.00" height="10.50" fill="#dcefd6" /><text transform="translate(349.00 554.00) scale(0.9 1)" font-size="7.6" text-anchor="middle" fill="#222">Deletion</text><text transform="translate(349.00 564.70) scale(0.9 1)" font-size="7.6" text-anchor="middle" fill="#222">WT</text><text transform="translate(382.10 554.20) scale(0.9 1)" font-size="7.6" text-anchor="middle" fill="#222">63.00%</text><text transform="translate(415.20 554.20) scale(0.9 1)" font-size="7.6" text-anchor="middle" fill="#222">13.57%</text><text transform="translate(382.10 564.70) scale(0.9 1)" font-size="7.6" text-anchor="middle" fill="#222">10.53%</text><text transform="translate(415.20 564.70) scale(0.9 1)" font-size="7.6" text-anchor="middle" fill="#222">12.90%</text><rect x="365.5" y="526.3" width="66.3" height="41.2" stroke="#555" stroke-width="0.9" fill="none"/><line x1="365.5" y1="535.5" x2="431.8" y2="535.5" stroke="#555" stroke-width="0.9" fill="none"/><line x1="317.5" y1="545" x2="431.8" y2="545" stroke="#555" stroke-width="0.9" fill="none"/><line x1="332.5" y1="557" x2="431.8" y2="557" stroke="#555" stroke-width="0.9" fill="none"/><line x1="317.5" y1="567.5" x2="431.8" y2="567.5" stroke="#555" stroke-width="0.9" fill="none"/><line x1="398.6" y1="535.5" x2="398.6" y2="567.5" stroke="#555" stroke-width="0.9" fill="none"/><rect x="317.5" y="545" width="48.0" height="22.5" stroke="#555" stroke-width="0.9" fill="none"/><line x1="332.5" y1="545" x2="332.5" y2="567.5" stroke="#555" stroke-width="0.9" fill="none"/>
<text transform="translate(315 583.3) scale(0.89 1)" font-size="9.4" fill="#222">OR = 5.67 [4.12-7.84] <tspan font-style="italic">P</tspan> &lt; .0001</text>
<rect x="0.5" y="0.5" width="519" height="726" fill="none" stroke="#3a3a3a" stroke-width="1"/>
</svg>
</body></html>
